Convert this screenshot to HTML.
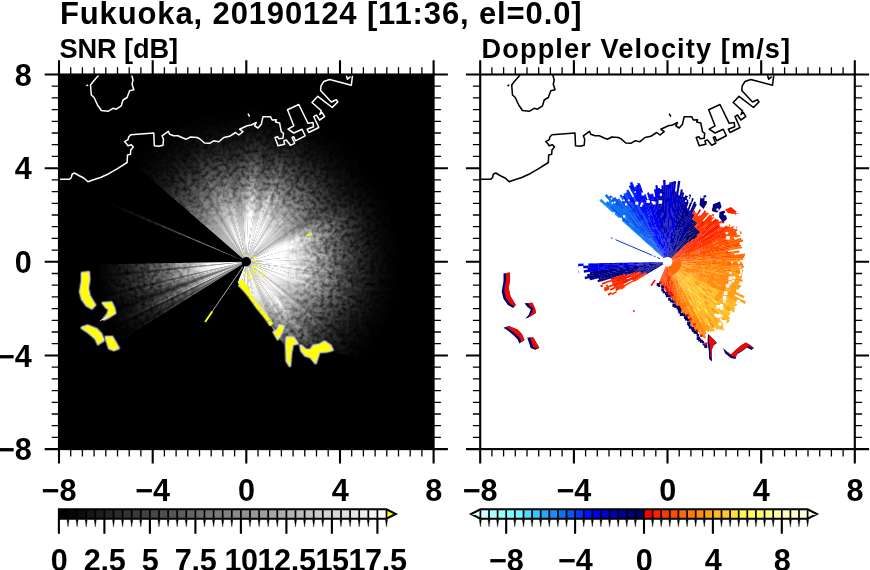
<!DOCTYPE html>
<html lang="en"><head><meta charset="utf-8"><title>Fukuoka, 20190124 [11:36, el=0.0]</title>
<style>
html,body{margin:0;padding:0;background:#fff}
body{width:870px;height:570px;overflow:hidden;position:relative}
svg{position:absolute;left:0;top:0;display:block;will-change:transform}
text{font-family:"Liberation Sans", sans-serif;font-weight:bold;fill:#000}
.ti{font-size:31px;letter-spacing:.87px}
.s1{font-size:27.2px;letter-spacing:-.1px}
.s2{font-size:27.2px;letter-spacing:1.1px}
.tk{font-size:30.6px;letter-spacing:-.3px}
</style></head><body>
<svg width="870" height="570" viewBox="0 0 870 570">
<defs>
<radialGradient id="g0" gradientUnits="userSpaceOnUse" cx="246.3" cy="261.8" r="200"><stop offset="0.000" stop-color="#9e9e9e"/><stop offset="0.080" stop-color="#9e9e9e"/><stop offset="0.130" stop-color="#9b9b9b"/><stop offset="0.180" stop-color="#939393"/><stop offset="0.250" stop-color="#858585"/><stop offset="0.310" stop-color="#727272"/><stop offset="0.375" stop-color="#5a5a5a"/><stop offset="0.440" stop-color="#434343"/><stop offset="0.500" stop-color="#2d2d2d"/><stop offset="0.560" stop-color="#1b1b1b"/><stop offset="0.625" stop-color="#0d0d0d"/><stop offset="0.700" stop-color="#040404"/><stop offset="0.780" stop-color="#000000"/></radialGradient>
<radialGradient id="g1" gradientUnits="userSpaceOnUse" cx="246.3" cy="261.8" r="200"><stop offset="0.000" stop-color="#bcbcbc"/><stop offset="0.080" stop-color="#bcbcbc"/><stop offset="0.130" stop-color="#b9b9b9"/><stop offset="0.180" stop-color="#b0b0b0"/><stop offset="0.250" stop-color="#9f9f9f"/><stop offset="0.310" stop-color="#888888"/><stop offset="0.375" stop-color="#6c6c6c"/><stop offset="0.440" stop-color="#505050"/><stop offset="0.500" stop-color="#363636"/><stop offset="0.560" stop-color="#202020"/><stop offset="0.625" stop-color="#101010"/><stop offset="0.700" stop-color="#050505"/><stop offset="0.780" stop-color="#000000"/></radialGradient>
<radialGradient id="g2" gradientUnits="userSpaceOnUse" cx="246.3" cy="261.8" r="200"><stop offset="0.000" stop-color="#dbdbdb"/><stop offset="0.080" stop-color="#dbdbdb"/><stop offset="0.130" stop-color="#d7d7d7"/><stop offset="0.180" stop-color="#cccccc"/><stop offset="0.250" stop-color="#b8b8b8"/><stop offset="0.310" stop-color="#9e9e9e"/><stop offset="0.375" stop-color="#7d7d7d"/><stop offset="0.440" stop-color="#5d5d5d"/><stop offset="0.500" stop-color="#3e3e3e"/><stop offset="0.560" stop-color="#252525"/><stop offset="0.625" stop-color="#121212"/><stop offset="0.700" stop-color="#060606"/><stop offset="0.780" stop-color="#000000"/></radialGradient>
<radialGradient id="g3" gradientUnits="userSpaceOnUse" cx="246.3" cy="261.8" r="200"><stop offset="0.000" stop-color="#f9f9f9"/><stop offset="0.080" stop-color="#f9f9f9"/><stop offset="0.130" stop-color="#f5f5f5"/><stop offset="0.180" stop-color="#e9e9e9"/><stop offset="0.250" stop-color="#d2d2d2"/><stop offset="0.310" stop-color="#b4b4b4"/><stop offset="0.375" stop-color="#8f8f8f"/><stop offset="0.440" stop-color="#6a6a6a"/><stop offset="0.500" stop-color="#474747"/><stop offset="0.560" stop-color="#2b2b2b"/><stop offset="0.625" stop-color="#151515"/><stop offset="0.700" stop-color="#070707"/><stop offset="0.780" stop-color="#000000"/></radialGradient>
<radialGradient id="g4" gradientUnits="userSpaceOnUse" cx="246.3" cy="261.8" r="200"><stop offset="0.000" stop-color="#ffffff"/><stop offset="0.080" stop-color="#ffffff"/><stop offset="0.130" stop-color="#ffffff"/><stop offset="0.180" stop-color="#ffffff"/><stop offset="0.250" stop-color="#ececec"/><stop offset="0.310" stop-color="#cacaca"/><stop offset="0.375" stop-color="#a0a0a0"/><stop offset="0.440" stop-color="#777777"/><stop offset="0.500" stop-color="#505050"/><stop offset="0.560" stop-color="#303030"/><stop offset="0.625" stop-color="#181818"/><stop offset="0.700" stop-color="#080808"/><stop offset="0.780" stop-color="#000000"/></radialGradient>
<radialGradient id="g5" gradientUnits="userSpaceOnUse" cx="246.3" cy="261.8" r="200"><stop offset="0.000" stop-color="#ffffff"/><stop offset="0.080" stop-color="#ffffff"/><stop offset="0.130" stop-color="#ffffff"/><stop offset="0.180" stop-color="#ffffff"/><stop offset="0.250" stop-color="#ffffff"/><stop offset="0.310" stop-color="#e0e0e0"/><stop offset="0.375" stop-color="#b2b2b2"/><stop offset="0.440" stop-color="#848484"/><stop offset="0.500" stop-color="#595959"/><stop offset="0.560" stop-color="#353535"/><stop offset="0.625" stop-color="#1a1a1a"/><stop offset="0.700" stop-color="#090909"/><stop offset="0.780" stop-color="#000000"/></radialGradient>
<radialGradient id="g6" gradientUnits="userSpaceOnUse" cx="246.3" cy="261.8" r="200"><stop offset="0.000" stop-color="#ffffff"/><stop offset="0.080" stop-color="#ffffff"/><stop offset="0.130" stop-color="#ffffff"/><stop offset="0.180" stop-color="#ffffff"/><stop offset="0.250" stop-color="#ffffff"/><stop offset="0.310" stop-color="#fafafa"/><stop offset="0.375" stop-color="#c6c6c6"/><stop offset="0.440" stop-color="#949494"/><stop offset="0.500" stop-color="#636363"/><stop offset="0.560" stop-color="#3b3b3b"/><stop offset="0.625" stop-color="#1d1d1d"/><stop offset="0.700" stop-color="#0a0a0a"/><stop offset="0.780" stop-color="#000000"/></radialGradient>
<radialGradient id="w0" gradientUnits="userSpaceOnUse" cx="246.3" cy="261.8" r="200"><stop offset="0.000" stop-color="#898989"/><stop offset="0.060" stop-color="#848484"/><stop offset="0.125" stop-color="#797979"/><stop offset="0.210" stop-color="#686868"/><stop offset="0.300" stop-color="#4f4f4f"/><stop offset="0.420" stop-color="#323232"/><stop offset="0.525" stop-color="#1c1c1c"/><stop offset="0.625" stop-color="#0d0d0d"/><stop offset="0.750" stop-color="#000000"/></radialGradient>
<radialGradient id="w1" gradientUnits="userSpaceOnUse" cx="246.3" cy="261.8" r="200"><stop offset="0.000" stop-color="#c8c8c8"/><stop offset="0.060" stop-color="#c0c0c0"/><stop offset="0.125" stop-color="#b0b0b0"/><stop offset="0.210" stop-color="#989898"/><stop offset="0.300" stop-color="#747474"/><stop offset="0.420" stop-color="#494949"/><stop offset="0.525" stop-color="#292929"/><stop offset="0.625" stop-color="#131313"/><stop offset="0.750" stop-color="#000000"/></radialGradient>
<radialGradient id="w2" gradientUnits="userSpaceOnUse" cx="246.3" cy="261.8" r="200"><stop offset="0.000" stop-color="#ffffff"/><stop offset="0.060" stop-color="#fcfcfc"/><stop offset="0.125" stop-color="#e7e7e7"/><stop offset="0.210" stop-color="#c7c7c7"/><stop offset="0.300" stop-color="#989898"/><stop offset="0.420" stop-color="#606060"/><stop offset="0.525" stop-color="#363636"/><stop offset="0.625" stop-color="#191919"/><stop offset="0.750" stop-color="#000000"/></radialGradient>
<radialGradient id="w3" gradientUnits="userSpaceOnUse" cx="246.3" cy="261.8" r="200"><stop offset="0.000" stop-color="#ffffff"/><stop offset="0.060" stop-color="#ffffff"/><stop offset="0.125" stop-color="#ffffff"/><stop offset="0.210" stop-color="#f7f7f7"/><stop offset="0.300" stop-color="#bcbcbc"/><stop offset="0.420" stop-color="#777777"/><stop offset="0.525" stop-color="#434343"/><stop offset="0.625" stop-color="#1f1f1f"/><stop offset="0.750" stop-color="#000000"/></radialGradient>
<clipPath id="fc"><path d="M246.3,261.8L72.7,110.9L40,60L450,60L450,378L385,364L336,353L332.1,349.7L326,346L313.7,346L306,352L300.8,347L296,343L293.4,337.7L287,337.7L286,347.9L279.6,338.7L273.1,329.5L265.8,318.4L256.6,307.4L247.4,294.5L238,283.2L239,279Z"/></clipPath>
<clipPath id="fcr"><path d="M667.5,261.8L493.9,110.9L461.2,60L871.2,60L871.2,378L806.2,364L757.2,353L753.3,349.7L747.2,346L734.9,346L727.2,352L722,347L717.2,343L714.6,337.7L708.2,337.7L707.2,347.9L700.8,338.7L694.3,329.5L687,318.4L677.8,307.4L668.6,294.5L659.2,283.2L660.2,279Z"/></clipPath>
<clipPath id="pl"><rect x="59" y="74.5" width="374.6" height="374.6"/></clipPath>
<clipPath id="pr"><rect x="480.2" y="74.5" width="374.6" height="374.6"/></clipPath>
<filter id="nz" x="0" y="0" width="1" height="1" color-interpolation-filters="sRGB"><feTurbulence type="fractalNoise" baseFrequency="0.24" numOctaves="2" seed="5"/><feColorMatrix type="matrix" values="0 0 0 0 0 0 0 0 0 0 0 0 0 0 0 1.8 0 0 0 -0.62"/></filter>
<radialGradient id="rmg" gradientUnits="userSpaceOnUse" cx="246.3" cy="261.8" r="200"><stop offset="0.18" stop-color="#000"/><stop offset="0.3" stop-color="#666"/><stop offset="0.45" stop-color="#ccc"/><stop offset="0.65" stop-color="#f4f4f4"/></radialGradient>
<mask id="rm" maskUnits="userSpaceOnUse" x="59" y="74.5" width="374.6" height="374.6"><rect x="59" y="74.5" width="374.6" height="374.6" fill="url(#rmg)"/></mask>
</defs>
<rect x="59" y="74.5" width="374.6" height="374.6" fill="#000"/>
<g clip-path="url(#pl)">
<g clip-path="url(#fc)">
<path fill="url(#g1)" d="M246.3,261.8L94.9,131.1L100.5,124.9ZM246.3,261.8L99.6,125.9L106.9,118.4ZM246.3,261.8L105.9,119.4L109.9,115.5ZM246.3,261.8L108.9,116.5L115.1,110.9ZM246.3,261.8L114,111.8L123.7,103.8ZM246.3,261.8L122.6,104.6L127.1,101.2ZM246.3,261.8L140.3,92.2L145.1,89.3ZM246.3,261.8L143.9,90L149.9,86.5ZM246.3,261.8L407.7,143.7L413.7,152.3Z"/>
<path fill="url(#g2)" d="M246.3,261.8L125.9,102.1L134.5,96ZM246.3,261.8L133.3,96.8L138,93.7ZM246.3,261.8L136.8,94.4L141.5,91.5ZM246.3,261.8L148.7,87.2L159.9,81.4ZM246.3,261.8L177.9,73.9L189.8,69.9ZM246.3,261.8L203.4,66.5L211.6,64.8ZM246.3,261.8L210.2,65.1L222.6,63.2ZM246.3,261.8L221.2,63.4L233.7,62.2ZM246.3,261.8L348.7,90L355.8,94.4ZM246.3,261.8L372.7,106.8L377,110.4ZM246.3,261.8L381.2,114.1L385.2,117.9ZM246.3,261.8L384.2,117L390.2,122.9ZM246.3,261.8L394,126.9L399.5,133.2ZM246.3,261.8L398.6,132.2L405.2,140.3ZM246.3,261.8L404.3,139.2L408.5,144.8ZM246.3,261.8L412.9,151.1L416.6,157ZM246.3,261.8L415.9,155.8L419.5,161.8ZM246.3,261.8L407.7,379.9L402.6,386.6ZM246.3,261.8L403.5,385.5L400,389.8ZM246.3,261.8L337.7,439.7L331.5,442.8ZM246.3,261.8L332.7,442.2L321.2,447.2ZM246.3,261.8L263,461.1L257.5,461.5ZM246.3,261.8L228.2,461L221.2,460.2Z"/>
<path fill="url(#g3)" d="M246.3,261.8L158.6,82L163.7,79.7ZM246.3,261.8L162.4,80.2L167.5,78ZM246.3,261.8L166.2,78.5L174,75.3ZM246.3,261.8L172.7,75.8L179.2,73.4ZM246.3,261.8L188.5,70.3L200.6,67.1ZM246.3,261.8L199.3,67.4L204.7,66.2ZM246.3,261.8L232.3,62.3L244.9,61.8ZM246.3,261.8L277.6,64.3L284.5,65.5ZM246.3,261.8L283.1,65.2L289.9,66.6ZM246.3,261.8L288.6,66.3L300.8,69.4ZM246.3,261.8L316.7,74.6L324.4,77.7ZM246.3,261.8L323.2,77.2L328.3,79.4ZM246.3,261.8L337.1,83.6L346.3,88.6ZM246.3,261.8L345.1,87.9L349.9,90.7ZM246.3,261.8L354.6,93.7L365,100.8ZM246.3,261.8L363.9,100L373.8,107.7ZM246.3,261.8L375.9,109.5L382.2,115.1ZM246.3,261.8L389.2,121.9L394.9,128ZM246.3,261.8L418.8,160.6L423.9,169.8ZM246.3,261.8L444.7,286.9L443.7,293.8ZM246.3,261.8L427,347.6L421.2,358.8ZM246.3,261.8L421.9,357.5L419.2,362.4ZM246.3,261.8L419.9,361.2L413.3,371.9ZM246.3,261.8L414,370.7L406.9,381ZM246.3,261.8L393.5,397.2L388.7,402.2ZM246.3,261.8L389.7,401.2L383.7,407.1ZM246.3,261.8L384.7,406.2L377,413.2ZM246.3,261.8L360.4,426L355.8,429.2ZM246.3,261.8L357,428.4L352.3,431.4ZM246.3,261.8L347.5,434.3L341.4,437.7ZM246.3,261.8L342.7,437.1L336.5,440.3ZM246.3,261.8L322.5,446.7L317.3,448.8ZM246.3,261.8L318.6,448.3L306.8,452.4ZM246.3,261.8L308.1,452L301.4,454.1ZM246.3,261.8L302.8,453.7L296,455.5ZM246.3,261.8L297.4,455.2L290.6,456.8ZM246.3,261.8L286.5,457.7L279.7,459ZM246.3,261.8L270,460.4L261.6,461.2ZM246.3,261.8L258.9,461.4L248.4,461.8ZM246.3,261.8L249.8,461.8L242.8,461.8ZM246.3,261.8L244.2,461.8L233.7,461.4ZM246.3,261.8L235.1,461.5L226.8,460.8ZM246.3,261.8L206.1,457.7L193.9,454.8ZM246.3,261.8L195.2,455.2L185.2,452.2ZM246.3,261.8L186.5,452.6L181.2,450.9ZM246.3,261.8L182.5,451.4L172.7,447.8ZM246.3,261.8L174,448.3L164.3,444.2Z"/>
<path fill="url(#g4)" d="M246.3,261.8L243.5,61.8L254,61.9ZM246.3,261.8L270.7,63.3L279,64.5ZM246.3,261.8L299.4,69L311.4,72.7ZM246.3,261.8L327,78.8L333.3,81.7ZM246.3,261.8L332.1,81.1L338.3,84.2ZM246.3,261.8L423.2,168.5L427.9,177.9ZM246.3,261.8L438.4,206L441,216.1ZM246.3,261.8L440.7,214.8L442.9,225ZM246.3,261.8L442.6,223.6L443.8,230.5ZM246.3,261.8L443.6,229.1L444.6,236ZM246.3,261.8L444.4,234.7L445.3,241.6ZM246.3,261.8L446.2,255.5L446.3,263.9ZM246.3,261.8L446.3,262.5L446.2,268.1ZM246.3,261.8L446.2,266.7L445.7,277.1ZM246.3,261.8L443.9,292.4L442.1,302.7ZM246.3,261.8L440.4,310.2L437.6,320.3ZM246.3,261.8L438,318.9L434.7,328.9ZM246.3,261.8L433.8,331.5L431.7,336.7ZM246.3,261.8L432.3,335.4L428.1,345.1ZM246.3,261.8L428.7,343.8L426.4,348.8ZM246.3,261.8L400.8,388.7L392.6,398.2ZM246.3,261.8L378,412.3L373.8,415.9ZM246.3,261.8L367.8,420.7L359.3,426.8ZM246.3,261.8L353.5,430.7L346.3,435ZM246.3,261.8L292,456.5L285.1,458ZM246.3,261.8L281,458.8L268.6,460.6ZM246.3,261.8L222.6,460.4L215.7,459.4ZM246.3,261.8L217.1,459.7L210.2,458.5ZM246.3,261.8L211.6,458.8L204.7,457.4Z"/>
<path fill="url(#g5)" d="M246.3,261.8L252.6,61.9L260.9,62.3ZM246.3,261.8L259.6,62.2L272.1,63.5ZM246.3,261.8L310.1,72.2L318,75.1ZM246.3,261.8L427.3,176.6L430.1,183ZM246.3,261.8L429.6,181.7L433.5,191.4ZM246.3,261.8L433,190.1L435.4,196.7ZM246.3,261.8L434.9,195.4L438.7,207.3ZM246.3,261.8L445.1,240.2L445.7,245.8ZM246.3,261.8L445.5,244.4L446.2,256.9ZM246.3,261.8L445.8,275.8L444.5,288.3ZM246.3,261.8L442.4,301.3L440,311.5ZM246.3,261.8L435.2,327.6L433.3,332.8ZM246.3,261.8L374.9,415L366.7,421.5Z"/>
</g>
<path fill="url(#w0)" d="M246.3,261.8L57.4,327.4L59,332ZM246.3,261.8L66,348.4L68.2,352.8ZM246.3,261.8L72.3,360.4L74.8,364.7Z"/>
<path fill="url(#w1)" d="M246.3,261.8L47,278.7L47.5,283.6ZM246.3,261.8L51.2,305.6L52.3,310.4ZM246.3,261.8L55.9,323.1L57.5,327.7ZM246.3,261.8L58.9,331.7L60.7,336.2ZM246.3,261.8L68,352.4L70.3,356.8ZM246.3,261.8L70.1,356.5L72.5,360.7ZM246.3,261.8L74.6,364.4L76.8,367.9Z"/>
<path fill="url(#w2)" d="M246.3,261.8L53.3,314.4L54.7,319.1ZM246.3,261.8L54.6,318.8L56,323.4ZM246.3,261.8L60.5,335.9L62.4,340.4ZM246.3,261.8L62.3,340.1L64.2,344.6Z"/>
<path fill="url(#w3)" d="M246.3,261.8L46.3,265.1L46.5,270ZM246.3,261.8L46.5,269.7L46.7,274.5ZM246.3,261.8L46.7,274.2L47,279.1ZM246.3,261.8L47.5,283.2L48,288.1ZM246.3,261.8L48,287.7L48.7,292.6ZM246.3,261.8L48.6,292.2L49.4,297ZM246.3,261.8L49.4,296.7L50.3,301.5ZM246.3,261.8L50.2,301.2L51.2,305.9ZM246.3,261.8L52.2,310L53.4,314.7ZM246.3,261.8L64.1,344.3L66.2,348.7Z"/>
<path d="M246.3,261.8L108.8,201.7L107.6,204.6Z" fill="url(#w1)"/>
<rect x="59" y="74.5" width="374.6" height="374.6" fill="#000" filter="url(#nz)" mask="url(#rm)"/>
<path d="M242.9,266.8L212.4,311.3" stroke="#bbb" stroke-width=".9"/>
<path d="M212.4,311.3L205.1,322" stroke="#ff0" stroke-width="1.9"/>
<path d="M239.5,284L243.5,288L248.8,294.2L257.6,306.5L266.6,317.6L271.5,325" fill="none" stroke="#e8e8d0" stroke-opacity=".55" stroke-width="5.5" stroke-linejoin="round"/>
<path d="M239.5,284L243.5,288L248.8,294.2L257.6,306.5L266.6,317.6L271.5,325" fill="none" stroke="#ff0" stroke-width="3.4" stroke-linejoin="round" stroke-dasharray="9 1 5 0.7 7 1.2"/>
<path d="M237.6,281.5L243,279.5L247,286L251,292L246.5,292.5L241,287Z" fill="#ff0"/>
<path fill="#ff0" d="M253.9,266.3h1.1v1.1h-1.1zM239.3,280.9h0.9v0.9h-0.9zM255.5,282.7h1.8v1.8h-1.8zM254.8,266h1.1v1.1h-1.1zM243,271.1h1.1v1.1h-1.1zM254.6,270.3h1.8v1.8h-1.8zM251.8,266.3h1.4v1.4h-1.4zM261.2,271.8h1.8v1.8h-1.8zM263,275.8h1.1v1.1h-1.1zM252.6,275.9h0.9v0.9h-0.9zM262.4,273.6h0.9v0.9h-0.9zM252.5,267.9h1.1v1.1h-1.1zM252.6,279.8h0.9v0.9h-0.9zM248,277h1.8v1.8h-1.8zM252,267.3h0.9v0.9h-0.9zM246.2,272.8h0.9v0.9h-0.9zM252.4,276.7h0.9v0.9h-0.9zM251.2,278.1h1.1v1.1h-1.1zM255.1,272.9h1.8v1.8h-1.8zM250.2,271.5h1.4v1.4h-1.4zM265.1,273.4h1.1v1.1h-1.1zM252.9,267.1h0.9v0.9h-0.9zM248.8,273.2h1.1v1.1h-1.1zM248.9,271.3h1.4v1.4h-1.4zM262.3,277.1h1.1v1.1h-1.1zM261.5,270.7h1.4v1.4h-1.4zM242.7,283.4h1.8v1.8h-1.8zM245.1,284.9h1.8v1.8h-1.8zM253.6,266.9h1.1v1.1h-1.1zM244.4,275.4h1.8v1.8h-1.8zM247.5,271.2h1.4v1.4h-1.4zM243.3,274h1.4v1.4h-1.4zM252.4,274.3h0.9v0.9h-0.9zM249.3,276.8h1.4v1.4h-1.4zM249,268.4h1.1v1.1h-1.1zM253.3,265.4h1.4v1.4h-1.4zM257.2,258.4h1.1v1.1h-1.1zM252.8,259.8h1.8v1.8h-1.8zM243.4,252.2h1.4v1.4h-1.4zM253.6,256.1h1.8v1.8h-1.8zM247,255.3h0.9v0.9h-0.9zM245.2,254.8h0.9v0.9h-0.9zM252.1,260h0.9v0.9h-0.9zM245.3,255.4h1.1v1.1h-1.1zM257.1,264.6h1.8v1.8h-1.8zM257.3,266.5h1.8v1.8h-1.8z"/>
<path d="M279.6,325.8L283.3,326.7L281.4,332.2L277.8,338.7L274.1,332.2L277.8,330.4ZM287,337.7L293.4,337.7L297,343.3L292.5,344.2L290.6,353.4L289.7,365.4L287,360.8L286.5,346ZM300.8,346L306.3,350.6L310.9,349.7L313.7,346L319.2,345.1L324.7,342L330.2,346L332.1,349.7L326.6,351.2L319.2,351.6L317.3,357.1L315.5,362.6L310.9,357.1L305.4,355.2L301.7,350.6ZM82.3,273.4L88.4,272.5L88.9,279.5L87.5,288.3L89.3,296.2L94.6,305L91.9,308L86.7,305L82.3,298.8L80.5,291.8L82.3,281.3ZM103.3,303.2L111.2,302.7L113.9,308.5L114.7,312.9L107.7,317.3L104,319L107.7,314.6L109.5,309.4L106,306.7ZM82.3,327.8L87.5,326L96.3,329.5L100.7,333.9L103.3,340.1L98.1,343.6L96.3,339.2L92.8,335.7L87.5,331.3ZM106,337.4L112.1,337.4L118.2,348L113.9,349.7L109.5,348Z" fill="#ff0" stroke="#d8d8d0" stroke-opacity=".35" stroke-width="4.6" stroke-linejoin="round"/>
<path d="M279.6,325.8L283.3,326.7L281.4,332.2L277.8,338.7L274.1,332.2L277.8,330.4ZM287,337.7L293.4,337.7L297,343.3L292.5,344.2L290.6,353.4L289.7,365.4L287,360.8L286.5,346ZM300.8,346L306.3,350.6L310.9,349.7L313.7,346L319.2,345.1L324.7,342L330.2,346L332.1,349.7L326.6,351.2L319.2,351.6L317.3,357.1L315.5,362.6L310.9,357.1L305.4,355.2L301.7,350.6ZM82.3,273.4L88.4,272.5L88.9,279.5L87.5,288.3L89.3,296.2L94.6,305L91.9,308L86.7,305L82.3,298.8L80.5,291.8L82.3,281.3ZM103.3,303.2L111.2,302.7L113.9,308.5L114.7,312.9L107.7,317.3L104,319L107.7,314.6L109.5,309.4L106,306.7ZM82.3,327.8L87.5,326L96.3,329.5L100.7,333.9L103.3,340.1L98.1,343.6L96.3,339.2L92.8,335.7L87.5,331.3ZM106,337.4L112.1,337.4L118.2,348L113.9,349.7L109.5,348Z" fill="#ff0" stroke="#e8e8e0" stroke-opacity=".8" stroke-width="2.6" stroke-linejoin="round"/>
<path d="M279.6,325.8L283.3,326.7L281.4,332.2L277.8,338.7L274.1,332.2L277.8,330.4ZM287,337.7L293.4,337.7L297,343.3L292.5,344.2L290.6,353.4L289.7,365.4L287,360.8L286.5,346ZM300.8,346L306.3,350.6L310.9,349.7L313.7,346L319.2,345.1L324.7,342L330.2,346L332.1,349.7L326.6,351.2L319.2,351.6L317.3,357.1L315.5,362.6L310.9,357.1L305.4,355.2L301.7,350.6ZM82.3,273.4L88.4,272.5L88.9,279.5L87.5,288.3L89.3,296.2L94.6,305L91.9,308L86.7,305L82.3,298.8L80.5,291.8L82.3,281.3ZM103.3,303.2L111.2,302.7L113.9,308.5L114.7,312.9L107.7,317.3L104,319L107.7,314.6L109.5,309.4L106,306.7ZM82.3,327.8L87.5,326L96.3,329.5L100.7,333.9L103.3,340.1L98.1,343.6L96.3,339.2L92.8,335.7L87.5,331.3ZM106,337.4L112.1,337.4L118.2,348L113.9,349.7L109.5,348Z" fill="#ff0"/>
<path d="M306.2,235.6l5.6,-1.6" stroke="#ff0" stroke-width="1.8"/>
<path d="M100.2,320.6L107,317.4" stroke="#eee" stroke-width="1"/>
<circle cx="246.3" cy="261.8" r="4.7" fill="#000"/>
<path d="M59.3,179.2L69.6,179.2L71.3,177.5L72.1,174.2L74.6,173L78.8,175.5L83.8,178L88,181.7L92.1,180.3L100.5,177.5L108.8,173.7L117.1,168.8L127.1,162.5L127.5,155L130.5,154.2L130.8,149.7L133.3,147L131.3,144.7L128,145.8L126.3,143.3L124.6,141.7L128,139.7L128.8,136.7L130.8,134.7L153.8,133L154.3,145.8L158.8,146.3L163,145.3L163.5,139.2L162.1,135.8L165.5,133.3L168.3,131.3L169.6,134.2L173.8,135.8L178,135.8L183,138L186.3,139.2L190.5,137L197.1,137.5L199.6,138.7L204.6,143L209.6,143.3L213.8,140.8L218.8,141.7L223.8,137.5L229.6,136.3L235.5,132.5L238.8,135L243,131.7L239.6,129.2L247.1,125.8L251.3,125L256.3,122.5L254.6,125.8L258,128L261.3,124.2L263,116.7L270.5,116.7L272.1,120L276.3,119.7L275.5,122L279.6,123L281.3,131.7L283.5,133.3L283,138.3L278.8,138.7L277.6,136.7L275,137.5L278,145.8L284.6,144.2L283.8,140.8L286.3,140L290.5,145.3L294.6,143.3L292.1,137.5L293.8,136.7L295.5,140.8L305.1,135.8L302.1,129.2L293.8,133L288,129.2L293.8,125.8L287.5,109.7L298.8,104.5L308,123.3L313,122.5L313.5,126.7L307.1,129.2L308.8,132.5L318.8,127.5L313.8,116.7L316.3,115L319.6,120L324.6,116.7L322.1,112.5L319.8,114.5L321.3,110.8L312,102.5L317.8,96.3L332.3,107.5L337.8,101.9L336.3,99.8L331.3,102L320.6,90.5L321,85.8L323.8,81.5L329.6,79.5L336.3,81.3L351.3,85.3L352.5,75.5M98.8,75L93,81.7L90.5,85L91.3,95L94.1,97.5L97.5,105L101.3,110.5L108,111.3L113,108.3L116.3,109.2L121.3,105.8L123,100L127.1,97.5L129.6,90.8L133.8,89.7L132.1,84.2L133,80L131.6,75M86.3,86L88.1,84.8M248,113.7L249.6,116.7M346.3,75.3L347.5,79.2L350.5,76.7" fill="none" stroke="#fff" stroke-width="1.5" stroke-linejoin="round"/>
</g>
<g clip-path="url(#pr)">
<path fill="#1890f8" d="M664.5,259.1L660.6,255.6L660.8,255.4L664.6,259ZM660.8,255.8L656.9,252.3L657.2,252L661,255.6ZM657.1,252.5L653.2,248.9L653.6,248.5L657.4,252.1ZM653.4,249.1L649.5,245.6L649.9,245.1L653.7,248.7ZM649.6,245.8L645.7,242.3L646.3,241.6L650.1,245.2ZM645.9,242.4L642,238.9L642.7,238.2L646.5,241.8ZM642.2,239.1L638.3,235.6L639.1,234.7L642.9,238.4ZM638.5,235.8L634.6,232.2L635.5,231.3L639.3,234.9ZM634.8,232.4L630.8,228.9L631.8,227.8L635.6,231.5ZM631,229.1L627.1,225.6L628.2,224.4L632,228ZM627.3,225.7L623.4,222.2L624.6,220.9L628.4,224.6ZM623.6,222.4L619.7,218.9L621,217.5L624.8,221.1ZM619.9,219.1L616,215.6L617.4,214L621.2,217.7ZM616.1,215.7L612.2,212.2L613.7,210.6L617.5,214.2ZM612.4,212.4L608.5,208.9L610.1,207.1L613.9,210.8ZM608.7,209L604.8,205.5L606.5,203.7L610.3,207.3ZM605,205.7L601.1,202.2L602.9,200.3L606.7,203.9ZM601.3,202.4L599.4,200.7L601.2,198.7L603,200.4ZM664.7,259L660.9,255.3L661.1,255.1L664.8,258.9ZM661.1,255.4L657.4,251.7L657.7,251.4L661.3,255.3ZM643.4,237.8L639.7,234.1L640.5,233.3L644.1,237.1ZM632.8,227.2L629.1,223.5L630.2,222.4L633.8,226.2ZM625.7,220.2L622,216.4L623.4,215.1L627,218.9ZM611.5,206L607.9,202.4L609.7,200.6L613.2,204.4Z"/>
<path fill="#1070f0" d="M664.6,259.1L660.8,255.4L661,255.2L664.7,259ZM610.1,207.5L606.3,203.9L608,202.1L611.7,205.8ZM606.5,204.1L605.5,203.1L607.2,201.3L608.2,202.3ZM657.6,251.9L653.9,248.2L654.3,247.8L657.9,251.6ZM654,248.4L650.3,244.7L650.8,244.2L654.4,248ZM650.5,244.9L646.8,241.2L647.4,240.5L651,244.4ZM647,241.3L643.2,237.6L644,236.9L647.6,240.7ZM639.9,234.3L636.2,230.6L637.1,229.6L640.7,233.5ZM636.3,230.7L632.6,227L633.7,226L637.3,229.8ZM629.2,223.7L625.5,220L626.8,218.8L630.4,222.6ZM622.2,216.6L618.4,212.9L619.9,211.5L623.5,215.3ZM618.6,213.1L614.9,209.4L616.5,207.9L620.1,211.7ZM615.1,209.6L611.4,205.9L613,204.2L616.7,208ZM664.7,258.9L661.1,255.1L661.3,254.9L664.8,258.8ZM661.3,255.3L657.7,251.5L658,251.2L661.5,255.1ZM657.8,251.7L654.2,247.9L654.6,247.5L658.2,251.4ZM654.4,248L650.8,244.2L651.3,243.8L654.8,247.7ZM650.9,244.4L647.3,240.6L648,240L651.5,243.9ZM647.5,240.8L643.9,237L644.6,236.3L648.1,240.2ZM644.1,237.2L640.4,233.4L641.3,232.6L644.8,236.5ZM640.6,233.6L637,229.8L637.9,228.9L641.5,232.8ZM637.2,229.9L633.5,226.1L634.6,225.1L638.1,229.1ZM633.7,226.3L630.1,222.5L631.3,221.4L634.8,225.3ZM630.3,222.7L626.6,218.9L627.9,217.7L631.4,221.6ZM626.8,219.1L623.2,215.3L624.6,214L628.1,217.9ZM623.4,215.5L619.7,211.7L621.3,210.3L624.8,214.2ZM619.9,211.8L616.3,208L617.9,206.5L621.4,210.4ZM616.5,208.2L612.8,204.4L614.6,202.8L618.1,206.7ZM613,204.6L609.4,200.8L611.2,199.1L614.7,203ZM609.6,201L606,197.2L607.9,195.4L611.4,199.3ZM606.1,197.3L604.7,195.8L606.7,194L608.1,195.6ZM664.8,258.8L661.3,254.9L661.5,254.8L664.9,258.8ZM658.1,251.4L654.6,247.5L655,247.1L658.4,251.1ZM648.1,240.3L644.5,236.4L645.3,235.7L648.7,239.7ZM627.9,218L624.4,214.1L625.9,212.9L629.3,216.9ZM624.6,214.3L621.1,210.4L622.6,209.1L626,213.1ZM621.2,210.6L617.7,206.7L619.4,205.3L622.8,209.3ZM625.9,213.2L622.4,209.2L624,207.9L627.3,212ZM665,258.7L661.7,254.6L661.9,254.5L665.1,258.6ZM661.8,254.8L658.5,250.7L658.8,250.5L662,254.7ZM658.7,250.9L655.4,246.9L655.8,246.5L659,250.7ZM655.5,247.1L652.2,243L652.8,242.5L656,246.7ZM652.4,243.2L649.1,239.1L649.7,238.6L652.9,242.7ZM649.2,239.3L645.9,235.2L646.7,234.6L649.9,238.8ZM646.1,235.4L642.7,231.3L643.7,230.6L646.8,234.8ZM639.8,227.7L636.4,223.6L637.6,222.7L640.8,226.8ZM636.6,223.8L633.3,219.7L634.5,218.7L637.7,222.9ZM633.4,219.9L630.1,215.8L631.5,214.7L634.7,218.9ZM630.3,216L627,211.9L628.5,210.8L631.7,214.9ZM627.1,212.1L623.8,208.1L625.4,206.8L628.6,211ZM624,208.3L620.7,204.2L622.4,202.8L625.6,207ZM620.8,204.4L617.5,200.3L619.4,198.8L622.6,203ZM617.7,200.5L617,199.7L618.9,198.2L619.5,199ZM665.1,258.6L662,254.3L662.3,254.2L665.2,258.5ZM656.3,246.4L653.2,242.2L653.8,241.8L656.8,246.1ZM653.4,242.4L650.3,238.2L651,237.7L653.9,242ZM650.4,238.4L647.3,234.1L648.1,233.5L651.1,237.9ZM644.5,230.3L641.4,226L642.5,225.3L645.5,229.6ZM641.6,226.2L638.5,222L639.7,221.2L642.6,225.5ZM638.6,222.2L635.5,218L636.9,217L639.8,221.4ZM635.7,218.2L632.6,213.9L634,212.9L637,217.2ZM629.8,210.1L626.7,205.8L628.4,204.7L631.3,209ZM623.9,202L620.8,197.8L622.7,196.4L625.7,200.7Z"/>
<path fill="#0858f0" d="M661,255.6L657.1,252L657.4,251.7L661.1,255.4ZM657.3,252.2L653.5,248.6L653.9,248.2L657.6,251.9ZM653.7,248.7L649.9,245.1L650.4,244.6L654.1,248.3ZM650.1,245.3L646.2,241.7L646.9,241.1L650.6,244.8ZM646.4,241.9L642.6,238.3L643.3,237.5L647,241.3ZM642.8,238.4L639,234.8L639.8,234L643.5,237.7ZM639.2,235L635.3,231.4L636.3,230.5L640,234.2ZM635.5,231.6L631.7,228L632.7,226.9L636.4,230.6ZM631.9,228.1L628.1,224.5L629.2,223.4L632.9,227.1ZM628.3,224.7L624.5,221.1L625.7,219.8L629.4,223.5ZM624.6,221.3L620.8,217.7L622.1,216.3L625.9,220ZM621,217.8L617.2,214.2L618.6,212.7L622.3,216.5ZM617.4,214.4L613.6,210.8L615.1,209.2L618.8,212.9ZM613.7,211L609.9,207.3L611.6,205.7L615.3,209.4ZM661.5,255.1L657.9,251.2L658.3,250.9L661.7,254.9ZM654.8,247.7L651.2,243.8L651.8,243.3L655.2,247.3ZM651.4,244L647.9,240.1L648.5,239.5L651.9,243.5ZM644.7,236.6L641.2,232.7L642.1,231.9L645.5,235.9ZM641.4,232.9L637.8,229L638.8,228.1L642.2,232.1ZM638,229.2L634.5,225.3L635.6,224.3L639,228.3ZM634.6,225.4L631.1,221.5L632.3,220.5L635.7,224.5ZM631.3,221.7L627.8,217.8L629.1,216.7L632.5,220.7ZM617.9,206.9L614.4,203L616.1,201.4L619.5,205.4ZM614.5,203.2L611,199.3L612.9,197.6L616.3,201.6ZM611.2,199.5L608.9,196.9L610.8,195.2L613.1,197.8ZM664.9,258.8L661.5,254.8L661.7,254.6L665,258.7ZM661.6,255L658.2,251L658.6,250.7L661.8,254.8ZM658.4,251.2L655,247.2L655.4,246.8L658.7,250.9ZM655.1,247.4L651.7,243.4L652.3,242.9L655.6,247ZM651.9,243.6L648.5,239.6L649.1,239L652.4,243.1ZM648.6,239.8L645.2,235.8L646,235.1L649.3,239.2ZM645.4,236L642,232L642.9,231.3L646.1,235.3ZM642.1,232.2L638.7,228.2L639.7,227.4L643,231.4ZM638.9,228.4L635.4,224.4L636.6,223.5L639.9,227.6ZM635.6,224.6L632.2,220.6L633.4,219.6L636.7,223.7ZM632.4,220.8L628.9,216.8L630.3,215.7L633.6,219.8ZM629.1,217L625.7,213L627.2,211.8L630.5,215.9ZM622.6,209.4L619.2,205.4L620.9,204L624.2,208.1ZM619.3,205.6L615.9,201.6L617.7,200.1L621,204.2ZM616.1,201.8L613.2,198.5L615.1,196.9L617.9,200.3ZM642.9,231.5L639.6,227.5L640.6,226.6L643.8,230.8ZM665.1,258.6L661.9,254.5L662.1,254.3L665.2,258.6ZM659,250.7L655.8,246.5L656.2,246.2L659.3,250.5ZM655.9,246.7L652.7,242.6L653.3,242.2L656.4,246.4ZM652.9,242.8L649.7,238.6L650.3,238.1L653.4,242.4ZM640.7,226.9L637.5,222.8L638.6,221.9L641.7,226.2ZM634.6,219L631.3,214.9L632.8,213.8L635.8,218.1ZM631.5,215.1L628.3,210.9L629.8,209.8L632.9,214ZM628.5,211.1L625.2,206.9L626.9,205.7L630,210ZM622.3,203.2L621.2,201.7L623.1,200.4L624.1,201.9ZM662.2,254.5L659.1,250.3L659.4,250L662.4,254.4ZM659.3,250.5L656.2,246.2L656.6,245.9L659.6,250.2ZM647.5,234.3L644.4,230.1L645.3,229.4L648.3,233.7ZM632.7,214.1L629.6,209.9L631.2,208.8L634.2,213.1ZM626.8,206L623.8,201.8L625.6,200.5L628.5,204.9ZM621,198L619.4,195.8L621.3,194.4L622.9,196.6ZM665.3,258.4L662.4,254.1L662.7,253.9L665.4,258.4ZM662.6,254.3L659.7,249.9L660.1,249.6L662.8,254.1ZM657.1,245.9L654.3,241.5L654.9,241.1L657.6,245.6ZM654.4,241.7L651.5,237.3L652.3,236.8L655,241.3ZM651.7,237.5L648.8,233.1L649.7,232.6L652.4,237ZM648.9,233.3L646.1,228.9L647.1,228.3L649.8,232.8ZM646.2,229.1L643.3,224.7L644.4,224L647.2,228.5ZM643.5,224.9L640.6,220.5L641.8,219.8L644.6,224.2ZM638,216.6L635.1,212.2L636.6,211.2L639.4,215.7ZM632.5,208.2L629.7,203.8L631.4,202.7L634.2,207.2ZM629.8,204L627,199.6L628.8,198.4L631.6,202.9ZM627.1,199.8L624.2,195.4L626.2,194.2L628.9,198.6ZM624.4,195.6L623.1,193.7L625.1,192.4L626.3,194.4ZM665.6,258.3L663.1,253.7L663.3,253.6L665.7,258.2ZM663.2,253.9L660.7,249.3L661.1,249.1L663.4,253.8ZM660.8,249.5L658.3,244.9L658.8,244.6L661.2,249.3ZM653.6,236.3L651.1,231.7L652,231.3L654.4,235.9ZM651.2,231.9L648.7,227.3L649.7,226.8L652.1,231.5ZM648.8,227.6L646.3,222.9L647.5,222.3L649.9,227ZM646.4,223.2L643.9,218.6L645.2,217.9L647.6,222.6ZM644,218.8L641.5,214.2L643,213.4L645.3,218.1ZM641.7,214.4L639.1,209.8L640.7,209L643.1,213.6ZM639.3,210L636.7,205.4L638.4,204.5L640.8,209.2ZM634.5,201.2L632.4,197.4L634.3,196.4L636.3,200.3Z"/>
<path fill="#0438f0" d="M662,254.7L658.8,250.5L659.1,250.3L662.2,254.5ZM649.8,238.8L646.6,234.7L647.4,234.1L650.5,238.3ZM646.8,234.9L643.6,230.7L644.5,230L647.6,234.3ZM643.7,230.9L640.5,226.7L641.6,226L644.6,230.2ZM637.6,223L634.4,218.8L635.7,217.9L638.8,222.1ZM625.4,207.1L622.2,203L624,201.7L627,205.9ZM665.2,258.5L662.2,254.2L662.5,254L665.3,258.4ZM662.4,254.4L659.4,250.1L659.8,249.8L662.6,254.2ZM659.6,250.3L656.6,246L657,245.6L659.9,250ZM656.7,246.2L653.7,241.8L654.3,241.4L657.2,245.8ZM653.9,242L650.9,237.7L651.6,237.2L654.5,241.6ZM651,237.9L648.1,233.6L648.9,233L651.7,237.5ZM648.2,233.8L645.2,229.5L646.2,228.8L649,233.3ZM645.4,229.7L642.4,225.4L643.5,224.6L646.3,229.1ZM642.5,225.6L639.5,221.3L640.7,220.4L643.6,224.9ZM636.8,217.4L633.9,213L635.3,212.1L638.2,216.5ZM634,213.2L631,208.9L632.6,207.9L635.5,212.3ZM628.3,205L625.3,200.7L627.2,199.5L630,203.9ZM659.9,250.1L657,245.7L657.5,245.4L660.2,249.9ZM640.7,220.8L637.9,216.4L639.2,215.5L642,220ZM635.3,212.4L632.4,208L634,207L636.8,211.4ZM654.9,241.4L652.2,236.9L652.9,236.4L655.5,241ZM649.7,232.8L646.9,228.4L647.9,227.8L650.6,232.3ZM644.4,224.3L641.7,219.9L642.9,219.1L645.6,223.7ZM636.6,211.5L633.8,207.1L635.5,206.1L638.1,210.7ZM634,207.3L631.2,202.8L633,201.8L635.6,206.3ZM628.7,198.8L626,194.3L628,193.1L630.6,197.6ZM626.1,194.5L625.3,193.2L627.3,192L628.1,193.3ZM663,254L660.4,249.5L660.7,249.3L663.2,253.9ZM658,245.4L655.3,240.8L656,240.5L658.5,245.1ZM655.5,241L652.8,236.5L653.6,236.1L656.1,240.7ZM653,236.7L650.3,232.2L651.2,231.7L653.7,236.3ZM650.4,232.4L647.8,227.8L648.8,227.3L651.3,231.9ZM647.9,228.1L645.3,223.5L646.5,222.9L649,227.5ZM645.4,223.7L642.8,219.2L644.1,218.5L646.6,223.1ZM640.4,215.1L637.8,210.5L639.3,209.7L641.8,214.3ZM637.9,210.8L635.3,206.2L636.9,205.3L639.4,209.9ZM630.4,197.8L627.8,193.2L629.8,192.1L632.3,196.7ZM627.9,193.5L626.2,190.6L628.3,189.4L629.9,192.3ZM658.4,245.1L655.9,240.5L656.5,240.2L658.9,244.9ZM656,240.7L653.5,236.1L654.3,235.7L656.6,240.4ZM636.9,205.6L634.4,201L636.2,200L638.5,204.7ZM647.5,222.6L645.1,218L646.4,217.3L648.6,222.1ZM645.2,218.2L642.8,213.5L644.2,212.8L646.5,217.5ZM633.8,195.9L631.4,191.3L633.5,190.2L635.8,195ZM663.8,253.6L661.7,248.8L662.1,248.6L664.1,253.5ZM661.8,249L659.6,244.2L660.2,244L662.2,248.9ZM653.6,230.8L651.5,226L652.5,225.5L654.5,230.4ZM649.5,221.6L647.4,216.8L648.7,216.3L650.7,221.1ZM635.2,189.7L634.1,187.2L636.4,186.3L637.4,188.8ZM664,253.5L662,248.6L662.4,248.5L664.3,253.4ZM648.7,216.6L646.7,211.7L648.1,211.1L650,216ZM656.1,229.8L654.3,224.8L655.4,224.4L657,229.4ZM651.1,215.6L649.3,210.7L650.8,210.2L652.4,215.2ZM664.7,253.2L663.1,248.3L663.5,248.1L665,253.2ZM666.4,258L664.9,252.9L665.1,252.9L666.5,257.9ZM662.1,243.6L660.6,238.6L661.3,238.4L662.6,243.4ZM660.6,238.8L659.1,233.8L660,233.5L661.3,238.6ZM651.3,194.7L651.1,193.8L653.1,193.4L653.3,194.3Z"/>
<path fill="#0010ff" d="M639.7,221.5L636.7,217.1L638,216.3L640.9,220.7ZM631.2,209.1L628.2,204.8L629.9,203.7L632.7,208.1ZM625.5,200.9L622.5,196.6L624.5,195.3L627.3,199.7ZM665.4,258.4L662.7,253.9L662.9,253.8L665.5,258.3ZM662.8,254.1L660,249.7L660.4,249.4L663,254ZM660.2,249.9L657.4,245.4L657.9,245.1L660.5,249.7ZM657.5,245.6L654.8,241.1L655.4,240.8L658,245.3ZM652.3,237.1L649.6,232.6L650.4,232.1L653,236.7ZM647.1,228.6L644.3,224.1L645.4,223.4L648.1,228ZM641.8,220.1L639.1,215.6L640.5,214.8L643.1,219.3ZM639.2,215.8L636.5,211.3L638,210.4L640.6,215ZM631.3,203L628.6,198.6L630.5,197.4L633.1,202ZM665.5,258.3L662.9,253.8L663.1,253.7L665.6,258.3ZM660.5,249.7L657.8,245.1L658.3,244.9L660.8,249.5ZM642.9,219.4L640.3,214.9L641.7,214.1L644.2,218.7ZM635.4,206.4L632.8,201.9L634.6,200.9L637.1,205.5ZM632.9,202.1L630.3,197.6L632.2,196.5L634.7,201.1ZM665.7,258.2L663.3,253.6L663.5,253.4L665.8,258.2ZM663.4,253.8L661,249.1L661.4,248.9L663.6,253.7ZM661.1,249.3L658.7,244.7L659.2,244.4L661.5,249.2ZM658.8,244.9L656.5,240.2L657.1,239.9L659.4,244.6ZM656.6,240.4L654.2,235.8L655,235.4L657.2,240.1ZM654.3,236L651.9,231.3L652.8,230.9L655.1,235.6ZM652,231.5L649.6,226.9L650.7,226.3L652.9,231.1ZM649.7,227.1L647.3,222.4L648.5,221.8L650.8,226.6ZM642.9,213.7L640.5,209.1L642.1,208.3L644.3,213ZM640.6,209.3L638.2,204.6L639.9,203.8L642.2,208.5ZM638.3,204.8L636,200.2L637.8,199.2L640,204ZM636.1,200.4L633.7,195.7L635.7,194.7L637.9,199.5ZM631.5,191.5L629.1,186.8L631.4,185.7L633.6,190.4ZM629.2,187L628.8,186.1L631,185L631.5,185.9ZM665.8,258.2L663.5,253.5L663.8,253.3L665.9,258.1ZM663.6,253.7L661.3,248.9L661.7,248.8L663.9,253.6ZM661.5,249.2L659.2,244.4L659.7,244.2L661.8,249ZM659.3,244.7L657,239.9L657.7,239.6L659.8,244.4ZM657.1,240.2L654.9,235.4L655.6,235.1L657.8,239.9ZM652.8,231.1L650.5,226.4L651.6,225.9L653.7,230.7ZM650.6,226.6L648.4,221.9L649.6,221.3L651.7,226.1ZM646.3,217.6L644.1,212.9L645.5,212.2L647.6,217ZM644.2,213.1L641.9,208.4L643.5,207.6L645.6,212.4ZM642,208.6L639.7,203.9L641.5,203.1L643.6,207.9ZM637.7,199.6L635.4,194.8L637.4,193.9L639.5,198.7ZM633.4,190.6L631.1,185.8L633.4,184.8L635.5,189.6ZM631.2,186L629.7,182.9L632.1,181.8L633.5,185ZM665.9,258.1L663.7,253.4L664,253.2L666,258.1ZM659.7,244.5L657.6,239.7L658.3,239.4L660.3,244.2ZM657.7,239.9L655.6,235.1L656.4,234.8L658.4,239.6ZM655.7,235.3L653.5,230.5L654.4,230.1L656.4,235ZM651.6,226.2L649.4,221.4L650.6,220.9L652.6,225.7ZM647.5,217.1L645.3,212.3L646.8,211.6L648.8,216.5ZM645.5,212.5L643.3,207.7L644.9,207L646.9,211.9ZM643.4,207.9L641.3,203.2L643,202.4L645,207.3ZM641.4,203.4L639.2,198.6L641.1,197.8L643.1,202.6ZM639.3,198.8L637.2,194L639.2,193.2L641.2,198ZM637.3,194.3L635.1,189.5L637.3,188.5L639.3,193.4ZM666,258.1L663.9,253.3L664.2,253.2L666.1,258.1ZM662.1,248.9L660.1,244L660.6,243.8L662.5,248.7ZM660.2,244.3L658.2,239.4L658.8,239.1L660.7,244.1ZM658.3,239.6L656.3,234.8L657.1,234.5L658.9,239.4ZM656.4,235L654.3,230.2L655.3,229.8L657.2,234.7ZM654.4,230.4L652.4,225.6L653.5,225.1L655.4,230ZM650.6,221.2L648.6,216.3L649.9,215.8L651.8,220.7ZM646.7,211.9L644.7,207.1L646.4,206.4L648.2,211.4ZM644.8,207.3L642.8,202.5L644.6,201.8L646.5,206.7ZM642.9,202.7L640.9,197.9L642.8,197.1L644.7,202ZM641,198.1L639,193.3L641,192.4L642.9,197.3ZM639.1,193.5L637,188.6L639.2,187.8L641.1,192.7ZM637.1,188.9L635.8,185.7L638.1,184.8L639.3,188ZM666.1,258.1L664.2,253.2L664.4,253.1L666.2,258ZM662.5,248.7L660.6,243.8L661.1,243.6L662.8,248.6ZM660.7,244.1L658.8,239.2L659.4,238.9L661.2,243.9ZM657.1,234.7L655.2,229.8L656.1,229.5L657.9,234.4ZM651.7,220.8L649.8,215.9L651.1,215.3L652.9,220.3ZM649.9,216.1L648,211.2L649.5,210.6L651.2,215.6ZM642.7,197.4L640.8,192.5L642.8,191.8L644.6,196.7ZM639.1,188.1L637.2,183.2L639.5,182.3L641.3,187.3ZM666.2,258L664.4,253.1L664.7,253L666.3,258ZM664.5,253.3L662.7,248.4L663.1,248.2L664.7,253.2ZM662.8,248.6L661,243.7L661.6,243.5L663.2,248.5ZM661.1,243.9L659.4,239L660,238.7L661.7,243.7ZM659.4,239.2L657.7,234.2L658.5,234L660.1,239ZM657.8,234.5L656,229.5L657,229.2L658.6,234.2ZM654.4,225.1L652.7,220.1L653.9,219.7L655.5,224.7ZM652.7,220.3L651,215.4L652.4,214.9L654,219.9ZM649.4,210.9L647.6,206L649.3,205.4L650.9,210.4ZM647.7,206.2L645.9,201.3L647.8,200.7L649.4,205.7ZM646,201.5L644.3,196.6L646.2,195.9L647.8,200.9ZM644.4,196.8L643.6,194.6L645.6,193.9L646.3,196.1ZM666.3,258L664.6,253L664.9,252.9L666.4,258ZM663.2,248.5L661.5,243.5L662.1,243.3L663.5,248.4ZM661.6,243.7L660,238.7L660.7,238.5L662.1,243.6ZM660,239L658.4,234L659.2,233.7L660.7,238.8ZM647.6,201L647.2,199.8L649.1,199.2L649.4,200.4ZM664.9,253.2L663.4,248.1L663.8,248L665.2,253.1ZM663.5,248.4L662,243.4L662.6,243.2L663.9,248.3ZM659.2,234L657.7,229L658.7,228.7L660,233.8ZM649.2,200.5L647.7,195.4L649.7,194.9L651,200ZM647.8,195.7L647,192.9L649,192.3L649.8,195.1ZM666.5,257.9L665.1,252.9L665.4,252.8L666.6,257.9ZM665.2,253.1L663.8,248L664.2,247.9L665.4,253ZM663.9,248.3L662.5,243.2L663,243.1L664.3,248.2ZM661.2,238.6L659.9,233.6L660.7,233.3L661.9,238.5ZM650.8,200L649.5,194.9L651.5,194.4L652.7,199.5ZM649.5,195.2L649.4,194.6L651.4,194.1L651.5,194.7ZM666.6,257.9L665.3,252.8L665.6,252.7L666.7,257.9ZM665.4,253.1L664.1,247.9L664.6,247.9L665.6,253ZM664.2,248.2L663,243.1L663.5,243L664.6,248.1ZM663,243.3L661.8,238.2L662.5,238.1L663.6,243.2ZM661.9,238.5L660.6,233.4L661.5,233.2L662.6,238.3ZM652.5,199.6L651.2,194.5L653.2,194L654.3,199.2ZM663.5,243.2L662.4,238.1L663.1,237.9L664.1,243.1ZM662.5,238.3L661.4,233.2L662.2,233L663.2,238.2ZM664.5,243L663.7,237.9L664.4,237.8L665.1,243ZM667.3,257.8L667,252.6L667.3,252.6L667.4,257.8ZM608.5,263L603.3,263.1L603.3,265.1L608.6,264.8ZM583.5,263.6L578.3,263.7L578.4,266.3L583.6,266ZM663.5,262.1L658.3,262.5L658.3,262.8L663.5,262.2ZM603.7,266.5L598.4,266.9L598.6,268.9L603.8,268.4Z"/>
<path fill="#0000f0" d="M655,235.6L652.7,230.9L653.6,230.5L655.8,235.3ZM648.5,222.1L646.2,217.4L647.5,216.8L649.7,221.6ZM639.8,204.1L637.6,199.3L639.4,198.5L641.6,203.3ZM635.5,195.1L633.3,190.3L635.4,189.3L637.5,194.1ZM652.5,225.8L650.5,220.9L651.7,220.5L653.6,225.4ZM664.3,253.4L662.4,248.5L662.8,248.4L664.5,253.3ZM658.9,239.4L657,234.5L657.8,234.2L659.5,239.2ZM655.3,230.1L653.4,225.2L654.5,224.8L656.2,229.7ZM653.5,225.4L651.6,220.5L652.8,220.1L654.5,225ZM648.1,211.4L646.2,206.5L647.8,205.9L649.6,210.9ZM646.3,206.8L644.4,201.9L646.2,201.2L647.9,206.1ZM644.5,202.1L642.6,197.2L644.5,196.5L646.2,201.4ZM640.9,192.8L639,187.9L641.2,187L642.9,192ZM637.3,183.4L637.1,183.1L639.5,182.3L639.6,182.6ZM655.4,224.7L653.8,219.7L655,219.4L656.5,224.4ZM653.8,220L652.2,215L653.6,214.6L655.1,219.6ZM652.3,215.2L650.6,210.2L652.2,209.8L653.7,214.8ZM650.7,210.5L649.1,205.5L650.8,205L652.3,210ZM657.8,229.2L656.3,224.2L657.4,223.9L658.8,228.9ZM656.4,224.4L654.9,219.4L656.1,219L657.5,224.1ZM654.9,219.6L653.4,214.6L654.8,214.2L656.2,219.3ZM653.5,214.8L652,209.8L653.6,209.4L654.9,214.4ZM652.1,210.1L650.6,205L652.3,204.5L653.6,209.6ZM650.6,205.3L649.1,200.2L651,199.7L652.3,204.8ZM662.6,243.5L661.2,238.4L661.9,238.2L663.1,243.3ZM658.6,229L657.3,223.9L658.4,223.6L659.6,228.7ZM657.3,224.1L656,219.1L657.2,218.8L658.5,223.9ZM656,219.3L654.7,214.3L656.1,213.9L657.3,219ZM652.1,204.8L650.8,199.8L652.6,199.3L653.8,204.4ZM660.7,233.6L659.4,228.5L660.4,228.3L661.5,233.4ZM659.5,228.8L658.3,223.7L659.4,223.4L660.5,228.5ZM658.3,223.9L657.1,218.8L658.4,218.5L659.5,223.6ZM656,214.2L654.7,209.1L656.3,208.7L657.4,213.9ZM654.8,209.3L653.6,204.2L655.3,203.8L656.4,209ZM666.7,257.9L665.6,252.8L665.8,252.7L666.8,257.9ZM665.6,253L664.5,247.9L664.9,247.8L665.9,252.9ZM664.6,248.1L663.5,243L664,242.9L665,248ZM661.4,233.4L660.3,228.3L661.3,228.1L662.3,233.3ZM654.1,199.2L653.6,196.9L655.5,196.5L655.9,198.9ZM666.8,257.9L665.8,252.7L666.1,252.7L666.9,257.8ZM664.9,248L664,242.9L664.5,242.8L665.3,248ZM664,243.1L663,238L663.7,237.8L664.6,243ZM663.1,238.2L662.1,233L663,232.9L663.8,238.1ZM655.7,198.9L654.8,193.7L656.8,193.4L657.6,198.6ZM654.8,194L653.9,189.3L656.1,188.9L656.8,193.6ZM666.9,257.9L666,252.7L666.3,252.6L667,257.8ZM666.1,252.9L665.2,247.7L665.7,247.7L666.3,252.9ZM665.3,248L664.5,242.8L665,242.7L665.7,247.9ZM663.7,238.1L662.9,232.9L663.7,232.8L664.4,238ZM660.5,218.4L659.7,213.2L661.2,213L661.8,218.2ZM659,208.5L658.1,203.3L659.9,203L660.5,208.2ZM657.4,198.6L656.5,193.4L658.6,193.1L659.3,198.3ZM656.6,193.7L655.8,188.5L657.9,188.2L658.6,193.4ZM655.8,188.7L655.3,185.4L657.5,185L658,188.4ZM667,257.8L666.3,252.6L666.5,252.6L667.1,257.8ZM666.3,252.9L665.6,247.7L666,247.6L666.6,252.8ZM665,243L664.3,237.8L665,237.7L665.5,242.9ZM664.3,238L663.6,232.8L664.5,232.7L665,237.9ZM659,198.4L658.3,193.2L660.4,192.9L660.9,198.1ZM658.4,193.4L657.7,188.3L659.9,188.1L660.4,193.2ZM667.1,257.8L666.5,252.6L666.8,252.6L667.2,257.8ZM666.5,252.9L666,247.6L666.4,247.6L666.8,252.8ZM666,247.9L665.5,242.7L666,242.6L666.4,247.8ZM667,252.8L666.7,247.6L667.2,247.6L667.3,252.8ZM666.7,247.8L666.5,242.6L667,242.6L667.2,247.8ZM666.2,237.8L665.9,232.6L666.8,232.6L666.9,237.8ZM664,197.9L663.8,192.7L665.8,192.6L665.9,197.8ZM663.8,192.9L663.5,187.7L665.7,187.6L665.8,192.8ZM663.5,187.9L663.2,182.7L665.6,182.6L665.7,187.8ZM667.5,252.8L667.5,247.6L667.9,247.6L667.8,252.8ZM667.4,232.8L667.4,227.6L668.5,227.6L668.3,232.8ZM667.4,217.8L667.4,212.6L668.9,212.6L668.7,217.8ZM667.4,207.8L667.4,202.6L669.2,202.6L669,207.8ZM668,242.8L668.1,237.6L668.8,237.6L668.5,242.8ZM669.1,197.8L669.2,192.6L671.2,192.7L671,197.9ZM669.2,192.8L669.3,187.6L671.5,187.7L671.2,192.9ZM669.4,182.8L669.4,182.3L671.8,182.4L671.8,182.9ZM668,252.8L668.2,247.6L668.6,247.6L668.2,252.8ZM668.7,237.8L669,232.6L669.8,232.6L669.4,237.9ZM669,232.8L669.2,227.6L670.2,227.7L669.8,232.9ZM669.2,227.8L669.5,222.6L670.6,222.7L670.2,227.9ZM669.5,222.8L669.7,217.6L671,217.7L670.6,222.9ZM670,212.9L670.2,207.6L671.9,207.7L671.4,213ZM671.2,187.9L671.5,182.7L673.9,182.8L673.4,188ZM669.5,242.9L670,237.7L670.7,237.8L670,243ZM670.5,233L671,227.7L672,227.9L671.3,233.1ZM674.6,193.2L674.8,191.4L676.9,191.6L676.6,193.4ZM663.5,261.9L658.3,262L658.3,262.3L663.5,262ZM648.5,262.2L643.3,262.3L643.3,263L648.5,262.8ZM643.5,262.3L638.3,262.4L638.3,263.3L643.5,263ZM633.5,262.5L628.3,262.6L628.3,263.8L633.5,263.5ZM628.5,262.6L623.3,262.7L623.3,264L628.5,263.8ZM618.5,262.8L613.3,262.9L613.3,264.5L618.6,264.3ZM598.5,263.2L593.3,263.4L593.3,265.6L598.6,265.3ZM593.5,263.3L588.3,263.5L588.4,265.8L593.6,265.5ZM663.5,262L658.3,262.2L658.3,262.5L663.5,262.1ZM658.5,262.2L653.3,262.5L653.3,262.9L658.5,262.5ZM628.5,263.6L623.3,263.9L623.4,265.2L628.6,264.8ZM613.6,264.3L608.3,264.6L608.4,266.3L613.7,265.9ZM608.6,264.6L603.3,264.8L603.4,266.7L608.7,266.3ZM598.6,265.1L593.3,265.3L593.5,267.5L598.7,267.1ZM593.6,265.3L588.3,265.5L588.5,267.9L593.7,267.5ZM658.5,262.5L653.3,262.8L653.3,263.3L658.5,262.7ZM653.5,262.8L648.3,263.2L648.4,263.8L653.6,263.2ZM643.6,263.6L638.3,263.9L638.4,264.8L643.6,264.3ZM638.6,263.9L633.3,264.3L633.4,265.3L638.7,264.8ZM633.6,264.3L628.4,264.7L628.5,265.8L633.7,265.3ZM628.6,264.7L623.4,265L623.5,266.3L628.7,265.8ZM623.6,265L618.4,265.4L618.5,266.9L623.7,266.3ZM598.7,266.9L593.4,267.2L593.6,269.4L598.9,268.9ZM653.6,263.2L648.3,263.7L648.4,264.3L653.6,263.6ZM633.7,265.2L628.4,265.7L628.6,266.9L633.8,266.2ZM628.7,265.7L623.5,266.2L623.6,267.5L628.8,266.8ZM613.8,267.2L608.5,267.7L608.7,269.4L613.9,268.8ZM608.8,267.7L603.6,268.2L603.8,270.1L609,269.4ZM603.8,268.2L598.6,268.7L598.8,270.7L604,270ZM598.8,268.7L593.6,269.2L593.9,271.4L599.1,270.7Z"/>
<path fill="#0000d0" d="M658.5,234.2L656.9,229.2L657.8,228.9L659.3,234ZM656.9,229.5L655.3,224.5L656.4,224.1L657.9,229.2ZM649.2,205.7L647.5,200.7L649.4,200.2L650.8,205.2ZM659.9,233.8L658.6,228.7L659.6,228.5L660.8,233.6ZM654.7,214.5L653.4,209.4L654.9,209L656.1,214.1ZM653.4,209.7L652.1,204.6L653.8,204.2L655,209.3ZM657.2,219L655.9,213.9L657.3,213.6L658.4,218.7ZM653.6,204.5L652.4,199.4L654.3,198.9L655.3,204.1ZM660.4,228.6L659.3,223.4L660.4,223.2L661.4,228.4ZM659.3,223.7L658.2,218.5L659.5,218.3L660.5,223.4ZM658.3,218.8L657.2,213.6L658.6,213.4L659.6,218.5ZM657.2,213.9L656.1,208.8L657.7,208.4L658.7,213.6ZM656.2,209L655.1,203.9L656.8,203.5L657.8,208.7ZM655.1,204.1L654,199L655.9,198.6L656.8,203.8ZM665.8,253L664.9,247.8L665.3,247.7L666.1,252.9ZM661.2,228.4L660.3,223.2L661.4,223L662.2,228.2ZM660.3,223.5L659.4,218.3L660.7,218.1L661.5,223.3ZM659.4,218.6L658.4,213.4L659.9,213.1L660.7,218.3ZM658.5,213.6L657.5,208.5L659.1,208.2L659.9,213.4ZM662.9,233.2L662.1,228L663.1,227.8L663.8,233ZM662.1,228.2L661.3,223L662.4,222.9L663.1,228.1ZM661.3,223.3L660.5,218.1L661.8,217.9L662.5,223.1ZM659.8,213.4L658.9,208.2L660.5,208L661.2,213.2ZM658.2,203.5L657.3,198.4L659.2,198.1L659.9,203.3ZM665.6,247.9L665,242.7L665.5,242.7L666.1,247.9ZM663,228.1L662.3,222.9L663.5,222.8L664,228ZM662.3,223.1L661.6,217.9L663,217.8L663.5,223ZM661.7,218.2L661,213L662.4,212.8L663,218ZM661,213.2L660.3,208L661.9,207.8L662.5,213.1ZM660.4,208.3L659.7,203.1L661.4,202.9L661.9,208.1ZM665.5,242.9L664.9,237.7L665.6,237.6L666,242.9ZM664.9,237.9L664.4,232.7L665.3,232.6L665.7,237.9ZM660.7,198.2L660.1,192.9L662.2,192.8L662.6,198ZM660.2,193.2L659.7,189.3L661.9,189.1L662.2,193ZM667.2,257.8L666.8,252.6L667,252.6L667.3,257.8ZM666.8,252.8L666.4,247.6L666.8,247.6L667,252.8ZM666.4,247.8L666,242.6L666.5,242.6L666.8,247.8ZM666,242.9L665.6,237.6L666.3,237.6L666.5,242.8ZM662.4,198L661.9,192.8L664,192.6L664.3,197.9ZM661.6,188L661.4,185.5L663.6,185.3L663.8,187.9ZM666.5,242.8L666.2,237.6L666.9,237.6L667,242.8ZM665.7,227.8L665.4,222.6L666.5,222.6L666.7,227.8ZM665.4,222.9L665.1,217.6L666.4,217.6L666.5,222.8ZM665.1,217.9L664.8,212.6L666.3,212.6L666.4,217.8ZM664.9,212.9L664.6,207.6L666.2,207.6L666.3,212.8ZM664.6,207.9L664.3,202.6L666.1,202.6L666.2,207.8ZM663.2,182.9L663.1,180.1L665.5,180L665.6,182.8ZM667.1,247.8L667,242.6L667.5,242.6L667.5,247.8ZM666.8,237.8L666.7,232.6L667.6,232.6L667.5,237.8ZM666.3,217.8L666.1,212.6L667.6,212.6L667.6,217.8ZM666,207.8L665.8,202.6L667.6,202.6L667.6,207.8ZM665.9,202.8L665.7,197.6L667.6,197.6L667.6,202.8ZM665.4,187.8L665.4,185L667.6,185L667.6,187.8ZM667.5,257.8L667.5,252.6L667.8,252.6L667.6,257.8ZM667.5,247.8L667.5,242.6L668,242.6L667.9,247.8ZM667.5,242.8L667.5,237.6L668.2,237.6L668,242.8ZM667.5,237.8L667.4,232.6L668.3,232.6L668.2,237.8ZM667.4,227.8L667.4,222.6L668.6,222.6L668.4,227.8ZM667.4,222.8L667.4,217.6L668.7,217.6L668.6,222.8ZM667.4,212.8L667.4,207.6L669,207.6L668.9,212.8ZM667.4,202.8L667.4,197.6L669.3,197.6L669.1,202.8ZM667.4,197.8L667.4,192.6L669.4,192.6L669.3,197.8ZM667.4,192.8L667.4,187.6L669.6,187.6L669.4,192.8ZM667.4,187.8L667.4,184.4L669.7,184.4L669.6,187.8ZM667.6,257.8L667.7,252.6L668,252.6L667.7,257.8ZM667.7,252.8L667.8,247.6L668.3,247.6L668,252.8ZM667.8,247.8L668,242.6L668.5,242.6L668.3,247.8ZM668.1,237.8L668.2,232.6L669.1,232.6L668.8,237.8ZM668.2,232.8L668.3,227.6L669.4,227.6L669.1,232.8ZM668.3,227.8L668.5,222.6L669.6,222.6L669.3,227.8ZM668.5,222.8L668.6,217.6L669.9,217.6L669.6,222.9ZM668.6,217.8L668.7,212.6L670.2,212.6L669.9,217.9ZM668.7,212.8L668.8,207.6L670.4,207.6L670.1,212.9ZM668.8,207.8L668.9,202.6L670.7,202.6L670.4,207.9ZM668.9,202.8L669.1,197.6L671,197.6L670.7,202.9ZM669.3,187.8L669.4,182.6L671.8,182.7L671.5,187.9ZM667.7,257.8L668,252.6L668.2,252.6L667.8,257.8ZM668.2,247.8L668.5,242.6L669,242.6L668.6,247.8ZM668.5,242.8L668.7,237.6L669.4,237.6L669,242.9ZM669.7,217.9L670,212.6L671.4,212.7L671,217.9ZM670.2,207.9L670.5,202.6L672.3,202.7L671.8,208ZM670.5,202.9L670.8,197.6L672.7,197.8L672.2,203ZM670.7,197.9L671,192.6L673.1,192.8L672.6,198ZM671,192.9L671.3,187.6L673.5,187.8L673,193ZM671.5,182.9L671.6,181.8L673.9,181.9L673.8,183.1ZM667.9,257.8L668.5,252.6L668.7,252.6L668,257.8ZM668.4,252.8L669,247.6L669.4,247.7L668.7,252.9ZM668.9,247.9L669.5,242.7L670,242.7L669.4,247.9ZM670,237.9L670.5,232.7L671.4,232.8L670.7,238ZM671,228L671.5,222.8L672.7,222.9L672,228.1ZM671.5,223L672,217.8L673.4,217.9L672.7,223.1ZM672,218L672.6,212.8L674,213L673.3,218.2ZM672.5,213.1L673.1,207.8L674.7,208L674,213.2ZM673.1,208.1L673.6,202.9L675.3,203.1L674.6,208.3ZM673.6,203.1L674.1,197.9L676,198.1L675.3,203.3ZM674.1,198.1L674.6,192.9L676.7,193.2L676,198.4ZM668.7,252.9L669.3,247.7L669.8,247.7L668.9,252.9ZM670.6,238L671.3,232.8L672.1,232.9L671.3,238.1ZM671.9,228.1L672.6,222.9L673.7,223L672.9,228.2ZM672.5,223.1L673.2,217.9L674.5,218.1L673.7,223.3ZM673.8,213.2L674.5,208L676.1,208.2L675.2,213.4ZM675.1,203.3L675.8,198.1L677.7,198.4L676.8,203.5ZM668.1,257.8L668.9,252.7L669.2,252.7L668.2,257.9ZM668.9,252.9L669.7,247.7L670.1,247.8L669.2,253ZM669.7,248L670.5,242.8L671,242.9L670.1,248ZM671.2,238.1L672,232.9L672.9,233L671.9,238.2ZM672,233.1L672.8,228L673.8,228.1L672.8,233.3ZM672.8,228.2L673.6,223L674.7,223.2L673.8,228.4ZM673.5,223.3L674.3,218.1L675.6,218.3L674.7,223.5ZM674.3,218.3L675.1,213.1L676.6,213.4L675.6,218.6ZM675.1,213.4L675.9,208.2L677.5,208.5L676.5,213.6ZM675.9,208.5L676.7,203.3L678.4,203.6L677.4,208.7ZM676.6,203.5L677.4,198.3L679.3,198.6L678.4,203.8ZM677.4,198.6L677.9,195.1L679.9,195.4L679.3,198.9ZM669.1,252.9L670.1,247.8L670.5,247.9L669.4,253ZM670,248L671,242.9L671.5,243L670.4,248.1ZM671.8,238.2L672.8,233L673.6,233.2L672.5,238.3ZM672.7,233.3L673.7,228.1L674.7,228.3L673.6,233.4ZM673.6,228.4L674.6,223.2L675.7,223.4L674.6,228.6ZM677.2,208.7L678.2,203.5L679.9,203.9L678.8,209ZM678.2,203.8L679.1,198.6L681,199L679.9,204.1ZM679.1,198.9L680,193.7L682,194.1L680.9,199.2ZM658.5,262L653.3,262.1L653.3,262.5L658.5,262.3ZM653.5,262.1L648.3,262.2L648.3,262.8L653.5,262.5ZM638.5,262.4L633.3,262.5L633.3,263.5L638.5,263.3ZM623.5,262.7L618.3,262.8L618.3,264.3L623.6,264ZM613.5,262.9L608.3,263L608.3,264.8L613.6,264.5ZM603.5,263.1L598.3,263.3L598.3,265.3L603.6,265ZM578.5,263.7L577.9,263.7L578,266.3L578.6,266.3ZM653.5,262.5L648.3,262.7L648.3,263.3L653.5,262.9ZM643.5,262.9L638.3,263.2L638.3,264L643.6,263.6ZM638.5,263.2L633.3,263.4L633.4,264.4L638.6,264ZM633.5,263.4L628.3,263.6L628.4,264.8L633.6,264.4ZM618.6,264.1L613.3,264.4L613.4,266L618.6,265.6ZM603.6,264.8L598.3,265.1L598.5,267.1L603.7,266.7ZM588.6,265.5L583.3,265.8L583.5,268.3L588.7,267.9ZM583.6,265.8L583.2,265.8L583.3,268.3L583.7,268.2ZM648.6,263.2L643.3,263.6L643.4,264.3L648.6,263.8ZM618.6,265.4L613.4,265.8L613.5,267.4L618.8,266.8ZM613.6,265.8L608.4,266.1L608.6,267.9L613.8,267.4ZM608.7,266.1L603.4,266.5L603.6,268.4L608.8,267.9ZM593.7,267.2L588.5,267.6L588.7,269.9L593.9,269.4ZM588.7,267.6L587.5,267.7L587.7,270L588.9,269.9ZM663.5,262.2L658.3,262.7L658.3,263L663.5,262.3ZM658.5,262.7L653.3,263.2L653.4,263.6L658.6,263ZM648.6,263.7L643.4,264.2L643.5,264.9L648.7,264.2ZM643.6,264.2L638.4,264.7L638.5,265.6L643.7,264.9ZM638.6,264.7L633.4,265.2L633.5,266.2L638.7,265.5ZM623.7,266.2L618.5,266.7L618.7,268.1L623.9,267.5ZM618.7,266.7L613.5,267.2L613.7,268.8L618.9,268.1ZM593.9,269.1L588.6,269.7L588.9,272L594.1,271.3ZM588.9,269.6L583.7,270.2L584,272.7L589.2,272ZM578.9,270.6L578.5,270.7L578.8,273.3L579.2,273.3Z"/>
<path fill="#0000b0" d="M662.2,233.3L661.2,228.1L662.2,228L663,233.1ZM657.6,208.7L656.6,203.6L658.3,203.3L659.1,208.5ZM656.6,203.8L655.7,198.6L657.6,198.3L658.4,203.5ZM663.7,233.1L663,227.9L664,227.7L664.5,233ZM659.7,203.3L659,198.1L660.9,197.9L661.4,203.1ZM664.4,233L663.9,227.7L664.9,227.7L665.3,232.9ZM663.9,228L663.3,222.8L664.5,222.7L664.9,227.9ZM663.4,223L662.8,217.8L664.1,217.7L664.5,222.9ZM662.8,218L662.3,212.8L663.7,212.7L664.1,217.9ZM662.3,213.1L661.7,207.9L663.3,207.7L663.7,212.9ZM661.8,208.1L661.2,202.9L663,202.7L663.4,208ZM661.2,203.1L660.7,197.9L662.6,197.7L663,203ZM665.6,237.9L665.2,232.6L666,232.6L666.3,237.8ZM664.4,222.9L664,217.7L665.3,217.6L665.5,222.8ZM663.6,213L663.1,207.7L664.8,207.6L665,212.9ZM663.2,208L662.7,202.7L664.5,202.6L664.8,207.9ZM662,193L661.5,187.8L663.7,187.6L664,192.9ZM665.9,232.8L665.6,227.6L666.7,227.6L666.8,232.8ZM664.3,202.9L664,197.6L665.9,197.6L666.1,202.8ZM667.4,257.8L667.2,252.6L667.5,252.6L667.5,257.8ZM667.2,252.8L667.1,247.6L667.5,247.6L667.5,252.8ZM667,242.8L666.8,237.6L667.5,237.6L667.5,242.8ZM666.7,232.8L666.5,227.6L667.6,227.6L667.6,232.8ZM666.6,227.8L666.4,222.6L667.6,222.6L667.6,227.8ZM666.4,222.8L666.3,217.6L667.6,217.6L667.6,222.8ZM666.1,212.8L666,207.6L667.6,207.6L667.6,212.8ZM665.7,197.8L665.6,192.6L667.6,192.6L667.6,197.8ZM665.6,192.8L665.4,187.6L667.6,187.6L667.6,192.8ZM667.8,257.8L668.2,252.6L668.5,252.6L667.9,257.8ZM668.2,252.8L668.6,247.6L669,247.6L668.5,252.9ZM669,242.9L669.4,237.6L670.1,237.7L669.5,242.9ZM669.3,237.9L669.7,232.6L670.6,232.7L670.1,237.9ZM669.7,232.9L670.1,227.7L671.1,227.7L670.6,233ZM670.1,227.9L670.5,222.7L671.7,222.8L671.1,228ZM670.9,217.9L671.3,212.7L672.7,212.8L672.2,218ZM671.3,212.9L671.7,207.7L673.3,207.9L672.7,213.1ZM671.6,208L672,202.7L673.8,202.9L673.2,208.1ZM672,203L672.4,197.7L674.3,197.9L673.8,203.1ZM672.8,193L673.2,187.8L675.4,188L674.8,193.2ZM673.2,188L673.6,182.8L675.9,183L675.4,188.2ZM673.6,183L673.7,181.1L676.1,181.3L675.9,183.2ZM668,257.8L668.7,252.6L669,252.7L668.1,257.9ZM669.3,247.9L670,242.7L670.5,242.8L669.7,248ZM669.9,243L670.6,237.8L671.3,237.9L670.5,243ZM671.2,233L671.9,227.8L672.9,228L672.1,233.2ZM673.2,218.2L673.8,213L675.3,213.2L674.5,218.4ZM674.5,208.2L675.1,203L676.9,203.3L676,208.5ZM675.7,198.3L676.4,193.1L678.5,193.4L677.6,198.6ZM676.4,193.4L677.1,188.2L679.2,188.5L678.4,193.7ZM677,188.4L677.7,183.2L680,183.5L679.2,188.7ZM677.7,183.5L678,180.8L680.4,181.2L680,183.8ZM670.4,243L671.3,237.8L672,238L671,243.1ZM668.2,257.9L669.2,252.7L669.4,252.8L668.3,257.9ZM670.9,243.1L671.9,237.9L672.6,238.1L671.5,243.2ZM674.5,223.4L675.5,218.3L676.8,218.5L675.7,223.7ZM675.4,218.5L676.4,213.4L677.8,213.6L676.7,218.8ZM676.3,213.6L677.3,208.4L678.9,208.8L677.8,213.9ZM680,193.9L680.8,189.3L682.9,189.8L682,194.3ZM668.3,257.9L669.4,252.7L669.7,252.8L668.4,257.9ZM671.4,243.2L672.5,238.1L673.2,238.2L672,243.3ZM673.5,233.4L674.6,228.3L675.6,228.5L674.3,233.6ZM674.5,228.5L675.6,223.4L676.7,223.7L675.5,228.8ZM675.5,223.6L676.6,218.5L677.9,218.8L676.7,223.9ZM676.6,218.7L677.7,213.6L679.1,213.9L677.8,219ZM677.6,213.9L678.7,208.7L680.3,209.1L679,214.2ZM679.7,204.1L680.7,198.9L682.6,199.4L681.4,204.5ZM680.7,199.2L681.8,194L683.8,194.5L682.5,199.6ZM668.4,257.9L669.6,252.8L669.9,252.9L668.5,257.9ZM671.9,243.3L673.1,238.2L673.8,238.4L672.4,243.5ZM673.1,238.5L674.3,233.3L675.1,233.6L673.8,238.6ZM674.2,233.6L675.4,228.5L676.4,228.7L675.1,233.8ZM675.4,228.7L676.6,223.6L677.7,223.9L676.4,229ZM680,209.3L681.2,204.2L682.9,204.6L681.6,209.7ZM668.5,257.9L669.9,252.9L670.1,252.9L668.6,258ZM669.8,253.1L671.2,248L671.6,248.1L670.1,253.2ZM671.1,248.3L672.4,243.2L673,243.4L671.5,248.4ZM672.4,243.4L673.7,238.4L674.4,238.6L672.9,243.6ZM673.7,238.6L675,233.5L675.9,233.8L674.4,238.8ZM676.2,228.9L677.6,223.9L678.7,224.2L677.2,229.2ZM678.8,219.3L680.2,214.2L681.6,214.6L680.1,219.6ZM680.1,214.4L681.4,209.4L683,209.8L681.5,214.8ZM681.4,209.6L682.7,204.5L684.4,205L682.9,210.1ZM682.7,204.8L684,199.7L685.9,200.2L684.4,205.3ZM670,253.2L671.5,248.1L671.9,248.3L670.3,253.2ZM672.9,243.6L674.3,238.5L675,238.7L673.4,243.7ZM674.3,238.8L675.8,233.7L676.6,234L675,239ZM675.7,234L677.2,228.9L678.1,229.2L676.5,234.2ZM685.6,200.4L686.9,196L688.8,196.6L687.4,201ZM687.2,200.9L688.8,195.9L690.7,196.6L689,201.5ZM669.1,258.1L671.2,253.3L671.5,253.5L669.2,258.2ZM671.1,253.6L673.3,248.8L673.7,248.9L671.4,253.7ZM675.2,244.4L677.3,239.6L678,239.9L675.7,244.7ZM679.2,235.3L681.4,230.5L682.3,230.9L680,235.6ZM681.3,230.7L683.4,225.9L684.5,226.4L682.2,231.1ZM685.3,221.6L687.5,216.8L688.8,217.4L686.5,222.1ZM689.4,212.4L691.5,207.6L693.1,208.4L690.8,213.1ZM691.4,207.9L693.5,203.1L695.3,203.9L693,208.6ZM693.4,203.3L694.3,201.4L696.1,202.2L695.2,204.1ZM669.2,258.2L671.5,253.4L671.7,253.6L669.3,258.2ZM671.4,253.7L673.6,248.9L674,249.1L671.6,253.8ZM675.6,244.6L677.9,239.9L678.5,240.2L676.2,244.9ZM677.8,240.1L680,235.4L680.8,235.8L678.4,240.4ZM679.9,235.6L682.2,230.9L683.1,231.3L680.7,236ZM684.2,226.6L686.5,221.8L687.7,222.4L685.3,227.1ZM688.5,217.5L690.8,212.8L692.2,213.5L689.8,218.2ZM690.7,213L692.9,208.3L694.5,209.1L692.1,213.7ZM695,204L695.1,203.7L696.8,204.5L696.7,204.8ZM687.4,222.6L689.8,217.9L691.1,218.6L688.6,223.2ZM648.5,262.7L643.3,262.9L643.3,263.7L648.6,263.3ZM623.5,263.9L618.3,264.1L618.4,265.6L623.6,265.2ZM644.3,267.9L639.2,269.2L639.4,270.1L644.5,268.6ZM649.3,267.1L644.2,268.6L644.4,269.3L649.4,267.6ZM630,272.7L625,274.1L625.4,275.4L630.4,273.8ZM663.8,263.4L659,265.5L659.1,265.8L663.9,263.5ZM645.5,271.4L640.7,273.6L641.1,274.3L645.8,272.1Z"/>
<path fill="#000098" d="M665.2,232.9L664.8,227.7L665.8,227.6L666,232.8ZM664.8,227.9L664.4,222.7L665.5,222.6L665.8,227.8ZM664,217.9L663.6,212.7L665,212.6L665.3,217.9ZM662.8,203L662.3,197.8L664.2,197.6L664.5,202.9ZM668.6,247.8L669,242.6L669.5,242.7L669,247.9ZM670.5,222.9L670.9,217.7L672.2,217.8L671.6,223ZM672.4,198L672.8,192.8L674.9,192.9L674.3,198.2ZM669.4,253L670.4,247.9L670.9,247.9L669.6,253.1ZM670.4,248.1L671.5,243L672,243.1L670.8,248.2ZM672.4,238.3L673.5,233.2L674.4,233.4L673.1,238.5ZM678.6,209L679.7,203.8L681.4,204.2L680.2,209.3ZM681.7,194.3L682.2,192.2L684.2,192.7L683.7,194.7ZM669.6,253L670.8,247.9L671.2,248L669.8,253.1ZM670.7,248.2L672,243.1L672.5,243.2L671.1,248.3ZM676.5,223.9L677.8,218.8L679,219.1L677.7,224.1ZM677.7,219L678.9,213.9L680.3,214.3L679,219.3ZM678.9,214.1L680.1,209L681.6,209.4L680.3,214.5ZM681.2,204.4L682.4,199.3L684.2,199.8L682.9,204.8ZM682.3,199.5L683,196.8L684.9,197.3L684.2,200ZM675,233.8L676.3,228.7L677.3,229L675.8,234ZM677.5,224.1L678.9,219L680.1,219.4L678.6,224.4ZM684,200L685.2,195.3L687.2,195.9L685.8,200.5ZM668.6,258L670.1,252.9L670.4,253L668.7,258ZM671.5,248.4L672.9,243.3L673.5,243.5L671.8,248.5ZM677.1,229.2L678.6,224.1L679.7,224.5L678.1,229.5ZM678.5,224.4L680,219.4L681.2,219.7L679.6,224.7ZM679.9,219.6L681.4,214.6L682.8,215L681.2,220ZM681.3,214.8L682.8,209.8L684.4,210.2L682.7,215.2ZM682.7,210L684.2,205L685.9,205.5L684.3,210.5ZM684.2,205.2L685.6,200.2L687.5,200.7L685.8,205.7ZM668.7,258L670.3,253L670.6,253.1L668.8,258ZM671.8,248.5L673.4,243.5L674,243.7L672.2,248.6ZM673.3,243.7L675,238.7L675.6,239L673.9,243.9ZM674.9,239L676.5,234L677.3,234.2L675.6,239.2ZM676.4,234.2L678,229.2L679,229.5L677.2,234.5ZM678,229.4L679.6,224.4L680.7,224.8L678.9,229.8ZM679.5,224.7L681.1,219.7L682.3,220.1L680.6,225.1ZM681,219.9L682.6,214.9L684,215.4L682.3,220.3ZM682.6,215.2L684.2,210.2L685.7,210.7L683.9,215.6ZM684.1,210.4L685.7,205.4L687.4,206L685.6,210.9ZM685.6,205.7L687.2,200.7L689.1,201.3L687.3,206.2ZM688.7,196.1L689.3,194.2L691.3,194.9L690.6,196.8ZM668.8,258L670.6,253.1L670.8,253.2L668.9,258.1ZM670.5,253.3L672.2,248.4L672.6,248.5L670.7,253.4ZM672.2,248.6L673.9,243.6L674.4,243.8L672.5,248.7ZM673.8,243.9L675.6,238.9L676.2,239.2L674.3,244.1ZM682.1,220.3L683.9,215.3L685.2,215.9L683.3,220.8ZM685.4,210.9L686.5,207.9L688.1,208.5L686.9,211.4ZM668.9,258.1L670.8,253.2L671.1,253.3L669,258.1ZM676.1,239.4L677.9,234.5L678.7,234.8L676.7,239.6ZM677.8,234.7L679.7,229.8L680.7,230.2L678.6,235ZM679.6,230L681.5,225.1L682.6,225.6L680.6,230.4ZM681.4,225.4L683.3,220.5L684.5,220.9L682.5,225.8ZM669,258.1L671,253.2L671.3,253.4L669.1,258.1ZM670.9,253.5L672.9,248.6L673.3,248.8L671.2,253.6ZM672.8,248.9L674.8,244L675.4,244.2L673.2,249ZM674.7,244.2L676.7,239.4L677.4,239.7L675.3,244.5ZM676.6,239.6L678.6,234.8L679.4,235.1L677.3,239.9ZM678.6,235L680.6,230.1L681.5,230.5L679.3,235.3ZM682.4,225.7L684.4,220.9L685.6,221.4L683.4,226.2ZM684.3,221.1L686.3,216.3L687.6,216.8L685.5,221.6ZM688.1,211.9L688.8,210.2L690.3,210.8L689.5,212.5ZM673.2,249L675.3,244.2L675.8,244.4L673.5,249.2ZM677.2,239.9L679.4,235.1L680.1,235.4L677.9,240.2ZM683.3,226.1L685.4,221.3L686.6,221.9L684.4,226.6ZM687.4,217L689.5,212.2L690.9,212.9L688.7,217.6ZM673.5,249.2L675.8,244.4L676.3,244.7L673.9,249.3ZM682.1,231.1L684.3,226.3L685.4,226.9L683,231.5ZM686.4,222.1L688.6,217.3L689.9,218L687.5,222.6ZM692.8,208.5L695.1,203.8L696.8,204.6L694.4,209.3ZM669.3,258.2L671.7,253.6L671.9,253.7L669.4,258.3ZM671.6,253.8L673.9,249.1L674.3,249.3L671.8,253.9ZM673.8,249.3L676.2,244.6L676.7,244.9L674.2,249.5ZM676.1,244.9L678.5,240.2L679.1,240.5L676.6,245.1ZM678.4,240.4L680.7,235.7L681.5,236.1L679,240.7ZM680.6,235.9L683,231.3L683.9,231.7L681.4,236.3ZM682.9,231.5L685.3,226.8L686.3,227.3L683.8,231.9ZM685.1,227L687.5,222.3L688.7,222.9L686.2,227.6ZM689.7,218.1L692,213.4L693.5,214.2L691,218.8ZM671.8,253.9L674.3,249.3L674.6,249.5L672,254ZM674.2,249.5L676.7,244.9L677.2,245.1L674.5,249.7ZM678.9,240.7L681.4,236.1L682.2,236.5L679.5,241ZM681.3,236.3L683.8,231.7L684.7,232.2L682,236.7ZM683.7,231.9L686.2,227.3L687.2,227.8L684.6,232.4ZM686,227.5L688.5,222.9L689.7,223.5L687.1,228.1ZM688.4,223.1L690.9,218.5L692.2,219.2L689.6,223.7ZM690.8,218.7L693.3,214.1L694.7,214.9L692.1,219.4ZM672,254L674.6,249.4L675,249.7L672.2,254.1ZM674.5,249.7L677.1,245.1L677.6,245.4L674.8,249.9ZM677,245.3L679.6,240.8L680.2,241.1L677.5,245.6ZM679.5,241L682.1,236.4L682.8,236.9L680.1,241.4ZM682,236.7L684.6,232.1L685.4,232.6L682.7,237.1ZM684.4,232.3L687.1,227.8L688.1,228.4L685.3,232.8ZM686.9,228L689.6,223.4L690.7,224.1L687.9,228.6ZM689.4,223.7L692.1,219.1L693.3,219.9L690.6,224.3ZM669.6,258.4L672.3,253.9L672.6,254.1L669.7,258.4ZM677.4,245.6L680.1,241.1L680.7,241.5L677.9,245.9ZM680,241.3L682.7,236.8L683.5,237.3L680.6,241.7ZM682.6,237L685.3,232.6L686.2,233.1L683.3,237.5ZM685.2,232.8L687.9,228.3L688.9,228.9L686.1,233.3ZM687.8,228.5L690.6,224L691.7,224.7L688.8,229.1ZM690.4,224.2L693.2,219.8L694.4,220.5L691.5,224.9ZM669.8,258.5L672.7,254.2L673,254.3L669.9,258.6ZM672.6,254.4L675.6,250L675.9,250.3L672.8,254.5ZM675.4,250.2L678.4,245.9L678.8,246.2L675.7,250.5ZM678.2,246.1L681.2,241.8L681.8,242.2L678.7,246.4ZM686.7,233.7L689.7,229.4L690.6,230.1L687.5,234.3ZM692.4,225.5L695.3,221.2L696.5,222L693.4,226.2ZM663.5,262.3L658.3,263L658.4,263.2L663.5,262.4ZM658.6,262.9L653.4,263.6L653.4,264L658.6,263.2ZM653.6,263.6L648.4,264.2L648.5,264.8L653.7,264ZM633.8,266.1L628.6,266.7L628.7,267.9L633.9,267.1ZM623.8,267.3L618.6,268L618.8,269.4L624,268.6ZM618.9,267.9L613.7,268.6L613.9,270.2L619.1,269.4ZM594.1,271.1L589.8,271.6L590.1,273.9L594.4,273.2ZM653.7,263.9L648.5,264.7L648.6,265.3L653.7,264.3ZM643.8,265.4L638.6,266.2L638.7,267.1L643.9,266.1ZM628.9,267.7L623.8,268.5L624,269.8L629.1,268.8ZM658.6,263.4L653.5,264.3L653.6,264.7L658.7,263.7ZM653.7,264.3L648.6,265.2L648.7,265.8L653.8,264.7ZM648.8,265.2L643.6,266.1L643.8,266.8L648.9,265.7ZM643.9,266.1L638.7,267L638.9,267.8L644,266.7ZM629.1,268.7L623.9,269.6L624.2,270.9L629.3,269.8ZM624.2,269.6L619,270.5L619.3,272L624.4,270.9ZM619.3,270.5L614.1,271.4L614.4,273L619.6,271.9ZM614.4,271.4L609.2,272.3L609.5,274L614.7,272.9ZM609.4,272.2L604.3,273.2L604.6,275L609.8,274ZM604.5,273.1L599.3,274.1L599.7,276.1L604.9,275ZM594.7,274.9L589.5,275.8L590,278.1L595.1,277.1ZM589.7,275.8L584.6,276.7L585.1,279.2L590.2,278.1ZM634.2,268.7L629.1,269.8L629.3,270.9L634.4,269.7ZM629.3,269.7L624.2,270.8L624.5,272.1L629.6,270.8ZM624.4,270.7L619.3,271.8L619.6,273.2L624.7,272ZM595,276.8L589.9,277.9L590.4,280.2L595.5,278.9ZM663.6,262.7L658.5,263.9L658.6,264.2L663.6,262.8ZM649,266.1L643.9,267.3L644.1,268L649.1,266.7ZM644.1,267.3L639,268.5L639.2,269.3L644.3,268ZM639.3,268.4L634.2,269.6L634.4,270.6L639.5,269.3ZM634.4,269.6L629.3,270.8L629.6,271.9L634.6,270.5ZM624.7,271.8L619.6,273L619.9,274.5L625,273.1ZM605.2,276.4L600.1,277.6L600.6,279.6L605.7,278.3ZM663.6,262.8L658.6,264.1L658.6,264.4L663.7,262.9ZM658.8,264.1L653.7,265.4L653.8,265.8L658.9,264.3ZM654,265.4L648.9,266.7L649,267.2L654.1,265.8ZM649.1,266.6L644,268L644.2,268.6L649.3,267.2ZM634.6,270.4L629.5,271.8L629.8,272.9L634.9,271.4ZM620.1,274.2L615,275.6L615.5,277.1L620.5,275.6ZM615.3,275.5L610.2,276.8L610.7,278.5L615.7,277ZM610.4,276.8L605.4,278.1L605.9,279.9L610.9,278.5ZM663.7,262.9L658.6,264.4L658.7,264.6L663.7,263ZM658.9,264.3L653.8,265.8L653.9,266.2L658.9,264.6ZM654.1,265.7L649,267.2L649.2,267.7L654.2,266.1ZM644.5,268.5L639.4,270L639.7,270.8L644.7,269.2ZM639.7,269.9L634.6,271.4L634.9,272.3L639.9,270.7ZM634.9,271.3L629.8,272.8L630.1,273.9L635.1,272.3ZM663.7,263.1L658.8,264.8L658.9,265.1L663.8,263.2ZM659,264.8L654,266.5L654.2,266.9L659.1,265ZM654.3,266.4L649.3,268.1L649.5,268.7L654.4,266.8ZM649.6,268L644.6,269.8L644.8,270.5L649.8,268.6ZM644.8,269.7L639.9,271.4L640.2,272.2L645.1,270.4ZM649.7,268.5L644.8,270.4L645.1,271L649.9,269ZM645,270.3L640.1,272.1L640.5,272.9L645.3,270.9ZM654.5,267.1L649.7,269.1L649.9,269.6L654.7,267.5ZM659.3,265.4L654.5,267.5L654.6,267.9L659.4,265.7ZM654.7,267.4L649.9,269.5L650.1,270.1L654.9,267.8ZM650.1,269.4L645.3,271.5L645.6,272.2L650.3,269.9ZM659.4,265.6L654.6,267.9L654.8,268.2L659.5,265.9ZM650.5,270.3L645.8,272.7L646.2,273.3L650.8,270.8Z"/>
<path fill="#000080" d="M670.3,253.2L671.9,248.2L672.3,248.4L670.5,253.3ZM675.5,239.2L677.2,234.2L678,234.5L676.1,239.4ZM677.1,234.4L678.9,229.5L679.8,229.8L677.9,234.7ZM678.8,229.7L680.5,224.8L681.6,225.2L679.7,230.1ZM680.5,225L682.2,220.1L683.4,220.5L681.5,225.4ZM683.8,215.6L685.5,210.6L687,211.2L685.1,216.1ZM670.7,253.4L672.6,248.5L673,248.6L671,253.5ZM672.5,248.7L674.4,243.8L674.9,244L672.9,248.9ZM674.3,244.1L676.2,239.1L676.8,239.4L674.8,244.3ZM683.2,220.7L685.1,215.8L686.4,216.3L684.4,221.2ZM685,216L686.9,211.1L688.3,211.7L686.3,216.6ZM686.8,211.4L688.6,206.4L690.3,207.1L688.3,211.9ZM688.5,206.7L690.4,201.8L692.2,202.5L690.2,207.3ZM690.3,202L691.9,198L693.8,198.7L692.1,202.7ZM680.5,230.4L682.5,225.5L683.5,226L681.4,230.8ZM686.2,216.5L688.2,211.6L689.7,212.3L687.5,217.1ZM669.4,258.3L671.9,253.7L672.1,253.8L669.5,258.3ZM676.5,245.1L679,240.5L679.7,240.8L677,245.4ZM669.5,258.3L672.1,253.8L672.3,253.9L669.6,258.4ZM672.2,254.1L674.9,249.6L675.3,249.9L672.4,254.3ZM674.8,249.9L677.5,245.4L678,245.7L675.1,250.1ZM672.4,254.2L675.2,249.8L675.6,250.1L672.6,254.4ZM677.8,245.8L680.7,241.4L681.3,241.8L678.3,246.2ZM681.1,242L684,237.7L684.7,238.2L681.6,242.4ZM683.9,237.9L686.9,233.5L687.7,234.1L684.6,238.4ZM689.5,229.6L692.5,225.3L693.6,226L690.5,230.3ZM669.8,258.6L672.9,254.3L673.1,254.5L669.9,258.6ZM675.7,250.5L678.8,246.2L679.2,246.5L676,250.7ZM678.6,246.4L681.7,242.2L682.3,242.6L679.1,246.7ZM681.6,242.4L684.7,238.1L685.3,238.6L682.1,242.8ZM684.5,238.3L687.6,234.1L688.4,234.7L685.2,238.8ZM687.4,234.3L690.5,230L691.4,230.7L688.2,234.9ZM690.4,230.2L693.4,226L694.5,226.7L691.3,230.9ZM670,258.7L673.3,254.6L673.5,254.8L670.1,258.8ZM673.2,254.8L676.4,250.7L676.8,251L673.4,255ZM676.3,250.9L679.6,246.8L680,247.2L676.6,251.2ZM679.4,247L682.7,242.9L683.3,243.4L679.9,247.4ZM682.6,243.1L685.9,239L686.5,239.6L683.1,243.6ZM688.9,235.3L692.1,231.3L693,232L689.6,236ZM692,231.4L695.3,227.4L696.3,228.2L692.9,232.2ZM673.3,254.9L676.7,250.9L677.1,251.2L673.5,255.1ZM679.8,247.3L683.2,243.3L683.8,243.8L680.2,247.7ZM692.8,232.1L696.2,228.1L697.2,229L693.6,232.9ZM673.7,255.3L677.3,251.4L677.6,251.7L673.9,255.4ZM677.1,251.6L680.7,247.8L681.1,248.2L677.4,251.9ZM680.6,248L684.2,244.2L684.7,244.7L681,248.4ZM684,244.4L687.6,240.5L688.2,241.2L684.5,244.9ZM687.4,240.7L691,236.9L691.8,237.6L688,241.3ZM690.9,237.1L694.5,233.3L695.3,234.1L691.6,237.8ZM694.3,233.5L697.9,229.6L698.8,230.6L695.1,234.3ZM670.3,259L674,255.2L674.2,255.4L670.4,259.1ZM684.4,244.8L688.1,241.1L688.8,241.7L684.9,245.3ZM695,234.2L698.7,230.5L699.7,231.4L695.8,235ZM648.6,264.2L643.4,264.8L643.5,265.6L648.7,264.7ZM643.7,264.8L638.5,265.5L638.6,266.3L643.8,265.5ZM638.7,265.4L633.5,266.1L633.7,267.1L638.8,266.3ZM628.8,266.7L623.6,267.3L623.8,268.6L629,267.8ZM613.9,268.6L608.7,269.2L609,271L614.2,270.2ZM609,269.2L603.8,269.9L604,271.7L609.2,270.9ZM604,269.8L598.8,270.5L599.1,272.5L604.3,271.7ZM599,270.4L593.8,271.1L594.1,273.3L599.3,272.5ZM663.5,262.4L658.4,263.2L658.4,263.5L663.6,262.5ZM658.6,263.2L653.4,264L653.5,264.4L658.6,263.4ZM648.7,264.7L643.5,265.5L643.6,266.2L648.8,265.2ZM638.8,266.2L633.6,267L633.8,268L639,267ZM633.9,266.9L628.7,267.7L628.9,268.9L634.1,267.9ZM624,268.5L618.8,269.2L619.1,270.7L624.2,269.7ZM619.1,269.2L613.9,270L614.1,271.6L619.3,270.6ZM614.1,270L608.9,270.8L609.2,272.5L614.4,271.5ZM609.2,270.7L604,271.5L604.3,273.4L609.5,272.5ZM604.2,271.5L599,272.3L599.4,274.3L604.6,273.4ZM599.3,272.2L594.1,273L594.5,275.2L599.6,274.3ZM594.4,273L589.2,273.8L589.6,276.1L594.7,275.2ZM663.6,262.5L658.4,263.4L658.4,263.7L663.6,262.6ZM639,266.9L633.8,267.9L634,268.9L639.1,267.8ZM634,267.8L628.9,268.8L629.1,269.9L634.2,268.8ZM599.6,274L594.4,274.9L594.8,277.1L600,276ZM658.7,263.6L653.5,264.7L653.6,265.1L658.7,263.9ZM653.8,264.6L648.6,265.7L648.8,266.3L653.9,265ZM648.9,265.7L643.8,266.7L643.9,267.4L649,266.2ZM644,266.7L638.9,267.7L639,268.6L644.2,267.4ZM639.1,267.7L634,268.7L634.2,269.7L639.3,268.5ZM619.5,271.7L614.4,272.8L614.7,274.4L619.8,273.2ZM614.6,272.8L609.5,273.8L609.9,275.5L615,274.3ZM609.7,273.8L604.6,274.8L605,276.7L610.1,275.5ZM604.8,274.8L599.7,275.8L600.1,277.8L605.2,276.6ZM599.9,275.8L594.8,276.9L595.3,279L600.4,277.8ZM658.7,263.9L653.6,265.1L653.7,265.5L658.8,264.1ZM653.9,265L648.8,266.2L648.9,266.7L654,265.4ZM629.5,270.7L624.4,271.9L624.7,273.2L629.8,271.8ZM619.8,273L614.7,274.2L615.1,275.7L620.1,274.4ZM614.9,274.1L609.8,275.3L610.2,277L615.3,275.7ZM610.1,275.3L604.9,276.5L605.4,278.3L610.5,277ZM600.3,277.6L598.4,278L598.9,280.1L600.8,279.5ZM639.4,269.2L634.4,270.5L634.6,271.5L639.7,270ZM629.8,271.7L624.7,273L625.1,274.3L630.1,272.8ZM624.9,273L619.9,274.3L620.3,275.7L625.3,274.2ZM605.6,278L600.5,279.4L601.1,281.4L606.1,279.9ZM600.8,279.3L597.4,280.2L598,282.3L601.3,281.3ZM663.7,263L658.7,264.6L658.8,264.9L663.7,263.1ZM658.9,264.5L653.9,266.1L654.1,266.5L659,264.8ZM654.2,266.1L649.2,267.7L649.3,268.2L654.3,266.5ZM649.4,267.6L644.4,269.2L644.6,269.9L649.6,268.1ZM639.9,270.6L634.9,272.2L635.2,273.2L640.1,271.4ZM663.8,263.2L658.8,265.1L658.9,265.3L663.8,263.3ZM659.1,265L654.2,266.8L654.3,267.2L659.2,265.2ZM654.4,266.7L649.5,268.6L649.7,269.1L654.6,267.1ZM663.8,263.3L658.9,265.3L659,265.5L663.8,263.4ZM659.2,265.2L654.3,267.2L654.5,267.6L659.3,265.4ZM649.9,269L645,271L645.3,271.6L650.1,269.5ZM645.3,270.9L640.4,272.9L640.8,273.7L645.6,271.5ZM663.9,263.5L659.1,265.7L659.3,266L663.9,263.6ZM654.8,267.8L650.1,270L650.3,270.5L655,268.1ZM650.3,269.9L645.6,272.1L645.9,272.8L650.6,270.4ZM663.9,263.6L659.2,266L659.4,266.2L664,263.7ZM659.5,265.8L654.8,268.2L655,268.6L659.6,266.1ZM655,268.1L650.3,270.4L650.6,271L655.2,268.5ZM659.6,266.1L654.9,268.5L655.1,268.9L659.7,266.3ZM655.2,268.4L650.5,270.9L650.8,271.4L655.4,268.8ZM650.8,270.8L646.1,273.3L646.5,273.9L651,271.3ZM664,263.8L659.5,266.4L659.6,266.6L664.1,263.9ZM659.7,266.3L655.1,268.9L655.3,269.2L659.8,266.4ZM655.3,268.7L650.8,271.3L651,271.7L655.5,269ZM651,271.2L646.4,273.8L646.7,274.3L651.2,271.6Z"/>
<path fill="#000060" d="M669.7,258.4L672.5,254L672.8,254.2L669.8,258.5ZM675.1,250L678,245.6L678.4,246L675.4,250.3ZM680.5,241.6L683.4,237.2L684.1,237.7L681.1,242ZM683.3,237.5L686.1,233L686.9,233.6L684,237.9ZM686,233.3L688.8,228.8L689.8,229.5L686.8,233.8ZM688.7,229.1L691.5,224.6L692.6,225.4L689.6,229.7ZM691.4,224.9L694.3,220.4L695.5,221.3L692.5,225.6ZM672.8,254.5L675.9,250.3L676.2,250.5L673,254.7ZM693.3,226.2L696.4,221.9L697.5,222.8L694.3,226.9ZM669.9,258.6L673.1,254.5L673.3,254.6L670,258.7ZM673,254.7L676.2,250.5L676.5,250.7L673.2,254.8ZM676,250.7L679.2,246.5L679.6,246.9L676.3,250.9ZM679,246.7L682.2,242.5L682.8,243L679.5,247.1ZM682.1,242.7L685.3,238.6L685.9,239.1L682.6,243.2ZM685.1,238.8L688.3,234.6L689.1,235.2L685.8,239.3ZM688.2,234.8L691.3,230.6L692.3,231.3L688.9,235.4ZM691.2,230.8L694.4,226.6L695.4,227.5L692.1,231.5ZM685.7,239.2L689,235.1L689.8,235.8L686.4,239.8ZM670.1,258.8L673.5,254.8L673.7,254.9L670.2,258.8ZM676.6,251.1L680,247.1L680.4,247.5L676.9,251.4ZM683.1,243.5L686.5,239.5L687.1,240.1L683.6,244ZM686.3,239.7L689.7,235.7L690.5,236.4L686.9,240.3ZM689.5,235.9L692.9,231.9L693.8,232.7L690.3,236.6ZM670.2,258.8L673.7,254.9L673.9,255.1L670.3,258.9ZM673.5,255.1L677,251.2L677.3,251.5L673.7,255.3ZM676.8,251.4L680.4,247.5L680.8,247.9L677.2,251.7ZM680.2,247.7L683.7,243.8L684.2,244.2L680.6,248ZM683.5,243.9L687,240L687.7,240.6L684.1,244.4ZM686.9,240.2L690.4,236.3L691.1,237L687.5,240.8ZM690.2,236.5L693.7,232.6L694.6,233.4L690.9,237.2ZM693.5,232.8L697.1,228.9L698,229.8L694.4,233.6ZM670.2,258.9L673.9,255.1L674.1,255.3L670.3,259ZM673.9,255.4L677.6,251.7L677.9,252L674,255.6ZM677.4,251.9L681.1,248.2L681.5,248.6L677.7,252.2ZM680.9,248.3L684.6,244.6L685.1,245.1L681.3,248.7ZM688,241.3L691.7,237.5L692.4,238.3L688.6,241.9ZM691.5,237.7L695.2,234L696,234.8L692.2,238.4ZM688.5,241.8L692.3,238.2L693,238.9L689.1,242.4ZM692.1,238.4L695.9,234.7L696.7,235.6L692.8,239.1ZM695.7,234.9L699.5,231.3L700.4,232.2L696.5,235.8ZM692.7,239L696.6,235.5L697.4,236.4L693.4,239.8ZM589.4,273.7L587.1,274.1L587.5,276.5L589.8,276.1ZM663.6,262.6L658.4,263.7L658.5,263.9L663.6,262.7ZM590.1,277.8L589.4,278L589.9,280.3L590.7,280.1ZM644.6,269.1L639.6,270.7L639.9,271.5L644.9,269.8ZM664,263.7L659.3,266.2L659.5,266.4L664,263.8Z"/>
<path fill="#ff2000" d="M625.2,274.1L620.2,275.5L620.6,276.9L625.6,275.3ZM620.4,275.5L615.4,276.9L615.9,278.5L620.9,276.9ZM635.1,272.1L630.1,273.7L630.5,274.8L635.4,273.1ZM625.6,275.2L620.6,276.8L621,278.2L626,276.4ZM620.8,276.7L615.8,278.3L616.3,279.8L621.3,278.1ZM640.1,271.3L635.2,273.1L635.5,274L640.4,272.1ZM635.4,273L630.4,274.7L630.8,275.8L635.7,273.9ZM630.7,274.6L625.7,276.4L626.2,277.6L631.1,275.7ZM621.2,277.9L616.3,279.6L616.8,281.2L621.7,279.3ZM616.5,279.6L611.5,281.3L612.1,282.9L617.1,281.1ZM631,275.6L626.1,277.4L626.6,278.7L631.4,276.7ZM626.3,277.4L621.4,279.2L622,280.6L626.8,278.6ZM621.7,279.1L616.8,281L617.3,282.5L622.2,280.5ZM626.8,278.4L621.9,280.4L622.5,281.8L627.3,279.6ZM617.5,282.2L612.6,284.2L613.3,285.8L618.1,283.7ZM636.4,275.5L631.6,277.6L632,278.6L636.8,276.4ZM618.1,283.5L613.2,285.6L614,287.2L618.7,285ZM608.9,287.5L604.1,289.6L604.9,291.5L609.7,289.3ZM641.3,274.1L636.5,276.4L637,277.3L641.6,274.9ZM636.7,276.3L632,278.5L632.5,279.6L637.2,277.2ZM632.2,278.4L627.5,280.6L628,281.8L632.7,279.4ZM627.7,280.5L622.9,282.8L623.6,284.1L628.3,281.7ZM614.1,286.9L609.8,289L610.6,290.7L614.9,288.5ZM641.6,274.8L636.9,277.2L637.4,278.1L642,275.6ZM637.1,277.1L632.4,279.4L633,280.5L637.6,278ZM646.3,273.1L641.7,275.6L642.1,276.4L646.7,273.8ZM624.3,285L619.7,287.4L620.5,288.8L625,286.2ZM611.1,292L607.5,294L608.5,295.7L612,293.7ZM642.3,276.2L637.7,278.8L638.2,279.5L642.7,276.8ZM611.9,293.5L611.6,293.7L612.4,295L612.7,294.9Z"/>
<path fill="#f00800" d="M615.6,276.9L610.6,278.3L611.1,280L616.1,278.4ZM625.9,276.3L621,278L621.5,279.4L626.4,277.5ZM602.3,284.5L600.3,285.2L601,287.2L603,286.4ZM640.9,273.5L636.1,275.6L636.6,276.5L641.3,274.2ZM631.8,277.5L627,279.6L627.5,280.8L632.3,278.5ZM627.2,279.5L622.4,281.6L623,282.9L627.8,280.7ZM622.6,281.5L617.8,283.6L618.5,285.1L623.2,282.8ZM645.8,272L641,274.3L641.4,275L646.1,272.7Z"/>
<path fill="#ff3800" d="M630.3,273.7L625.3,275.3L625.8,276.5L630.7,274.8ZM616.1,278.2L611.1,279.8L611.6,281.5L616.6,279.7ZM611.3,279.7L606.3,281.3L606.9,283.1L611.8,281.4ZM606.5,281.3L601.5,282.9L602.2,284.8L607.1,283.1ZM640.4,272.1L635.5,273.9L635.8,274.9L640.7,272.9ZM635.7,273.8L630.8,275.7L631.2,276.8L636.1,274.8ZM617,280.9L612.1,282.7L612.7,284.4L617.6,282.4ZM607.6,284.4L605.8,285.1L606.6,286.9L608.3,286.2ZM640.6,272.8L635.8,274.7L636.2,275.7L641,273.5ZM636,274.6L631.2,276.6L631.6,277.7L636.4,275.6ZM622.1,280.3L617.3,282.3L617.9,283.8L622.7,281.7ZM612.9,284.1L608,286.1L608.8,287.8L613.6,285.7ZM608.2,286L603.8,287.8L604.6,289.7L609,287.7ZM623.2,282.7L618.4,284.9L619.1,286.3L623.8,284ZM618.6,284.8L613.9,287L614.7,288.6L619.3,286.2ZM646.1,272.6L641.4,274.9L641.8,275.7L646.4,273.2ZM623.7,283.8L619,286.2L619.8,287.6L624.4,285.1ZM619.3,286.1L615.3,288.1L616.1,289.6L620,287.5ZM641.9,275.5L637.3,278L637.8,278.9L642.4,276.3ZM637.5,277.9L632.9,280.3L633.5,281.4L638,278.7ZM633.1,280.2L628.5,282.7L629.1,283.9L633.7,281.2ZM628.7,282.6L624.1,285.1L624.8,286.4L629.4,283.7ZM619.9,287.3L615.3,289.8L616.1,291.3L620.7,288.7ZM646.7,273.7L642.1,276.3L642.5,276.9L646.9,274.2ZM638,278.6L633.4,281.2L633.9,282.1L638.4,279.4ZM624.9,286.1L620.4,288.7L621,289.8L625.5,287.1ZM616.3,291L611.7,293.6L612.5,295L617,292.3Z"/>
<g clip-path="url(#fcr)">
<path fill="#ff2000" d="M691.9,213.6L693.7,210.2L695.2,211L693.3,214.4ZM693,220L695.8,215.5L697.1,216.4L694.3,220.8ZM695.6,215.7L698.4,211.2L699.9,212.2L697,216.6ZM699.2,218.1L702.2,213.8L703.7,214.9L700.4,219ZM702.1,214L704.8,210.3L706.3,211.4L703.5,215.1ZM696,228.3L699.4,224.3L700.5,225.3L697,229.2ZM699.3,224.5L702.6,220.6L703.8,221.6L700.4,225.4ZM696.9,229.1L700.4,225.1L701.5,226.1L697.8,229.9ZM700.2,225.3L703.7,221.4L704.9,222.5L701.3,226.3ZM703.6,221.6L707.1,217.7L708.4,218.9L704.7,222.7ZM706.9,217.9L709.9,214.6L711.3,215.9L708.2,219.1ZM701.2,226.2L704.8,222.4L705.9,223.5L702.2,227.2ZM711.5,215.3L713,213.7L714.4,215.1L712.8,216.6ZM674.2,255.8L678.1,252.2L678.4,252.6L674.4,256ZM677.9,252.4L681.8,248.9L682.2,249.3L678.2,252.7ZM681.6,249.1L685.5,245.5L686,246.1L682,249.5ZM685.3,245.7L689.2,242.2L689.8,242.8L685.8,246.2ZM703.9,228.9L707.8,225.4L708.8,226.6L704.8,230ZM707.6,225.6L711.5,222.1L712.6,223.4L708.6,226.8ZM711.3,222.2L715.2,218.7L716.4,220.2L712.4,223.6ZM715,218.9L715.5,218.4L716.8,219.8L716.2,220.3ZM670.5,259.2L674.5,255.8L674.7,256L670.6,259.3ZM674.3,255.9L678.3,252.5L678.6,252.9L674.5,256.1ZM678.1,252.7L682.1,249.3L682.5,249.7L678.4,253ZM685.7,246.2L689.7,242.8L690.3,243.4L686.2,246.7ZM693.3,239.7L697.3,236.3L698,237.2L694,240.4ZM697.1,236.4L701.1,233L701.9,234L697.9,237.3ZM700.9,233.2L704.9,229.7L705.8,230.9L701.7,234.2ZM704.7,229.9L708.7,226.5L709.7,227.7L705.6,231ZM708.5,226.7L712.5,223.2L713.6,224.6L709.5,227.9ZM712.3,223.4L716.3,220L717.5,221.5L713.4,224.8ZM716.1,220.2L717.3,219.1L718.6,220.6L717.3,221.6ZM701.6,234.1L705.7,230.7L706.6,231.9L702.5,235.1ZM698.4,238L702.6,234.8L703.3,235.9L699.1,238.9ZM706.3,231.9L710.5,228.7L711.4,230L707.2,233.1ZM710.3,228.9L714.4,225.6L715.5,227.1L711.2,230.1ZM670.7,259.4L675,256.3L675.1,256.6L670.8,259.5ZM674.8,256.5L679,253.4L679.3,253.7L674.9,256.7ZM678.8,253.6L683.1,250.5L683.4,250.9L679.1,253.9ZM682.9,250.6L687.1,247.5L687.5,248.1L683.2,251.1ZM686.9,247.7L691.1,244.6L691.6,245.3L687.3,248.2ZM690.9,244.7L695.2,241.6L695.8,242.4L691.4,245.4ZM699,238.8L703.3,235.7L704,236.8L699.7,239.8ZM719.2,224.1L723.4,221L724.6,222.7L720.3,225.6ZM670.8,259.5L675.1,256.5L675.3,256.8L670.9,259.6ZM674.9,256.7L679.2,253.7L679.5,254.1L675.1,256.9ZM683.1,251L687.5,248L687.9,248.6L683.5,251.5ZM687.3,248.2L691.6,245.2L692.1,245.9L687.7,248.8ZM691.4,245.3L695.7,242.4L696.3,243.2L691.8,246ZM695.5,242.5L699.8,239.5L700.5,240.5L696,243.3ZM703.7,236.8L708,233.8L708.9,235L704.4,237.9ZM707.8,234L712.2,231L713,232.3L708.6,235.2ZM711.9,231.1L716.3,228.2L717.2,229.6L712.8,232.5ZM716.1,228.3L720.3,225.4L721.4,227L717,229.8ZM670.9,259.7L675.4,257L675.5,257.2L671,259.8ZM675.2,257.1L679.6,254.3L679.9,254.7L675.3,257.3ZM679.4,254.5L683.9,251.7L684.2,252.2L679.6,254.8ZM683.7,251.8L688.2,249.1L688.5,249.7L684,252.3ZM687.9,249.2L692.4,246.5L692.9,247.2L688.3,249.8ZM696.5,244L700.9,241.2L701.5,242.2L697,244.9ZM700.7,241.4L705.2,238.6L705.9,239.7L701.3,242.4ZM705,238.7L709.4,236L710.2,237.2L705.6,239.9ZM709.2,236.1L713.7,233.4L714.5,234.8L710,237.4ZM713.5,233.5L718,230.8L718.9,232.3L714.3,234.9ZM683.9,252.3L688.5,249.6L688.8,250.3L684.2,252.8ZM688.3,249.8L692.8,247.1L693.2,247.9L688.6,250.4ZM701.2,242.2L705.8,239.6L706.4,240.8L701.8,243.3ZM705.6,239.7L710.1,237.1L710.8,238.4L706.2,240.9ZM709.9,237.2L714.4,234.6L715.2,236L710.6,238.5ZM718.5,232.2L723.1,229.6L724,231.2L719.4,233.7ZM671,259.9L675.6,257.4L675.7,257.6L671.1,260ZM697.4,245.5L702,243L702.5,244L697.8,246.4ZM680,255.4L684.6,253L684.9,253.5L680.1,255.8ZM693.3,248.6L698,246.2L698.4,247.1L693.7,249.4ZM711.1,239.5L715.8,237.1L716.5,238.5L711.8,240.8ZM715.6,237.2L720.2,234.8L721,236.4L716.3,238.6ZM668,265.8L668.7,271L668.5,271L667.9,265.8ZM668.7,270.7L669.4,275.9L669,276L668.4,270.8ZM670,280.6L670.7,285.8L670,285.9L669.5,280.7ZM671.3,290.5L672,295.7L671,295.9L670.5,290.6ZM673.3,305.4L674,310.6L672.6,310.8L672,305.6ZM674,310.4L674.7,315.6L673.1,315.8L672.5,310.5ZM675.3,320.3L676,325.5L674.1,325.7L673.6,320.5ZM676.6,330.2L677.3,335.4L675.1,335.7L674.6,330.4ZM677.3,335.1L678,340.4L675.6,340.6L675.1,335.4ZM677.9,340.1L678,340.7L675.7,341L675.6,340.4ZM670.6,290.6L671.1,295.9L670.1,295.9L669.7,290.7ZM671.6,300.6L672.2,305.8L670.9,305.9L670.5,300.7ZM668.8,285.8L669.1,291L668.2,291L668.1,285.8ZM670.1,310.7L670.4,316L668.8,316L668.7,310.8ZM670.4,315.7L670.7,321L668.9,321L668.8,315.8ZM670.7,320.7L671,326L669.1,326L668.9,320.8ZM671.5,335.7L671.8,340.9L669.4,341L669.3,335.8ZM672,345.7L672.2,348.4L669.6,348.5L669.6,345.8ZM667.9,275.8L668,281L667.5,281L667.5,275.8ZM668.6,300.8L668.7,306L667.4,306L667.4,300.8ZM669,315.8L669.2,321L667.4,321L667.4,315.8ZM669.3,325.8L669.4,331L667.4,331L667.4,325.8ZM667.5,270.8L667.5,276L667.1,276L667.2,270.8ZM667.5,275.8L667.5,281L667,281L667.1,275.8ZM667.5,280.8L667.5,286L666.8,286L667,280.8ZM667.5,285.8L667.6,291L666.7,291L666.8,285.8ZM667.6,295.8L667.6,301L666.4,301L666.6,295.8ZM667.6,300.8L667.6,306L666.3,306L666.4,300.8ZM667.6,310.8L667.6,316L666,316L666.1,310.8ZM667.6,325.8L667.6,331L665.6,331L665.7,325.8ZM667.6,330.8L667.6,336L665.4,336L665.6,330.8ZM667.6,335.8L667.6,336.1L665.4,336.1L665.4,335.8ZM667.1,265.8L666.5,271L666.3,271L667,265.8ZM666.6,270.8L666,276L665.6,275.9L666.3,270.7ZM666.1,275.7L665.5,280.9L665,280.9L665.6,275.7ZM660.4,330.4L659.9,335.7L657.7,335.4L658.4,330.2ZM667,265.8L666.3,271L666,270.9L666.9,265.7ZM664.4,285.6L663.7,290.8L662.9,290.7L663.7,285.5ZM663.6,280.4L662.5,285.5L661.8,285.4L663,280.3ZM657.4,309.7L656.3,314.9L654.7,314.5L656,309.4ZM655.3,319.5L654.3,324.7L652.4,324.2L653.6,319.1ZM653.3,329.3L652.2,334.5L650,334L651.3,328.9ZM666.5,265.7L665.1,270.7L664.9,270.7L666.4,265.6ZM663.9,275.3L662.6,280.4L662,280.2L663.5,275.2ZM662.6,280.2L661.3,285.2L660.6,285L662.1,280ZM657.5,299.5L656.1,304.6L654.9,304.2L656.4,299.2ZM654.9,309.2L653.6,314.2L652,313.8L653.5,308.8ZM652.3,318.8L651,323.9L649.1,323.4L650.6,318.3ZM648.5,333.3L647.1,338.4L644.9,337.7L646.4,332.7ZM647.2,338.1L646.6,340.3L644.3,339.7L644.9,337.5ZM666.3,265.6L664.7,270.6L664.4,270.5L666.2,265.6ZM663.2,275.1L661.6,280.1L661,279.9L662.8,275ZM661.7,279.9L660,284.9L659.4,284.6L661.1,279.7ZM658.6,289.4L657,294.4L656,294.1L657.8,289.1ZM657,294.2L655.4,299.2L654.3,298.8L656.1,293.8ZM655.5,298.9L653.9,303.9L652.7,303.5L654.4,298.5ZM652.4,308.4L650.8,313.4L649.3,312.9L651.1,308ZM649.4,317.9L647.8,322.9L645.9,322.3L647.7,317.4ZM647.8,322.7L646.2,327.7L644.3,327L646,322.1ZM666.1,265.5L664.2,270.4L663.9,270.3L666,265.5ZM664.3,270.2L662.4,275.1L662,275L664,270.1ZM662.5,274.9L660.6,279.8L660.1,279.6L662.1,274.7ZM660.7,279.5L658.8,284.5L658.2,284.2L660.2,279.3ZM658.9,284.2L657.1,289.1L656.3,288.8L658.3,284ZM657.2,288.9L655.3,293.8L654.3,293.4L656.4,288.6ZM653.6,298.2L651.7,303.1L650.5,302.7L652.5,297.8ZM651.8,302.9L649.9,307.8L648.6,307.3L650.6,302.4ZM648.2,312.2L646.4,317.2L644.7,316.5L646.7,311.7ZM641.1,330.9L639.2,335.8L637,335L639.1,330.1ZM639.3,335.6L638.3,338.1L636.1,337.2L637.1,334.7Z"/>
<path fill="#ff3800" d="M693.2,214.3L694.5,211.9L695.9,212.7L694.6,215.1ZM691.9,219.3L694.5,214.8L695.9,215.6L693.2,220.1ZM694.1,220.7L697,216.3L698.3,217.1L695.3,221.5ZM696.8,216.5L697.4,215.6L698.8,216.5L698.2,217.4ZM695.2,221.4L698.1,217L699.5,218L696.4,222.2ZM698,217.2L699.6,214.9L701,215.9L699.3,218.2ZM696.2,222.1L699.3,217.9L700.6,218.8L697.4,223ZM697.3,222.9L700.5,218.7L701.7,219.7L698.4,223.8ZM700.3,218.9L703.5,214.7L704.9,215.8L701.6,219.9ZM703.3,214.9L705.4,212.2L706.9,213.4L704.7,216ZM695.1,227.6L698.4,223.5L699.6,224.4L696.1,228.4ZM698.3,223.7L701.6,219.6L702.8,220.6L699.4,224.6ZM701.4,219.8L704.7,215.7L706.1,216.8L702.6,220.8ZM704.5,215.9L707.5,212.2L708.9,213.4L705.9,217ZM697.7,229.8L701.3,226L702.4,227L698.7,230.7ZM704.6,222.6L708.2,218.8L709.5,220L705.8,223.7ZM708,218.9L711.6,215.1L713,216.4L709.3,220.2ZM698.6,230.6L702.3,226.9L703.3,228L699.5,231.6ZM705.6,223.5L709.3,219.8L710.5,221.1L706.7,224.7ZM709.1,220L712.9,216.3L714.2,217.7L710.4,221.3ZM670.4,259L674.2,255.4L674.4,255.6L670.5,259.1ZM674,255.6L677.8,252L678.1,252.3L674.2,255.8ZM677.6,252.1L681.4,248.5L681.8,248.9L677.9,252.5ZM681.3,248.7L685.1,245.1L685.5,245.6L681.6,249.1ZM684.9,245.2L688.7,241.6L689.3,242.3L685.4,245.8ZM699.4,231.5L703.2,227.8L704.2,228.9L700.2,232.4ZM703,228L706.8,224.4L707.9,225.6L704,229.1ZM706.6,224.6L710.4,220.9L711.6,222.2L707.7,225.7ZM710.2,221.1L711.2,220.2L712.4,221.5L711.4,222.4ZM670.5,259.1L674.4,255.6L674.5,255.8L670.5,259.2ZM689,242.4L692.9,238.8L693.6,239.6L689.6,243ZM696.4,235.7L700.3,232.1L701.2,233.1L697.2,236.5ZM700.1,232.3L704,228.8L705,229.9L701,233.3ZM670.6,259.3L674.7,256L674.8,256.2L670.7,259.4ZM674.5,256.1L678.6,252.8L678.8,253.1L674.6,256.3ZM678.4,253L682.4,249.7L682.8,250.1L678.6,253.3ZM682.2,249.8L686.3,246.5L686.8,247.1L682.6,250.3ZM686.1,246.7L690.2,243.4L690.7,244L686.6,247.2ZM690,243.5L694.1,240.2L694.7,241L690.5,244.2ZM693.9,240.4L698,237L698.7,238L694.5,241.1ZM697.8,237.2L701.8,233.9L702.7,234.9L698.5,238.1ZM705.5,230.9L709.6,227.6L710.6,228.8L706.4,232ZM713.3,224.6L717.4,221.3L718.5,222.8L714.4,226ZM717.2,221.4L718.5,220.3L719.8,221.9L718.3,222.9ZM670.7,259.4L674.8,256.2L675,256.4L670.7,259.5ZM674.6,256.3L678.8,253.1L679,253.4L674.8,256.5ZM678.6,253.3L682.8,250.1L683.1,250.5L678.8,253.6ZM682.6,250.2L686.7,247L687.1,247.6L682.9,250.7ZM686.5,247.2L690.7,244L691.2,244.6L686.9,247.7ZM690.5,244.1L694.6,240.9L695.2,241.7L691,244.8ZM694.4,241.1L698.6,237.9L699.3,238.8L695,241.9ZM702.4,235L706.5,231.8L707.4,232.9L703.1,236ZM714.2,225.8L718.4,222.6L719.5,224.1L715.3,227.2ZM718.2,222.8L721.1,220.5L722.3,222.1L719.3,224.3ZM670.9,259.6L675.2,256.7L675.4,257L670.9,259.7ZM679.2,254.2L683.6,251.3L683.9,251.8L679.4,254.5ZM687.6,248.7L692,245.8L692.5,246.6L688,249.3ZM691.8,246L696.2,243.1L696.7,244L692.3,246.7ZM696,243.2L700.4,240.4L701,241.4L696.5,244.1ZM700.2,240.5L704.6,237.6L705.3,238.7L700.8,241.5ZM708.5,235L712.9,232.2L713.8,233.5L709.3,236.3ZM712.7,232.3L717.1,229.4L718.1,230.9L713.6,233.7ZM721.1,226.8L722.1,226.2L723.1,227.9L722.1,228.5ZM692.2,246.6L696.7,243.9L697.2,244.7L692.6,247.3ZM717.8,230.9L722.2,228.1L723.2,229.8L718.6,232.4ZM722,228.3L726.5,225.5L727.5,227.3L723,229.9ZM726.3,225.6L729.4,223.7L730.5,225.6L727.3,227.4ZM671,259.8L675.5,257.2L675.6,257.4L671,259.9ZM675.3,257.3L679.8,254.7L680,255L675.4,257.5ZM679.6,254.8L684.2,252.1L684.4,252.6L679.8,255.1ZM692.6,247.3L697.1,244.6L697.6,245.5L693,248ZM696.9,244.7L701.5,242.1L702,243.1L697.4,245.6ZM714.2,234.7L718.8,232.1L719.6,233.6L715,236.1ZM722.9,229.7L727.4,227.1L728.4,228.9L723.8,231.4ZM727.2,227.2L729.4,225.9L730.5,227.8L728.2,229ZM675.4,257.5L680,255L680.2,255.4L675.5,257.7ZM679.8,255.1L684.4,252.6L684.7,253.1L680,255.5ZM684.2,252.7L688.8,250.2L689.1,250.8L684.4,253.2ZM688.6,250.3L693.2,247.8L693.6,248.6L688.9,250.9ZM693,247.9L697.6,245.4L698,246.3L693.4,248.7ZM701.7,243.1L706.4,240.6L707,241.8L702.3,244.2ZM706.1,240.7L710.7,238.2L711.4,239.5L706.7,241.9ZM710.5,238.3L715.1,235.8L715.9,237.3L711.2,239.6ZM714.9,236L719.5,233.4L720.3,235L715.7,237.4ZM719.3,233.6L723.9,231L724.8,232.7L720.1,235.1ZM671.1,260L675.7,257.6L675.9,257.8L671.1,260.1ZM675.5,257.7L680.2,255.3L680.4,255.7L675.6,257.9ZM684.4,253.1L689.1,250.8L689.4,251.4L684.7,253.7ZM688.9,250.9L693.5,248.5L693.9,249.3L689.2,251.5ZM697.8,246.3L702.4,243.9L703,245L698.2,247.2ZM702.2,244L706.9,241.6L707.5,242.8L702.7,245.1ZM706.7,241.8L711.3,239.4L712,240.7L707.2,242.9ZM720,234.9L724.7,232.5L725.5,234.2L720.8,236.5ZM728.9,230.4L733.6,228L734.6,230L729.8,232.2ZM733.4,228.1L736.9,226.3L738,228.3L734.3,230.1ZM671.1,260.1L675.8,257.8L676,258.1L671.2,260.2ZM675.6,257.9L680.4,255.6L680.5,256L675.7,258.2ZM680.1,255.8L684.9,253.5L685.1,254L680.3,256.1ZM684.6,253.6L689.4,251.3L689.7,252L684.9,254.1ZM689.1,251.4L693.9,249.2L694.2,249.9L689.4,252.1ZM693.7,249.3L698.4,247L698.8,247.9L694,250.1ZM698.2,247.1L702.9,244.8L703.4,245.9L698.6,248ZM702.7,244.9L707.4,242.7L708,243.9L703.2,246ZM707.2,242.8L711.9,240.5L712.5,241.8L707.7,244ZM711.7,240.6L716.4,238.4L717.1,239.8L712.3,241.9ZM716.2,238.5L720.9,236.2L721.7,237.8L716.9,239.9ZM720.7,236.3L725.4,234L726.2,235.8L721.4,237.9ZM734.2,229.8L738.8,227.7L739.7,229.8L735.2,231.8ZM671.2,260.2L675.9,258L676.1,258.3L671.2,260.3ZM675.7,258.1L680.5,256L680.7,256.4L675.8,258.4ZM684.8,254L689.6,251.9L689.9,252.6L685.1,254.6ZM689.4,252L694.2,249.9L694.5,250.7L689.7,252.7ZM694,250L698.8,247.8L699.2,248.7L694.3,250.7ZM698.5,247.9L703.3,245.8L703.8,246.8L698.9,248.8ZM703.1,245.9L707.9,243.7L708.4,244.9L703.6,246.9ZM707.7,243.8L712.5,241.7L713,243L708.2,245ZM721.4,237.7L726.1,235.6L726.9,237.3L722,239.3ZM671.2,260.4L676.1,258.5L676.2,258.7L671.3,260.5ZM689.9,253.2L694.8,251.3L695.1,252.1L690.1,253.8ZM694.6,251.4L699.5,249.5L699.8,250.4L694.9,252.2ZM699.2,249.6L704.1,247.7L704.5,248.8L699.6,250.5ZM713.2,244.2L718.1,242.3L718.7,243.8L713.7,245.5ZM717.9,242.4L722.8,240.5L723.4,242.1L718.4,243.9ZM722.5,240.6L727.4,238.7L728.1,240.5L723.2,242.2ZM671.3,260.6L676.3,258.9L676.4,259.2L671.3,260.7ZM680.8,257.5L685.8,255.8L686,256.4L680.9,257.8ZM690.3,254.3L695.3,252.7L695.6,253.5L690.5,255ZM695.1,252.8L700.1,251.2L700.4,252.1L695.3,253.6ZM704.6,249.7L709.6,248.1L709.9,249.3L704.9,250.8ZM723.6,243.5L728.6,241.8L729.1,243.7L724.1,245.1ZM685.8,256.9L690.9,255.5L691.1,256.2L686,257.4ZM695.5,254.2L700.6,252.9L700.8,253.9L695.7,255.1ZM710,250.3L715,249L715.4,250.4L710.3,251.6ZM724.5,246.4L729.5,245.1L730,246.9L724.9,248.1ZM681.1,258.5L686.2,257.3L686.3,257.8L681.2,258.9ZM700.5,253.8L705.6,252.6L705.9,253.7L700.8,254.8ZM715.1,250.3L720.2,249L720.6,250.6L715.4,251.7ZM720,249.1L725.1,247.9L725.5,249.6L720.3,250.7ZM672.5,285.3L673.6,290.4L672.8,290.6L671.8,285.4ZM673.6,290.2L674.7,295.3L673.7,295.5L672.7,290.3ZM675.7,299.9L676.8,305.1L675.5,305.3L674.5,300.2ZM677.8,309.7L678.9,314.8L677.3,315.2L676.3,310ZM678.8,314.6L679.9,319.7L678.2,320.1L677.2,314.9ZM679.9,319.5L681,324.6L679.1,325L678.2,319.8ZM680.9,324.4L682,329.5L680,329.9L679.1,324.7ZM668.1,265.7L669,270.9L668.7,271L668,265.8ZM668.9,270.7L669.8,275.9L669.3,275.9L668.7,270.7ZM669.7,275.6L670.5,280.8L670,280.9L669.3,275.7ZM670.5,280.6L671.3,285.7L670.6,285.8L669.9,280.6ZM672.1,290.4L672.9,295.6L671.9,295.8L671.2,290.6ZM672.9,295.4L673.7,300.6L672.6,300.7L671.9,295.5ZM674.5,305.2L675.3,310.4L673.8,310.6L673.2,305.4ZM675.2,310.2L676.1,315.4L674.5,315.6L673.8,310.4ZM676.8,320.1L677.7,325.2L675.8,325.5L675.1,320.3ZM678.4,329.9L679.2,335.1L677.1,335.4L676.4,330.2ZM679.2,334.9L680,340.1L677.7,340.4L677,335.2ZM680,339.8L680.1,340.5L677.8,340.8L677.7,340.1ZM669.4,275.7L670,280.9L669.5,280.9L668.9,275.7ZM670.7,285.6L671.4,290.8L670.5,290.9L670,285.7ZM672,295.5L672.7,300.7L671.5,300.8L671,295.6ZM672.7,300.5L673.4,305.7L672,305.8L671.5,300.6ZM674.6,315.3L675.3,320.5L673.6,320.7L673.1,315.5ZM676,325.2L676.7,330.4L674.6,330.7L674.1,325.5ZM667.9,265.8L668.5,271L668.2,271L667.8,265.8ZM668.5,270.7L669,276L668.6,276L668.2,270.8ZM669,275.7L669.5,280.9L669,281L668.6,275.8ZM669.5,280.7L670.1,285.9L669.4,286L669,280.7ZM670.1,285.7L670.6,290.9L669.7,291L669.3,285.7ZM671.1,295.6L671.7,300.8L670.5,300.9L670.1,295.7ZM672.2,305.6L672.7,310.8L671.3,310.9L670.9,305.7ZM672.7,310.5L673.3,315.7L671.7,315.9L671.3,310.7ZM673.2,315.5L673.8,320.7L672,320.9L671.6,315.6ZM673.8,320.5L674.3,325.7L672.4,325.9L672,320.6ZM674.3,325.4L674.9,330.7L672.8,330.8L672.4,325.6ZM674.8,330.4L675.4,335.6L673.2,335.8L672.8,330.6ZM675.4,335.4L675.9,340.6L673.6,340.8L673.2,335.6ZM675.9,340.4L676.5,345.6L674,345.8L673.6,340.6ZM676.4,345.3L676.6,346.8L674.1,347.1L673.9,345.6ZM668.6,275.8L669,281L668.5,281L668.2,275.8ZM669,280.7L669.4,286L668.7,286L668.5,280.8ZM669.8,290.7L670.2,295.9L669.2,296L669,290.8ZM670.6,300.7L671,305.9L669.7,306L669.5,300.8ZM672.6,325.6L673.1,330.8L671,331L670.7,325.7ZM673.4,335.6L673.9,340.8L671.5,340.9L671.2,335.7ZM667.7,265.8L668,271L667.7,271L667.6,265.8ZM668,270.8L668.3,276L667.8,276L667.7,270.8ZM668.3,275.8L668.5,281L668,281L667.8,275.8ZM668.5,280.8L668.8,286L668.1,286L668,280.8ZM669.1,290.8L669.4,296L668.3,296L668.2,290.8ZM669.3,295.8L669.6,301L668.5,301L668.3,295.8ZM669.6,300.7L669.9,306L668.6,306L668.5,300.8ZM669.9,305.7L670.2,311L668.7,311L668.6,305.8ZM671,325.7L671.2,330.9L669.2,331L669.1,325.8ZM671.2,330.7L671.5,335.9L669.3,336L669.2,330.8ZM671.8,340.7L672.1,345.9L669.6,346L669.4,340.8ZM667.6,265.8L667.8,271L667.5,271L667.5,265.8ZM667.8,270.8L667.9,276L667.5,276L667.5,270.8ZM668,280.8L668.2,286L667.5,286L667.5,280.8ZM668.2,285.8L668.3,291L667.4,291L667.5,285.8ZM668.3,290.8L668.5,296L667.4,296L667.4,290.8ZM668.4,295.8L668.6,301L667.4,301L667.4,295.8ZM668.7,305.8L668.9,311L667.4,311L667.4,305.8ZM668.9,310.8L669,316L667.4,316L667.4,310.8ZM669.1,320.8L669.3,326L667.4,326L667.4,320.8ZM669.4,330.8L669.6,336L667.4,336L667.4,330.8ZM669.6,335.8L669.7,341L667.4,341L667.4,335.8ZM669.7,340.8L669.8,345.8L667.4,345.8L667.4,340.8ZM667.5,265.8L667.5,271L667.2,271L667.4,265.8ZM667.6,290.8L667.6,296L666.5,296L666.7,290.8ZM667.6,305.8L667.6,311L666.1,311L666.3,305.8ZM667.6,315.8L667.6,321L665.8,321L666,315.8ZM667.6,320.8L667.6,326L665.7,326L665.9,320.8ZM667.4,265.8L667.3,271L667,271L667.3,265.8ZM667.3,270.8L667.2,276L666.7,276L667,270.8ZM667.2,275.8L667,281L666.5,281L666.7,275.8ZM667,280.8L666.9,286L666.2,286L666.5,280.8ZM666.9,285.8L666.8,291L665.9,291L666.2,285.8ZM666.8,290.8L666.7,296L665.6,296L665.9,290.8ZM666.7,295.8L666.5,301L665.4,301L665.7,295.8ZM666.5,300.8L666.4,306L665.1,306L665.4,300.7ZM666.4,305.8L666.3,311L664.8,311L665.1,305.7ZM666.3,310.8L666.2,316L664.6,316L664.9,310.7ZM666.2,315.8L666.1,321L664.3,321L664.6,315.7ZM666.1,320.8L665.9,326L664,326L664.3,320.7ZM665.8,330.8L665.7,336L663.5,335.9L663.8,330.7ZM665.6,340.8L665.4,346L662.9,345.9L663.2,340.7ZM667.3,265.8L667,271L666.8,271L667.2,265.8ZM667,270.8L666.8,276L666.4,276L666.8,270.8ZM666.5,280.8L666.3,286L665.6,286L666,280.7ZM666.3,285.8L666,291L665.2,291L665.6,285.7ZM666,290.8L665.8,296L664.8,295.9L665.2,290.7ZM665.8,295.8L665.5,301L664.4,300.9L664.8,295.7ZM665.5,300.8L665.3,306L664,305.9L664.4,300.7ZM665.3,305.7L665,311L663.6,310.9L664,305.7ZM664.8,315.7L664.5,321L662.7,320.9L663.2,315.6ZM664.5,320.7L664.2,326L662.3,325.8L662.8,320.6ZM664.3,325.7L664,331L661.9,330.8L662.4,325.6ZM664,330.7L663.7,336L661.5,335.8L662,330.6ZM663.5,340.7L663.3,344.9L660.8,344.7L661.2,340.5ZM666.8,270.8L666.4,276L666,276L666.5,270.7ZM666.4,275.8L666,281L665.5,280.9L666,275.7ZM665.3,290.7L664.9,295.9L663.9,295.9L664.4,290.6ZM664.5,300.7L664.1,305.9L662.8,305.8L663.4,300.6ZM663.7,310.7L663.3,315.9L661.7,315.7L662.3,310.5ZM663,320.6L662.6,325.9L660.7,325.7L661.2,320.5ZM662.6,325.6L662.2,330.8L660.1,330.7L660.7,325.4ZM662.2,330.6L661.8,335.8L659.6,335.6L660.2,330.4ZM661.8,335.6L661.4,340.8L659.1,340.6L659.6,335.4ZM665.5,280.7L665,285.9L664.3,285.8L665,280.6ZM665,285.7L664.5,290.9L663.6,290.8L664.3,285.6ZM664.5,290.6L664,295.9L663,295.7L663.7,290.5ZM664,295.6L663.5,300.8L662.3,300.7L663,295.5ZM663.5,300.6L663,305.8L661.6,305.7L662.3,300.5ZM663,305.6L662.4,310.8L661,310.6L661.7,305.4ZM662.5,310.5L661.9,315.8L660.3,315.6L661,310.4ZM661.9,315.5L661.4,320.7L659.7,320.5L660.4,315.3ZM661.4,320.5L660.9,325.7L659,325.5L659.7,320.3ZM660.9,325.5L660.4,330.7L658.3,330.4L659,325.2ZM659.9,335.4L659.4,340.6L657,340.4L657.7,335.1ZM659.4,340.4L658.8,345.6L656.4,345.3L657.1,340.1ZM658.9,345.4L658.8,346L656.3,345.7L656.4,345.1ZM666.3,270.7L665.7,275.9L665.2,275.9L666.1,270.7ZM665.7,275.7L665,280.9L664.5,280.8L665.3,275.6ZM665.1,280.6L664.4,285.8L663.7,285.7L664.5,280.6ZM663.8,290.6L663.1,295.8L662.1,295.6L662.9,290.4ZM663.1,295.5L662.4,300.7L661.3,300.6L662.1,295.4ZM662.5,300.5L661.8,305.7L660.5,305.5L661.3,300.3ZM661.8,305.4L661.2,310.6L659.7,310.4L660.5,305.2ZM661.2,310.4L660.5,315.6L658.9,315.4L659.8,310.2ZM660.5,315.4L659.9,320.6L658.1,320.3L659,315.1ZM659.9,320.3L659.2,325.5L657.3,325.2L658.2,320.1ZM659.3,325.3L658.6,330.5L656.5,330.2L657.4,325ZM658.6,330.2L657.9,335.4L655.8,335.1L656.6,329.9ZM658,335.2L657.3,340.4L655,340.1L655.8,334.9ZM657.3,340.1L657.2,341.1L654.8,340.8L655,339.8ZM666.1,270.7L665.3,275.9L664.9,275.8L665.8,270.6ZM663.8,285.5L663,290.7L662.1,290.6L663.1,285.4ZM662.2,295.4L661.4,300.6L660.3,300.4L661.2,295.2ZM661.5,300.3L660.7,305.5L659.4,305.3L660.3,300.1ZM660.7,305.3L659.9,310.5L658.4,310.2L659.4,305ZM659.9,310.2L659.1,315.4L657.5,315.1L658.5,310ZM659.1,315.1L658.3,320.3L656.6,320L657.6,314.9ZM657.6,325L656.8,330.2L654.8,329.9L655.7,324.7ZM656.8,330L656,335.2L653.8,334.8L654.8,329.6ZM656.1,334.9L655.2,340.1L652.9,339.7L653.9,334.5ZM655.3,339.8L654.9,342.5L652.5,342L653,339.5ZM665,275.6L664,280.7L663.5,280.6L664.6,275.5ZM658.7,310L657.7,315.2L656.1,314.8L657.2,309.7ZM656.8,319.8L655.9,325L654,324.6L655.1,319.5ZM655.9,324.7L655,329.9L653,329.5L654.1,324.4ZM666.7,265.7L665.6,270.9L665.3,270.8L666.6,265.7ZM665.6,270.6L664.6,275.7L664.1,275.7L665.4,270.5ZM664.6,275.5L663.5,280.6L663,280.5L664.2,275.4ZM662.6,285.3L661.5,290.4L660.6,290.2L661.9,285.1ZM661.5,290.2L660.4,295.3L659.4,295.1L660.7,290ZM660.5,295.1L659.4,300.2L658.3,299.9L659.5,294.8ZM659.5,300L658.4,305.1L657.1,304.8L658.3,299.7ZM658.4,304.9L657.3,310L655.9,309.7L657.2,304.6ZM656.4,314.6L655.3,319.8L653.6,319.4L654.8,314.3ZM654.3,324.4L653.2,329.6L651.2,329.1L652.5,324ZM652.2,334.2L651.2,339.3L648.9,338.8L650.1,333.7ZM651.2,339.1L650.6,342L648.2,341.4L648.9,338.6ZM658.5,299.7L657.2,304.8L656,304.5L657.3,299.5ZM656.1,309.5L654.9,314.6L653.4,314.2L654.7,309.1ZM653.8,319.2L652.6,324.3L650.8,323.8L652.1,318.8ZM652.7,324.1L651.5,329.2L649.5,328.7L650.8,323.6ZM665.2,270.5L663.8,275.6L663.4,275.5L664.9,270.4ZM661.3,285L660,290.1L659.1,289.8L660.6,284.8ZM660,289.8L658.7,294.9L657.7,294.6L659.2,289.6ZM658.8,294.7L657.4,299.7L656.3,299.4L657.8,294.4ZM656.2,304.3L654.8,309.4L653.4,309L654.9,304ZM653.6,314L652.3,319.1L650.6,318.6L652.1,313.5ZM651,323.6L649.7,328.7L647.7,328.2L649.2,323.1ZM649.8,328.5L648.4,333.6L646.3,333L647.8,327.9ZM666.4,265.6L664.9,270.7L664.6,270.6L666.3,265.6ZM663.5,275.2L662.1,280.3L661.5,280.1L663.2,275.1ZM662.1,280L660.7,285.1L660,284.9L661.6,279.9ZM660.7,284.8L659.2,289.9L658.4,289.6L660,284.6ZM659.3,289.6L657.8,294.7L656.9,294.4L658.5,289.4ZM657.9,294.4L656.4,299.5L655.3,299.1L656.9,294.1ZM656.5,299.2L655,304.2L653.8,303.9L655.4,298.9ZM653.7,308.8L652.2,313.8L650.6,313.4L652.3,308.4ZM652.3,313.6L650.8,318.6L649.1,318.1L650.7,313.1ZM650.8,318.4L649.4,323.4L647.5,322.9L649.2,317.9ZM649.4,323.2L647.9,328.2L646,327.6L647.6,322.6ZM648,328L646.5,333L644.4,332.4L646.1,327.4ZM643.8,342.4L643.6,343L641.2,342.3L641.4,341.6ZM664.7,270.4L663.1,275.4L662.7,275.2L664.5,270.3ZM660.1,284.6L658.5,289.6L657.7,289.4L659.4,284.4ZM654,303.7L652.4,308.7L651,308.2L652.7,303.3ZM650.9,313.2L649.3,318.2L647.6,317.6L649.4,312.7ZM646.3,327.5L644.7,332.5L642.6,331.7L644.4,326.8ZM644.8,332.2L643.1,337.2L640.9,336.5L642.7,331.5ZM643.2,337L641.7,341.7L639.3,340.9L641,336.2ZM662.8,275L661.1,280L660.6,279.8L662.5,274.9ZM661.2,279.7L659.4,284.7L658.8,284.4L660.7,279.5ZM659.5,284.4L657.8,289.4L657,289.1L658.9,284.2ZM656.2,293.9L654.5,298.8L653.4,298.4L655.3,293.5ZM652.9,303.3L651.1,308.3L649.8,307.7L651.7,302.8ZM651.2,308L649.5,313L648,312.4L649.9,307.5ZM649.6,312.7L647.8,317.7L646.2,317.1L648.1,312.2ZM647.9,317.5L646.2,322.4L644.4,321.7L646.3,316.8ZM646.2,322.2L644.5,327.1L642.6,326.4L644.5,321.5ZM641.3,336.3L640.4,338.6L638.2,337.8L639.1,335.5ZM655.4,293.6L653.5,298.5L652.4,298L654.4,293.2ZM650,307.6L648.1,312.5L646.7,311.9L648.7,307ZM646.5,316.9L644.6,321.8L642.8,321.1L644.8,316.3ZM644.7,321.6L642.8,326.5L640.9,325.7L642.9,320.9ZM642.9,326.3L641,331.2L639,330.3L641,325.5Z"/>
<path fill="#ff5000" d="M694.4,215L695.7,212.8L697.1,213.7L695.8,215.8ZM694.2,226.8L697.4,222.7L698.6,223.6L695.2,227.7ZM702.1,227.1L705.8,223.4L706.9,224.5L703.1,228.1ZM712.7,216.5L713.1,216L714.5,217.4L714,217.8ZM709.4,227.7L713.5,224.4L714.6,225.8L710.4,229ZM675,256.9L679.4,254L679.7,254.4L675.2,257.1ZM683.4,251.4L687.8,248.6L688.2,249.2L683.7,251.9ZM704.4,237.8L708.8,234.9L709.5,236.1L705.1,238.9ZM716.9,229.6L721.3,226.7L722.3,228.3L717.9,231.1ZM723.7,231.2L728.3,228.7L729.3,230.5L724.6,232.8ZM728.1,228.8L732.7,226.3L733.7,228.2L729,230.6ZM732.5,226.4L734.2,225.4L735.3,227.4L733.5,228.3ZM724.5,232.6L729.1,230.3L730.1,232.1L725.3,234.3ZM725.2,234.1L730,231.9L730.8,233.7L726,235.9ZM729.7,232L734.5,229.7L735.4,231.7L730.6,233.8ZM680.3,256.1L685.1,253.9L685.3,254.5L680.4,256.5ZM712.2,241.8L717,239.6L717.7,241.1L712.8,243.1ZM716.8,239.8L721.6,237.6L722.3,239.2L717.4,241.2ZM725.9,235.7L730.7,233.5L731.5,235.4L726.7,237.4ZM730.5,233.6L735.3,231.5L736.1,233.5L731.3,235.5ZM735,231.6L735.8,231.3L736.7,233.3L735.9,233.6ZM680.4,256.4L685.3,254.4L685.5,254.9L680.6,256.8ZM685,254.5L689.9,252.5L690.2,253.1L685.2,255ZM689.7,252.6L694.5,250.6L694.8,251.4L689.9,253.2ZM694.3,250.7L699.1,248.6L699.5,249.6L694.6,251.5ZM698.9,248.7L703.7,246.7L704.2,247.8L699.3,249.7ZM703.5,246.8L708.4,244.8L708.8,246L703.9,247.9ZM708.1,244.9L713,242.9L713.5,244.2L708.6,246.1ZM717.4,241L722.2,239L722.9,240.7L717.9,242.5ZM731.2,235.3L736,233.3L736.9,235.3L732,237.2ZM675.9,258.6L680.8,256.7L680.9,257.1L676,258.8ZM680.6,256.8L685.5,254.9L685.7,255.4L680.7,257.1ZM685.2,255L690.1,253.1L690.4,253.7L685.4,255.5ZM703.9,247.8L708.8,245.9L709.2,247.1L704.3,248.8ZM708.5,246L713.4,244.1L714,245.4L709,247.2ZM727.2,238.8L732.1,236.9L732.8,238.8L727.9,240.5ZM680.7,257.1L685.6,255.3L685.8,255.9L680.8,257.5ZM685.4,255.4L690.3,253.7L690.6,254.3L685.6,256ZM704.2,248.7L709.2,247L709.6,248.2L704.6,249.8ZM709,247L713.9,245.3L714.4,246.7L709.4,248.3ZM718.4,243.7L723.3,241.9L723.9,243.6L718.9,245.2ZM723.1,242L728,240.2L728.6,242.1L723.6,243.7ZM676.1,259L681,257.4L681.2,257.8L676.1,259.3ZM685.6,255.9L690.6,254.3L690.8,255L685.7,256.4ZM699.8,251.2L704.8,249.6L705.2,250.7L700.1,252.2ZM709.3,248.1L714.3,246.5L714.7,247.9L709.7,249.4ZM714.1,246.6L719.1,244.9L719.5,246.5L714.5,248ZM718.8,245L723.8,243.4L724.3,245.1L719.3,246.6ZM728.3,241.9L733.3,240.3L733.9,242.2L728.9,243.7ZM733.1,240.4L738.1,238.7L738.7,240.8L733.7,242.3ZM671.3,260.7L676.4,259.2L676.4,259.4L671.4,260.8ZM680.9,257.8L685.9,256.3L686.1,256.9L681,258.2ZM685.7,256.4L690.7,254.9L690.9,255.6L685.9,256.9ZM690.5,254.9L695.5,253.4L695.8,254.3L690.7,255.6ZM695.3,253.5L700.3,252L700.6,253L695.5,254.3ZM700.1,252.1L705.1,250.6L705.4,251.7L700.4,253.1ZM704.9,250.7L709.9,249.2L710.3,250.4L705.2,251.8ZM709.7,249.2L714.7,247.7L715.1,249.1L710,250.5ZM714.5,247.8L719.5,246.3L719.9,247.9L714.9,249.2ZM724,244.9L729.1,243.4L729.6,245.3L724.5,246.6ZM671.4,260.8L676.4,259.4L676.5,259.7L671.4,260.9ZM676.2,259.5L681.3,258.1L681.4,258.5L676.3,259.7ZM681,258.2L686.1,256.8L686.2,257.3L681.1,258.6ZM690.7,255.5L695.7,254.2L696,255L690.8,256.2ZM700.3,252.9L705.4,251.6L705.7,252.7L700.6,253.9ZM705.2,251.6L710.2,250.3L710.5,251.5L705.4,252.8ZM714.8,249L719.9,247.7L720.3,249.2L715.2,250.4ZM719.6,247.7L724.7,246.4L725.1,248.1L720,249.3ZM729.3,245.1L734.4,243.8L734.9,245.8L729.8,247ZM734.1,243.8L739.2,242.5L739.7,244.6L734.6,245.8ZM671.4,260.9L676.5,259.6L676.6,259.9L671.4,261ZM676.2,259.7L681.4,258.4L681.4,258.9L676.3,259.9ZM686,257.3L691.1,256.1L691.2,256.8L686.1,257.9ZM690.8,256.2L695.9,254.9L696.1,255.8L691,256.9ZM695.7,255L700.8,253.7L701,254.7L695.9,255.8ZM705.4,252.6L710.5,251.4L710.8,252.7L705.7,253.8ZM710.3,251.5L715.4,250.2L715.7,251.6L710.6,252.7ZM724.8,247.9L729.9,246.7L730.4,248.6L725.2,249.6ZM734.6,245.6L739.7,244.3L740.2,246.5L735,247.6ZM671.4,261L676.5,259.9L676.6,260.1L671.4,261.1ZM676.3,259.9L681.4,258.8L681.5,259.2L676.4,260.2ZM691,256.8L696.1,255.7L696.3,256.5L691.1,257.5ZM695.9,255.7L701,254.6L701.2,255.6L696,256.6ZM700.7,254.7L705.9,253.6L706.1,254.7L700.9,255.7ZM720.3,250.5L725.4,249.4L725.8,251.1L720.6,252.1ZM676.3,260.1L681.5,259.2L681.6,259.6L676.4,260.4ZM686.2,258.3L691.3,257.3L691.5,258L686.3,258.9ZM705.8,254.6L711,253.7L711.2,255L706,255.8ZM725.5,250.9L727.9,250.5L728.2,252.3L725.8,252.7ZM671.4,261.2L676.6,260.3L676.7,260.6L671.5,261.3ZM686.3,258.8L691.4,258L691.5,258.7L686.3,259.4ZM706,255.6L711.2,254.8L711.4,256.1L706.2,256.8ZM725.8,252.5L730.9,251.6L731.2,253.5L726,254.2ZM671.5,261.4L676.7,260.8L676.7,261.1L671.5,261.5ZM676.4,260.8L681.7,260.3L681.7,260.7L676.5,261.1ZM681.4,260.3L686.6,259.8L686.7,260.3L681.5,260.7ZM691.4,259.2L696.6,258.7L696.7,259.6L691.4,260ZM706.3,257.7L711.5,257.1L711.6,258.4L706.4,258.8ZM711.3,257.1L716.5,256.6L716.6,258L711.4,258.4ZM716.2,256.6L721.4,256L721.6,257.6L716.4,258ZM721.2,256.1L726.4,255.5L726.6,257.3L721.3,257.7ZM726.2,255.5L731.4,255L731.6,256.9L726.3,257.3ZM681.5,260.7L686.7,260.3L686.7,260.8L681.5,261.1ZM670.1,270.4L671.6,275.5L671.2,275.6L669.8,270.5ZM675.8,289.6L677.3,294.6L676.3,294.9L675,289.8ZM677.2,294.4L678.7,299.4L677.6,299.7L676.2,294.7ZM681.5,308.8L683,313.8L681.4,314.2L680.1,309.2ZM685.8,323.1L687.3,328.2L685.3,328.7L684,323.6ZM688.6,332.7L690.1,337.7L687.9,338.4L686.5,333.3ZM690.1,337.5L690.2,338.1L688,338.7L687.8,338.1ZM672.4,280.1L673.8,285.2L673.1,285.4L671.9,280.3ZM679,304.3L680.3,309.3L678.9,309.7L677.7,304.6ZM682.9,318.8L684.2,323.8L682.4,324.3L681.2,319.2ZM670.8,275.4L672,280.5L671.5,280.6L670.4,275.5ZM672,280.3L673.2,285.4L672.5,285.5L671.4,280.4ZM673.1,285.1L674.4,290.2L673.5,290.4L672.4,285.3ZM675.5,294.8L676.7,299.9L675.6,300.2L674.5,295.1ZM676.7,299.7L677.9,304.8L676.6,305.1L675.5,300ZM679,309.4L680.3,314.5L678.7,314.9L677.6,309.7ZM680.2,314.3L681.4,319.4L679.7,319.8L678.6,314.6ZM681.4,319.1L682.6,324.2L680.7,324.7L679.7,319.5ZM682.5,324L683.8,329.1L681.8,329.6L680.7,324.4ZM683.7,328.9L684.6,332.5L682.5,332.9L681.7,329.3ZM668.3,265.7L669.4,270.8L669.2,270.9L668.2,265.7ZM669.4,270.6L670.5,275.7L670.1,275.8L669.1,270.7ZM670.4,275.5L671.5,280.6L671,280.7L670,275.6ZM671.5,280.4L672.6,285.5L671.9,285.7L670.9,280.5ZM674.6,295L675.7,300.2L674.6,300.4L673.6,295.2ZM676.7,304.8L677.8,310L676.4,310.2L675.4,305.1ZM682,329.3L683.1,334.4L680.9,334.8L680,329.7ZM683,334.2L684.1,339.3L681.8,339.7L680.9,334.6ZM684.1,339L684.2,339.7L681.9,340.2L681.8,339.5ZM668.2,265.7L669.2,270.9L668.9,270.9L668.1,265.8ZM669.2,270.6L670.1,275.8L669.7,275.9L668.9,270.7ZM670.1,275.6L671,280.7L670.5,280.8L669.7,275.6ZM671,280.5L672,285.6L671.3,285.8L670.4,280.6ZM671.9,285.4L672.9,290.6L672,290.7L671.2,285.5ZM672.8,290.3L673.8,295.5L672.8,295.6L672,290.5ZM673.8,295.2L674.7,300.4L673.6,300.6L672.8,295.4ZM674.7,300.1L675.6,305.3L674.3,305.5L673.5,300.3ZM675.6,305L676.6,310.2L675.1,310.5L674.3,305.3ZM676.5,310L677.5,315.1L675.9,315.4L675.1,310.2ZM677.4,314.9L678.4,320L676.7,320.3L675.9,315.1ZM678.4,319.8L679.3,325L677.4,325.3L676.6,320.1ZM679.3,324.7L680.2,329.9L678.2,330.2L677.4,325ZM681.1,334.5L681.4,336L679.2,336.4L678.9,334.9ZM671.3,285.5L672.1,290.7L671.3,290.8L670.6,285.6ZM673.7,300.3L674.5,305.5L673.2,305.7L672.5,300.5ZM676,315.1L676.9,320.3L675.1,320.6L674.5,315.4ZM677.6,325L678.5,330.2L676.4,330.5L675.7,325.3ZM667.8,265.8L668.2,271L668,271L667.7,265.8ZM668.2,270.8L668.6,276L668.2,276L668,270.8ZM669.4,285.7L669.8,291L669,291L668.7,285.8ZM670.2,295.7L670.6,300.9L669.5,301L669.2,295.8ZM671,305.7L671.4,310.9L670,311L669.7,305.7ZM671.4,310.6L671.9,315.9L670.2,316L670,310.7ZM671.8,315.6L672.3,320.9L670.5,321L670.2,315.7ZM672.2,320.6L672.7,325.8L670.8,326L670.5,320.7ZM673,330.6L673.5,335.8L671.3,336L671,330.7ZM673.8,340.5L674.3,345.8L671.8,345.9L671.5,340.7ZM674.2,345.5L674.4,347.5L671.9,347.7L671.7,345.7ZM665.9,325.8L665.8,331L663.8,330.9L664,325.7ZM665.7,335.8L665.6,341L663.2,340.9L663.5,335.7ZM665.4,345.8L665.4,348.1L662.8,348L663,345.7ZM666.8,275.8L666.5,281L666,281L666.4,275.8ZM665,310.7L664.8,316L663.1,315.9L663.6,310.6ZM663.8,335.7L663.5,340.9L661.1,340.8L661.6,335.6ZM667.2,265.8L666.8,271L666.5,271L667.1,265.8ZM666,280.7L665.6,286L664.9,285.9L665.5,280.7ZM665.7,285.7L665.3,291L664.4,290.9L664.9,285.7ZM664.9,295.7L664.5,300.9L663.3,300.8L663.9,295.6ZM664.1,305.7L663.7,310.9L662.3,310.8L662.8,305.6ZM663.4,315.6L663,320.9L661.2,320.7L661.8,315.5ZM661.4,340.6L661.4,341.3L659,341.1L659.1,340.4ZM666.9,265.8L666.1,270.9L665.8,270.9L666.8,265.7ZM665.3,275.6L664.5,280.8L664,280.7L664.9,275.6ZM664.6,280.6L663.7,285.8L663,285.6L664,280.5ZM663,290.5L662.2,295.6L661.2,295.5L662.2,290.3ZM658.4,320.1L657.6,325.3L655.7,325L656.6,319.8ZM666.8,265.7L665.8,270.9L665.6,270.8L666.7,265.7ZM665.9,270.7L664.9,275.8L664.5,275.7L665.6,270.6ZM664.1,280.5L663.1,285.7L662.4,285.5L663.5,280.4ZM663.2,285.4L662.2,290.6L661.4,290.4L662.5,285.3ZM662.3,290.3L661.3,295.5L660.3,295.3L661.4,290.2ZM661.4,295.2L660.4,300.4L659.3,300.2L660.4,295ZM660.5,300.2L659.5,305.3L658.2,305.1L659.3,299.9ZM659.6,305.1L658.6,310.2L657.2,310L658.3,304.8ZM657.8,314.9L656.8,320.1L655.1,319.7L656.2,314.6ZM655,329.7L654.1,334.8L651.9,334.4L653,329.3ZM654.1,334.6L653.2,339.7L650.9,339.3L652,334.2ZM653.2,339.5L652.3,344.7L649.8,344.2L650.9,339ZM652.3,344.4L652,346L649.6,345.5L649.9,343.9ZM666.6,265.7L665.4,270.8L665.1,270.7L666.5,265.7ZM665.4,270.6L664.2,275.7L663.8,275.6L665.2,270.5ZM664.3,275.4L663,280.5L662.5,280.4L663.9,275.3ZM663.1,280.3L661.9,285.4L661.2,285.2L662.6,280.1ZM661.9,285.1L660.7,290.3L659.9,290L661.2,285ZM660.8,290L659.6,295.1L658.6,294.9L659.9,289.8ZM659.6,294.9L658.4,300L657.3,299.7L658.6,294.6ZM657.3,304.6L656.1,309.7L654.7,309.3L656,304.3ZM655,314.3L653.8,319.4L652.1,319L653.4,313.9ZM651.5,328.9L650.3,334L648.2,333.5L649.5,328.4ZM650.4,333.8L649.1,338.9L646.9,338.3L648.2,333.2ZM649.2,338.6L648.5,341.7L646.1,341.1L646.9,338.1ZM665,270.4L663.5,275.5L663.1,275.3L664.7,270.4ZM655.1,304L653.6,309L652.2,308.6L653.8,303.6ZM646.6,332.8L645.1,337.8L642.9,337.1L644.5,332.1ZM645.2,337.6L643.7,342.6L641.3,341.9L643,336.9ZM666.2,265.6L664.4,270.5L664.2,270.4L666.1,265.5ZM664.5,270.3L662.8,275.2L662.4,275.1L664.3,270.2ZM657.9,289.2L656.1,294.1L655.2,293.8L657.1,288.9ZM654.5,298.6L652.8,303.5L651.6,303.1L653.5,298.2ZM644.6,326.9L642.8,331.8L640.8,331.1L642.7,326.2ZM642.9,331.6L641.2,336.6L639,335.7L640.9,330.8Z"/>
<path fill="#f00800" d="M698.2,211.4L699.6,209.3L701.1,210.3L699.7,212.4ZM681.9,249.4L685.9,246L686.4,246.6L682.3,249.9ZM689.5,242.9L693.5,239.5L694.2,240.3L690.1,243.6ZM695,241.8L699.2,238.7L699.9,239.6L695.6,242.6ZM703.1,235.9L707.3,232.8L708.1,234L703.8,236.9ZM707.1,232.9L711.3,229.8L712.3,231.2L707.9,234.1ZM711.1,230L715.4,226.9L716.4,228.3L712.1,231.3ZM715.2,227L719.4,223.9L720.5,225.5L716.2,228.5ZM679,253.9L683.3,250.9L683.7,251.3L679.3,254.2ZM699.6,239.7L703.9,236.7L704.7,237.8L700.2,240.6Z"/>
<path fill="#ff6808" d="M671.2,260.3L676,258.2L676.1,258.5L671.2,260.4ZM675.8,258.3L680.7,256.3L680.8,256.7L675.9,258.6ZM712.7,243L717.6,241L718.2,242.4L713.3,244.3ZM722,239.1L726.8,237.1L727.5,238.9L722.6,240.8ZM726.6,237.2L731.4,235.2L732.2,237.1L727.3,239ZM735.8,233.4L740.7,231.3L741.5,233.5L736.6,235.4ZM740.4,231.4L741.1,231.2L742,233.4L741.3,233.6ZM731.9,237L736.8,235.1L737.5,237.1L732.6,238.9ZM736.5,235.2L739.8,233.9L740.6,236.1L737.3,237.2ZM671.3,260.5L676.2,258.7L676.3,259L671.3,260.6ZM676,258.8L680.9,257L681.1,257.4L676.1,259ZM690.1,253.7L695.1,252L695.3,252.8L690.3,254.4ZM694.8,252.1L699.8,250.3L700.1,251.3L695.1,252.9ZM699.5,250.4L704.5,248.6L704.9,249.7L699.9,251.3ZM713.7,245.4L718.6,243.6L719.1,245.1L714.1,246.7ZM727.8,240.3L732.7,238.6L733.4,240.5L728.4,242.1ZM732.5,238.7L734.6,237.9L735.2,239.9L733.2,240.6ZM737.8,238.8L741,237.8L741.7,240L738.5,240.9ZM676.1,259.2L681.2,257.7L681.3,258.1L676.2,259.5ZM719.2,246.4L724.3,244.9L724.8,246.6L719.7,247.9ZM728.8,243.5L733.9,242L734.4,244L729.3,245.3ZM733.6,242.1L738.7,240.6L739.3,242.7L734.2,244.1ZM738.4,240.7L742.8,239.4L743.4,241.6L739,242.8ZM738.9,242.5L740.9,242L741.5,244.2L739.5,244.7ZM729.7,246.8L734.8,245.5L735.3,247.5L730.1,248.6ZM739.4,244.4L740.8,244.1L741.3,246.2L739.9,246.5ZM681.2,258.9L686.3,257.8L686.4,258.3L681.3,259.3ZM686.1,257.8L691.2,256.7L691.4,257.4L686.2,258.4ZM705.6,253.6L710.8,252.5L711,253.8L705.9,254.8ZM710.5,252.6L715.7,251.5L715.9,252.9L710.8,253.9ZM715.4,251.5L720.5,250.4L720.9,252L715.7,253ZM725.2,249.4L730.3,248.3L730.7,250.2L725.5,251.1ZM671.4,261.1L676.6,260.1L676.6,260.4L671.5,261.2ZM681.3,259.2L686.4,258.3L686.5,258.8L681.3,259.6ZM691.1,257.4L696.3,256.4L696.4,257.3L691.2,258.1ZM696,256.5L701.2,255.5L701.3,256.5L696.2,257.3ZM700.9,255.5L706.1,254.6L706.3,255.7L701.1,256.5ZM710.7,253.7L715.9,252.7L716.2,254.2L711,255ZM715.7,252.8L720.8,251.8L721.1,253.4L715.9,254.2ZM720.6,251.9L725.7,250.9L726,252.6L720.8,253.4ZM676.4,260.4L681.6,259.5L681.6,260L676.4,260.6ZM681.3,259.6L686.5,258.8L686.6,259.3L681.4,260ZM691.2,258L696.4,257.2L696.5,258L691.3,258.7ZM696.1,257.2L701.3,256.4L701.5,257.4L696.3,258.1ZM701.1,256.4L706.3,255.6L706.4,256.7L701.2,257.4ZM710.9,254.8L716.1,254L716.3,255.5L711.1,256.1ZM715.9,254.1L721.1,253.2L721.3,254.8L716.1,255.5ZM720.8,253.3L726,252.4L726.3,254.2L721.1,254.8ZM735.6,250.9L739.3,250.3L739.6,252.4L735.9,252.9ZM671.5,261.3L676.7,260.6L676.7,260.8L671.5,261.4ZM676.4,260.6L681.6,259.9L681.7,260.3L676.5,260.9ZM691.3,258.6L696.5,257.9L696.6,258.8L691.4,259.3ZM706.2,256.6L711.4,255.9L711.5,257.3L706.3,257.8ZM711.1,256L716.3,255.3L716.5,256.7L711.3,257.3ZM726,254L731.2,253.3L731.4,255.2L726.2,255.7ZM686.4,259.8L691.6,259.2L691.7,259.9L686.4,260.3ZM696.3,258.7L701.6,258.2L701.6,259.2L696.4,259.6ZM701.3,258.2L706.5,257.6L706.6,258.8L701.4,259.2ZM731.1,255L736.4,254.4L736.5,256.5L731.3,256.9ZM736.1,254.5L741.3,253.9L741.5,256.1L736.3,256.5ZM741.1,253.9L744.9,253.5L745.1,255.8L741.3,256.1ZM671.5,261.5L676.7,261.1L676.7,261.3L671.5,261.6ZM676.5,261.1L681.7,260.7L681.7,261.1L676.5,261.3ZM686.4,260.3L691.7,259.9L691.7,260.6L686.5,260.8ZM691.4,259.9L696.7,259.5L696.7,260.3L691.5,260.6ZM696.4,259.5L701.6,259.1L701.7,260.1L696.5,260.3ZM701.4,259.1L706.6,258.7L706.7,259.8L701.5,260.1ZM706.4,258.7L711.6,258.3L711.7,259.6L706.5,259.8ZM711.4,258.3L716.6,257.9L716.7,259.3L711.4,259.6ZM716.3,257.9L721.6,257.4L721.7,259.1L716.4,259.3ZM721.3,257.5L726.6,257L726.7,258.8L721.4,259.1ZM726.3,257.1L731.5,256.6L731.7,258.5L726.4,258.8ZM731.3,256.7L736.5,256.2L736.7,258.3L731.4,258.6ZM736.3,256.3L741.5,255.8L741.7,258L736.4,258.3ZM741.3,255.9L744.2,255.6L744.4,257.9L741.4,258.1ZM671.5,261.6L676.7,261.3L676.7,261.6L671.5,261.7ZM676.5,261.3L681.7,261L681.7,261.5L676.5,261.6ZM686.5,260.8L691.7,260.5L691.7,261.2L686.5,261.3ZM671.5,261.7L676.7,261.5L676.7,261.8L671.5,261.8ZM676.5,261.5L681.7,261.4L681.7,261.8L676.5,261.8ZM671.5,261.8L676.7,261.8L676.7,262.1L671.5,261.9ZM676.5,261.8L681.7,261.8L681.7,262.2L676.5,262.1ZM681.5,261.8L686.7,261.8L686.7,262.3L681.5,262.2ZM691.5,261.8L696.7,261.7L696.7,262.6L691.5,262.5ZM711.5,261.7L716.7,261.7L716.7,263.2L711.5,263ZM726.5,261.7L731.7,261.7L731.7,263.6L726.5,263.4ZM671.5,261.9L676.7,262L676.7,262.3L671.5,262ZM676.5,262L681.7,262.1L681.7,262.6L676.5,262.3ZM691.5,262.4L696.7,262.5L696.7,263.4L691.5,263.1ZM701.5,262.6L706.7,262.8L706.7,263.9L701.5,263.6ZM711.5,262.9L716.7,263L716.7,264.5L711.4,264.2ZM716.5,263L721.7,263.1L721.7,264.7L716.4,264.4ZM726.5,263.2L731.7,263.4L731.7,265.3L726.4,265ZM671.5,262L676.7,262.3L676.7,262.5L671.5,262.1ZM676.5,262.3L681.7,262.5L681.7,262.9L676.5,262.5ZM671.5,262.1L676.7,262.5L676.7,262.8L671.5,262.2ZM676.5,262.5L681.7,262.9L681.7,263.3L676.4,262.8ZM671.5,262.2L676.7,262.8L676.7,263L671.5,262.3ZM676.5,262.7L681.7,263.3L681.6,263.7L676.4,263ZM671.5,262.3L676.7,263L676.6,263.3L671.4,262.4ZM676.4,263L681.6,263.6L681.6,264.1L676.4,263.2ZM671.5,262.4L676.6,263.2L676.6,263.5L671.4,262.5ZM676.4,263.2L681.6,264L681.5,264.4L676.3,263.5ZM671.4,262.5L676.6,263.5L676.5,263.7L671.4,262.6ZM676.4,263.4L681.5,264.4L681.4,264.8L676.3,263.7ZM671.4,262.6L676.6,263.7L676.5,264L671.4,262.7ZM676.3,263.7L681.4,264.7L681.4,265.2L676.2,263.9ZM671.4,262.7L676.5,263.9L676.4,264.2L671.4,262.8ZM676.3,263.9L681.4,265.1L681.3,265.5L676.2,264.1ZM671.4,262.8L676.4,264.2L676.4,264.4L671.3,262.9ZM676.2,264.1L681.3,265.5L681.2,265.9L676.1,264.4ZM671.3,262.9L676.4,264.4L676.3,264.7L671.3,263ZM676.1,264.3L681.2,265.8L681,266.2L676.1,264.6ZM671.3,263L676.3,264.6L676.2,264.9L671.3,263.1ZM676.1,264.6L681.1,266.2L680.9,266.6L676,264.8ZM671.3,263.1L676.2,264.9L676.1,265.1L671.2,263.2ZM676,264.8L680.9,266.5L680.8,266.9L675.9,265ZM671.2,263.2L676.1,265.1L676,265.4L671.2,263.3ZM675.9,265L680.8,266.9L680.7,267.3L675.8,265.3ZM671.2,263.3L676.1,265.3L675.9,265.6L671.2,263.4ZM675.8,265.2L680.7,267.2L680.5,267.6L675.7,265.5ZM671.2,263.4L676,265.5L675.8,265.8L671.1,263.5ZM675.7,265.4L680.5,267.6L680.4,268L675.6,265.7ZM671.1,263.5L675.9,265.8L675.7,266L671.1,263.6ZM675.6,265.7L680.4,267.9L680.2,268.3L675.5,265.9ZM671.1,263.6L675.7,266L675.6,266.2L671,263.7ZM675.5,265.9L680.2,268.2L680,268.6L675.4,266.1ZM671,263.7L675.6,266.2L675.5,266.4L671,263.8ZM675.4,266.1L680,268.6L679.8,268.9L675.3,266.3ZM671,263.8L675.5,266.4L675.4,266.6L670.9,263.9ZM675.3,266.3L679.9,268.9L679.6,269.3L675.2,266.5ZM670.9,263.9L675.4,266.6L675.2,266.9L670.9,264ZM675.2,266.5L679.7,269.2L679.4,269.6L675,266.7ZM670.9,264L675.3,266.8L675.1,267.1L670.8,264.1ZM675.1,266.7L679.5,269.5L679.2,269.9L674.9,266.9ZM670.8,264.1L675.1,267L675,267.3L670.7,264.2ZM674.9,266.9L679.3,269.9L679,270.2L674.8,267.1ZM670.7,264.1L675,267.2L674.8,267.4L670.7,264.2ZM674.8,267.1L679,270.2L678.8,270.5L674.6,267.3ZM670.7,264.2L674.8,267.4L674.7,267.6L670.6,264.3ZM674.6,267.3L678.8,270.5L678.6,270.8L674.5,267.5ZM670.6,264.3L674.7,267.6L674.5,267.8L670.5,264.4ZM674.5,267.5L678.6,270.7L678.3,271.1L674.3,267.7ZM670.5,264.4L674.5,267.8L674.4,268L670.5,264.5ZM674.4,267.6L678.4,271L678.1,271.4L674.2,267.8ZM670.5,264.5L674.4,268L674.2,268.2L670.4,264.6ZM674.2,267.8L678.1,271.3L677.8,271.6L674,268ZM670.4,264.5L674.2,268.2L674,268.4L670.3,264.6ZM674,268L677.9,271.6L677.6,271.9L673.9,268.2ZM670.3,264.6L674.1,268.3L673.9,268.5L670.2,264.7ZM673.9,268.2L677.6,271.9L677.3,272.2L673.7,268.3ZM670.3,264.7L673.9,268.5L673.7,268.7L670.2,264.8ZM673.7,268.3L677.3,272.1L677,272.4L673.5,268.5ZM670.2,264.8L673.7,268.7L673.5,268.8L670.1,264.8ZM673.5,268.5L677.1,272.4L676.7,272.7L673.3,268.7ZM670.1,264.8L673.5,268.8L673.3,269L670,264.9ZM673.4,268.6L676.8,272.6L676.4,272.9L673.2,268.8ZM670,264.9L673.3,269L673.1,269.1L669.9,265ZM673.2,268.8L676.5,272.9L676.2,273.1L673,268.9ZM669.9,265L673.1,269.1L672.9,269.3L669.8,265ZM673,268.9L676.2,273.1L675.9,273.3L672.8,269.1ZM669.9,265L673,269.3L672.7,269.4L669.8,265.1ZM672.8,269.1L675.9,273.3L675.6,273.6L672.6,269.2ZM669.8,265.1L672.8,269.4L672.5,269.6L669.7,265.2ZM672.6,269.2L675.6,273.5L675.2,273.8L672.4,269.4ZM669.7,265.2L672.6,269.5L672.3,269.7L669.6,265.2ZM672.4,269.3L675.3,273.7L674.9,274L672.2,269.5ZM669.6,265.2L672.3,269.7L672.1,269.8L669.5,265.3ZM672.2,269.5L675,273.9L674.6,274.2L672,269.6ZM669.5,265.3L672.1,269.8L671.9,269.9L669.4,265.3ZM672,269.6L674.6,274.1L674.3,274.3L671.8,269.7ZM669.4,265.3L671.9,269.9L671.7,270L669.3,265.4ZM671.8,269.7L674.3,274.3L673.9,274.5L671.6,269.8ZM669.3,265.4L671.7,270L671.5,270.2L669.2,265.4ZM671.6,269.8L674,274.5L673.6,274.7L671.4,269.9ZM669.2,265.4L671.5,270.1L671.2,270.3L669.1,265.5ZM671.4,269.9L673.7,274.7L673.3,274.8L671.1,270ZM669.1,265.5L671.3,270.2L671,270.4L669,265.5ZM671.2,270L673.3,274.8L672.9,275L670.9,270.1ZM669,265.5L671.1,270.3L670.8,270.4L668.9,265.5ZM671,270.1L673,275L672.6,275.1L670.7,270.2ZM668.9,265.5L670.8,270.4L670.6,270.5L668.8,265.6ZM670.7,270.2L672.6,275.1L672.2,275.2L670.5,270.3ZM668.8,265.6L670.6,270.5L670.3,270.6L668.7,265.6ZM670.5,270.3L672.3,275.2L671.9,275.4L670.3,270.4ZM672.2,275L674,279.9L673.4,280.1L671.8,275.1ZM683.9,308L685.7,312.9L684.2,313.4L682.6,308.4ZM687.3,317.4L689.1,322.3L687.2,322.9L685.6,317.9ZM690.6,326.8L692.4,331.7L690.3,332.5L688.7,327.5ZM692.3,331.5L694.1,336.5L691.9,337.2L690.2,332.2ZM694,336.2L695,339.1L692.7,339.9L691.8,337ZM668.7,265.6L670.4,270.6L670.1,270.7L668.6,265.6ZM670.3,270.4L671.9,275.3L671.5,275.5L670,270.4ZM673.4,279.9L675,284.9L674.3,285.1L672.9,280ZM675,284.6L676.6,289.6L675.8,289.9L674.3,284.8ZM676.5,289.4L678.1,294.4L677.2,294.7L675.7,289.6ZM679.6,298.9L681.2,303.9L680,304.2L678.5,299.2ZM684.3,313.1L685.9,318.1L684.2,318.6L682.7,313.6ZM685.8,317.9L687.5,322.9L685.6,323.4L684.2,318.4ZM688.9,327.4L690.6,332.4L688.5,333L687,328ZM690.5,332.1L691.1,333.9L688.9,334.6L688.4,332.8ZM668.6,265.6L670.1,270.7L669.9,270.7L668.5,265.7ZM671.5,275.2L673,280.2L672.4,280.4L671.1,275.3ZM672.9,280L674.4,285L673.7,285.2L672.4,280.2ZM674.4,284.8L675.9,289.8L675,290.1L673.7,285ZM678.6,299.2L680.1,304.2L678.9,304.6L677.5,299.5ZM680.1,304L681.6,309L680.2,309.4L678.8,304.3ZM682.9,313.5L684.4,318.6L682.7,319.1L681.4,314ZM684.4,318.3L685.9,323.4L684,323.9L682.7,318.8ZM687.2,327.9L688.7,333L686.6,333.6L685.2,328.5ZM668.5,265.7L669.9,270.7L669.6,270.8L668.4,265.7ZM669.8,270.5L671.2,275.6L670.8,275.7L669.6,270.6ZM671.1,275.3L672.5,280.4L672,280.5L670.7,275.4ZM673.8,285L675.1,290L674.3,290.3L673.1,285.1ZM675.1,289.8L676.4,294.9L675.4,295.1L674.2,290ZM676.4,294.6L677.7,299.7L676.6,300L675.4,294.9ZM677.7,299.5L679,304.5L677.8,304.8L676.5,299.7ZM680.3,309.1L681.6,314.2L680.1,314.6L678.9,309.5ZM681.6,313.9L682.9,319L681.2,319.4L680,314.3ZM684.2,323.6L685.5,328.7L683.5,329.2L682.3,324.1ZM685.5,328.4L686.8,333.5L684.7,334L683.5,328.9ZM686.8,333.2L688.1,338.3L685.9,338.9L684.6,333.8ZM688.1,338.1L689.4,343.1L687,343.8L685.8,338.6ZM689.4,342.9L689.7,344.2L687.3,344.8L687,343.5ZM668.4,265.7L669.7,270.8L669.4,270.9L668.3,265.7ZM669.6,270.5L670.9,275.7L670.4,275.7L669.4,270.6ZM674.3,290L675.6,295.1L674.6,295.3L673.5,290.2ZM677.8,304.6L679.1,309.7L677.7,310L676.6,304.9ZM680.2,329.6L681.2,334.8L679,335.2L678.2,330Z"/>
<path fill="#ff7808" d="M730.1,248.4L735.2,247.3L735.6,249.3L730.4,250.2ZM735,247.3L740.1,246.2L740.5,248.4L735.4,249.3ZM739.9,246.3L741.8,245.9L742.3,248.1L740.3,248.4ZM730.7,251.7L735.9,250.8L736.2,252.9L731,253.6ZM681.4,259.9L686.6,259.3L686.6,259.8L681.4,260.4ZM686.3,259.3L691.5,258.6L691.6,259.3L686.4,259.8ZM696.2,258L701.4,257.3L701.6,258.3L696.3,258.8ZM701.2,257.3L706.4,256.6L706.5,257.8L701.3,258.3ZM716.1,255.3L721.3,254.6L721.5,256.2L716.2,256.8ZM721,254.7L726.2,254L726.4,255.7L721.2,256.2ZM730.9,253.3L734.1,252.9L734.3,254.9L731.2,255.2ZM681.5,261L686.7,260.8L686.7,261.3L681.5,261.5ZM691.5,260.5L696.7,260.2L696.7,261.1L691.5,261.2ZM706.4,259.7L711.7,259.4L711.7,260.7L706.5,260.8ZM711.4,259.4L716.7,259.1L716.7,260.6L711.5,260.7ZM716.4,259.2L721.7,258.9L721.7,260.5L716.5,260.6ZM721.4,258.9L726.7,258.6L726.7,260.4L721.5,260.5ZM726.4,258.6L731.7,258.3L731.7,260.2L726.5,260.4ZM731.4,258.3L736.6,258.1L736.7,260.1L731.5,260.2ZM701.5,260.9L706.7,260.7L706.7,261.9L701.5,261.9ZM711.5,260.6L716.7,260.4L716.7,261.9L711.5,261.9ZM721.5,260.3L726.7,260.1L726.7,261.9L721.5,261.9ZM686.5,261.8L691.7,261.8L691.7,262.5L686.5,262.3ZM696.5,261.7L701.7,261.7L701.7,262.8L696.5,262.6ZM701.5,261.7L706.7,261.7L706.7,262.9L701.5,262.7ZM706.5,261.7L711.7,261.7L711.7,263L706.5,262.9ZM716.5,261.7L721.7,261.7L721.7,263.3L716.5,263.2ZM721.5,261.7L726.7,261.7L726.7,263.5L721.5,263.3ZM731.5,261.7L736.7,261.7L736.7,263.7L731.5,263.6ZM736.5,261.7L741.7,261.7L741.7,263.9L736.5,263.7ZM741.5,261.7L741.8,261.7L741.7,263.9L741.5,263.9ZM681.5,262.1L686.7,262.3L686.7,262.8L681.5,262.6ZM686.5,262.3L691.7,262.4L691.7,263.1L686.5,262.8ZM696.5,262.5L701.7,262.6L701.7,263.7L696.5,263.4ZM706.5,262.8L711.7,262.9L711.7,264.2L706.4,263.9ZM721.5,263.1L726.7,263.2L726.7,265L721.4,264.7ZM731.5,263.4L736.7,263.5L736.6,265.5L731.4,265.3ZM736.5,263.5L741.7,263.6L741.6,265.8L736.4,265.5ZM741.5,263.6L743,263.6L742.9,265.9L741.4,265.8ZM686.5,262.8L691.7,263L691.7,263.7L686.4,263.3ZM691.5,263L696.7,263.3L696.7,264.1L691.4,263.7ZM696.5,263.3L701.7,263.5L701.6,264.5L696.4,264.1ZM701.5,263.5L706.7,263.8L706.6,264.9L701.4,264.5ZM711.4,264L716.7,264.3L716.6,265.7L711.4,265.3ZM716.4,264.3L721.7,264.5L721.6,266.2L716.3,265.7ZM721.4,264.5L726.7,264.8L726.6,266.6L721.3,266.1ZM726.4,264.8L731.7,265.1L731.5,267L726.3,266.5ZM741.4,265.5L743.8,265.7L743.6,267.9L741.3,267.7ZM691.4,263.6L696.7,264L696.6,264.9L691.4,264.4ZM696.4,264L701.6,264.4L701.6,265.4L696.3,264.9ZM701.4,264.4L706.6,264.8L706.5,266L701.3,265.4ZM686.4,263.8L691.6,264.3L691.5,265L686.3,264.3ZM681.4,263.6L686.6,264.3L686.5,264.8L681.3,264ZM686.3,264.2L691.5,264.9L691.4,265.6L686.3,264.8ZM691.3,264.9L696.5,265.6L696.4,266.4L691.2,265.6ZM696.3,265.5L701.5,266.2L701.3,267.2L696.1,266.4ZM701.2,266.2L706.4,266.9L706.3,268L701.1,267.2ZM706.2,266.8L711.4,267.5L711.2,268.8L706,268ZM711.1,267.5L716.3,268.1L716.1,269.6L710.9,268.8ZM716.1,268.1L721.3,268.8L721.1,270.4L715.9,269.5ZM721.1,268.8L726.3,269.4L726,271.2L720.8,270.3ZM726,269.4L731.2,270.1L730.9,272L725.8,271.1ZM735.9,270.7L741.1,271.4L740.8,273.5L735.6,272.7ZM691.1,266.1L696.3,267.1L696.1,267.9L691,266.8ZM681.1,265L686.2,266.3L686.1,266.8L681,265.4ZM690.8,267.4L696,268.6L695.7,269.4L690.7,268.1ZM695.7,268.5L700.8,269.7L700.6,270.7L695.5,269.4ZM700.6,269.7L705.7,270.9L705.4,272L700.3,270.7ZM710.3,272L715.4,273.2L715,274.6L710,273.3ZM720,274.3L725.1,275.5L724.7,277.2L719.6,275.9ZM724.9,275.5L730,276.7L729.5,278.5L724.5,277.2ZM699.9,272.3L704.9,273.9L704.5,275L699.5,273.2ZM723.6,279.9L728.6,281.5L728,283.4L723.1,281.6ZM680.6,266.8L685.5,268.7L685.3,269.2L680.4,267.2ZM694.6,272.1L699.5,274L699.1,275L694.3,272.9ZM703.9,275.7L708.8,277.6L708.4,278.8L703.5,276.8ZM717.9,281.1L722.9,282.9L722.2,284.6L717.4,282.6ZM681.4,287.3L683.9,291.9L683,292.3L680.6,287.7ZM688.6,300.4L691.1,305L689.8,305.7L687.4,301ZM673.9,274.3L676.3,278.9L675.8,279.2L673.5,274.4ZM685.3,296.5L687.7,301.2L686.5,301.8L684.2,297ZM673.2,274.6L675.4,279.4L674.8,279.6L672.8,274.7ZM677.3,283.7L679.4,288.5L678.6,288.8L676.6,284ZM683.4,297.4L685.6,302.2L684.4,302.7L682.4,297.9ZM685.5,302L687.6,306.8L686.3,307.3L684.3,302.5ZM689.5,311.1L691.7,315.9L690.1,316.6L688.1,311.7ZM691.6,315.7L693.7,320.4L692,321.2L690,316.3ZM695.7,324.8L697.8,329.6L695.8,330.4L693.8,325.6ZM676.7,284L678.7,288.8L677.9,289.1L676.1,284.2ZM680.6,293.2L682.6,298L681.5,298.5L679.6,293.6ZM684.4,302.4L686.4,307.3L685.1,307.8L683.2,302.9ZM688.3,311.7L690.3,316.5L688.6,317.2L686.8,312.2ZM690.2,316.3L692.2,321.1L690.4,321.8L688.5,316.9ZM692.1,320.9L694.1,325.7L692.2,326.5L690.3,321.6ZM694,325.5L696,330.3L694,331.2L692.1,326.3ZM674.3,279.5L676.2,284.4L675.6,284.7L673.8,279.7ZM683.3,302.8L685.2,307.7L683.9,308.3L682.1,303.3ZM685.1,307.5L687,312.4L685.5,313L683.8,308ZM690.5,321.5L692.4,326.4L690.5,327.1L688.8,322.2ZM692.3,326.2L694.2,331.1L692.2,331.8L690.4,326.9ZM694.1,330.8L696,335.7L693.8,336.6L692.1,331.6ZM695.9,335.5L697.5,339.6L695.2,340.5L693.7,336.3ZM673.9,279.7L675.6,284.6L675,284.9L673.3,279.9ZM675.6,284.4L677.3,289.4L676.5,289.6L674.9,284.6ZM677.2,289.1L679,294.1L678,294.4L676.4,289.4ZM678.9,293.8L680.7,298.8L679.6,299.2L678,294.2ZM680.6,298.5L682.3,303.5L681.1,303.9L679.5,298.9ZM682.3,303.3L684,308.2L682.6,308.7L681,303.7ZM685.6,312.7L687.4,317.6L685.7,318.2L684.1,313.2ZM689,322.1L690.7,327L688.8,327.7L687.2,322.7ZM671.8,275.1L673.5,280.1L672.9,280.3L671.5,275.2ZM678.1,294.1L679.7,299.1L678.6,299.5L677.1,294.4ZM681.2,303.6L682.8,308.6L681.4,309L679.9,304ZM682.7,308.4L684.4,313.4L682.8,313.8L681.3,308.8ZM687.4,322.6L689,327.6L687.1,328.2L685.6,323.2Z"/>
<path fill="#ff8c10" d="M696.5,260.2L701.7,259.9L701.7,261L696.5,261.1ZM701.5,260L706.7,259.7L706.7,260.8L701.5,261ZM736.4,258.1L741.6,257.8L741.7,260L736.5,260.1ZM741.4,257.8L743.1,257.7L743.2,259.9L741.5,260ZM681.5,261.4L686.7,261.3L686.7,261.8L681.5,261.8ZM686.5,261.3L691.7,261.1L691.7,261.8L686.5,261.8ZM691.5,261.1L696.7,261L696.7,261.9L691.5,261.8ZM696.5,261L701.7,260.8L701.7,261.9L696.5,261.9ZM706.5,260.7L711.7,260.6L711.7,261.9L706.5,261.9ZM716.5,260.4L721.7,260.3L721.7,261.9L716.5,261.9ZM726.5,260.2L731.7,260L731.7,261.9L726.5,261.9ZM736.5,259.9L739.9,259.8L739.9,261.9L736.5,261.9ZM681.5,262.5L686.7,262.8L686.7,263.3L681.5,262.9ZM706.5,263.8L711.7,264L711.6,265.3L706.4,264.9ZM731.4,265L736.7,265.3L736.5,267.4L731.3,266.9ZM736.4,265.3L741.7,265.6L741.5,267.8L736.3,267.3ZM681.5,262.9L686.7,263.3L686.6,263.8L681.4,263.3ZM686.4,263.3L691.7,263.7L691.6,264.4L686.4,263.8ZM706.4,264.8L711.6,265.2L711.5,266.5L706.3,265.9ZM711.4,265.2L716.6,265.6L716.5,267L711.3,266.5ZM716.4,265.6L721.6,266L721.4,267.6L716.2,267ZM721.3,265.9L726.6,266.3L726.4,268.1L721.2,267.5ZM726.3,266.3L731.6,266.7L731.4,268.6L726.2,268.1ZM681.4,263.2L686.6,263.8L686.6,264.3L681.4,263.7ZM691.4,264.3L696.6,264.8L696.5,265.7L691.3,265ZM696.3,264.8L701.6,265.3L701.4,266.3L696.2,265.6ZM701.3,265.3L706.5,265.8L706.4,267L701.2,266.3ZM706.3,265.8L711.5,266.3L711.4,267.7L706.2,267ZM711.3,266.3L716.5,266.9L716.3,268.3L711.1,267.6ZM716.2,266.8L721.5,267.4L721.3,269L716.1,268.3ZM721.2,267.4L726.4,267.9L726.2,269.6L721,268.9ZM726.2,267.9L731.4,268.4L731.2,270.3L726,269.6ZM736.1,268.9L741.4,269.4L741.1,271.6L735.9,270.9ZM741.1,269.4L743.2,269.6L743,271.9L740.8,271.6ZM731,270L736.2,270.7L735.9,272.8L730.7,271.9ZM740.9,271.3L743,271.6L742.7,273.8L740.6,273.5ZM681.3,264L686.5,264.8L686.4,265.3L681.3,264.4ZM691.2,265.5L696.4,266.3L696.3,267.2L691.1,266.2ZM696.2,266.3L701.3,267.1L701.2,268.1L696,267.1ZM701.1,267.1L706.3,267.9L706.1,269L700.9,268.1ZM706,267.8L711.2,268.6L711,269.9L705.8,269ZM715.9,269.4L721.1,270.2L720.8,271.8L715.7,270.8ZM720.8,270.2L726,271L725.7,272.7L720.6,271.7ZM681.3,264.3L686.4,265.3L686.3,265.8L681.2,264.7ZM686.2,265.2L691.4,266.2L691.2,266.9L686.1,265.8ZM696,267L701.2,268L701,269L695.9,267.9ZM700.9,267.9L706.1,268.9L705.9,270L700.7,268.9ZM705.9,268.8L711,269.8L710.8,271.1L705.6,270ZM710.8,269.7L715.9,270.7L715.7,272.1L710.5,271ZM715.7,270.6L720.9,271.6L720.5,273.2L715.4,272.1ZM720.6,271.5L725.8,272.5L725.4,274.2L720.3,273.1ZM725.5,272.5L730.7,273.4L730.3,275.3L725.2,274.2ZM691,266.7L696.1,267.8L695.9,268.7L690.8,267.4ZM695.9,267.8L701,268.9L700.8,269.9L695.7,268.6ZM725.2,274L730.4,275L729.9,276.9L724.8,275.7ZM686,266.2L691.1,267.4L690.9,268.1L685.8,266.7ZM705.4,270.8L710.5,272.1L710.2,273.3L705.2,272ZM715.2,273.2L720.3,274.4L719.9,275.9L714.8,274.6ZM729.8,276.6L734.9,277.8L734.4,279.8L729.3,278.5ZM734.6,277.8L739.7,279L739.2,281.1L734.1,279.8ZM739.5,278.9L742.7,279.7L742.1,281.9L738.9,281.1ZM681,265.4L686.1,266.7L685.9,267.3L680.9,265.8ZM690.7,268L695.8,269.3L695.5,270.2L690.5,268.7ZM695.5,269.3L700.6,270.6L700.3,271.6L695.3,270.1ZM700.4,270.5L705.4,271.9L705.1,273L700.1,271.5ZM705.2,271.8L710.3,273.2L709.9,274.4L704.9,272.9ZM710,273.1L715.1,274.5L714.7,275.9L709.7,274.4ZM714.9,274.4L719.9,275.7L719.5,277.3L714.5,275.8ZM719.7,275.7L724.8,277L724.3,278.7L719.2,277.2ZM724.5,277L729.6,278.3L729.1,280.2L724,278.7ZM680.9,265.8L686,267.2L685.8,267.8L680.8,266.1ZM685.7,267.2L690.8,268.6L690.6,269.3L685.6,267.7ZM690.5,268.6L695.6,270.1L695.3,270.9L690.3,269.3ZM695.3,270L700.4,271.5L700.1,272.4L695.1,270.8ZM709.7,274.2L714.7,275.7L714.3,277.1L709.3,275.5ZM719.3,277L724.3,278.5L723.8,280.2L718.8,278.6ZM724.1,278.5L729.1,279.9L728.6,281.8L723.6,280.1ZM680.8,266.1L685.8,267.7L685.6,268.3L680.7,266.5ZM685.6,267.6L690.6,269.3L690.3,269.9L685.4,268.2ZM690.3,269.2L695.3,270.8L695.1,271.6L690.1,269.9ZM695.1,270.7L700.1,272.3L699.8,273.3L694.8,271.5ZM704.6,273.8L709.6,275.4L709.2,276.6L704.2,274.9ZM709.4,275.3L714.4,276.9L713.9,278.3L709,276.6ZM714.1,276.9L719.1,278.5L718.6,280L713.7,278.2ZM718.9,278.4L723.9,280L723.3,281.7L718.4,279.9ZM728.4,281.5L733.4,283.1L732.7,285L727.8,283.3ZM737.9,284.5L741,285.5L740.3,287.7L737.2,286.6ZM680.7,266.5L685.7,268.2L685.5,268.7L680.6,266.8ZM685.4,268.1L690.4,269.9L690.1,270.5L685.2,268.6ZM690.1,269.8L695.1,271.5L694.8,272.3L689.9,270.4ZM699.6,273.1L704.5,274.8L704.1,275.9L699.2,274ZM704.3,274.8L709.2,276.5L708.8,277.7L703.9,275.8ZM709,276.4L714,278.2L713.4,279.5L708.5,277.6ZM713.7,278.1L718.7,279.8L718.1,281.3L713.2,279.4ZM718.4,279.7L723.4,281.5L722.8,283.1L717.9,281.2ZM723.2,281.4L728.1,283.1L727.4,284.9L722.5,283ZM685.2,268.6L690.2,270.5L689.9,271.1L685,269.1ZM689.9,270.4L694.8,272.2L694.5,273L689.7,271ZM699.3,273.9L704.2,275.8L703.7,276.9L698.9,274.9ZM708.6,277.5L713.5,279.4L713,280.7L708.1,278.7ZM713.3,279.3L718.2,281.2L717.6,282.6L712.7,280.6ZM722.6,282.8L727.5,284.7L726.8,286.5L722,284.5ZM736.6,288.2L739.4,289.2L738.5,291.4L735.8,290.2ZM685.1,269L689.9,271L689.6,271.7L684.8,269.6ZM689.7,270.9L694.5,272.9L694.2,273.7L689.4,271.6ZM694.3,272.9L699.2,274.9L698.8,275.8L694,273.6ZM698.9,274.8L703.8,276.8L703.3,277.8L698.5,275.7ZM708.2,278.6L713,280.6L712.5,281.9L707.7,279.8ZM717.4,282.4L722.3,284.4L721.6,286L716.8,283.8ZM722,284.3L726.9,286.3L726.1,288L721.4,285.9ZM684.9,269.5L689.7,271.6L689.4,272.3L684.6,270ZM698.6,275.6L703.4,277.7L702.9,278.8L698.2,276.5ZM703.2,277.6L708,279.7L707.4,280.9L702.7,278.7ZM707.7,279.6L712.5,281.8L711.9,283.1L707.2,280.8ZM712.3,281.7L717.1,283.8L716.4,285.2L711.7,283ZM721.4,285.7L726.2,287.8L725.4,289.6L720.7,287.3ZM680.1,267.8L684.9,270.1L684.6,270.6L680,268.2ZM684.7,269.9L689.4,272.2L689.1,272.8L684.4,270.5ZM693.7,274.2L698.4,276.5L698,277.4L693.3,275ZM707.2,280.7L712,282.9L711.3,284.2L706.7,281.8ZM711.8,282.8L716.5,285.1L715.8,286.5L711.1,284.1ZM716.3,285L721,287.2L720.2,288.8L715.6,286.4ZM720.8,287.1L725.5,289.4L724.7,291.1L720,288.7ZM680,268.1L684.7,270.5L684.4,271L679.8,268.5ZM684.4,270.4L689.1,272.8L688.8,273.4L684.2,270.9ZM688.9,272.7L693.6,275L693.2,275.8L688.6,273.3ZM706.7,281.7L711.4,284.1L710.7,285.4L706.1,282.9ZM711.2,284L715.9,286.3L715.1,287.8L710.5,285.3ZM715.7,286.2L720.3,288.6L719.5,290.2L714.9,287.6ZM720.1,288.5L724.8,290.9L723.9,292.6L719.3,290ZM693,275.6L697.6,278.1L697.1,279L692.6,276.3ZM710.6,285.1L715.2,287.6L714.4,289L709.9,286.4ZM679.3,269.4L683.7,272.3L683.3,272.7L679,269.7ZM695,281.7L699.3,284.8L698.6,285.7L694.4,282.5ZM677.9,271.1L681.8,274.7L681.4,275.1L677.6,271.5ZM704,294.5L707.9,298L706.8,299.2L703,295.6ZM677.2,271.9L680.8,275.7L680.4,276.1L676.8,272.2ZM711.1,321.6L714.2,325.8L712.3,327.2L709.3,322.9ZM714,325.6L715,326.9L713,328.3L712.1,327ZM674.8,273.7L677.6,278.2L677.1,278.5L674.5,273.9ZM701,316.3L703.8,320.8L702,321.8L699.4,317.3ZM708.9,329.1L710,330.9L707.9,332.1L706.9,330.3ZM674.2,274.1L676.7,278.7L676.2,279L673.8,274.3ZM676.6,278.5L679.1,283.1L678.5,283.4L676.1,278.7ZM679,282.9L681.5,287.5L680.7,287.9L678.4,283.2ZM683.8,291.7L686.3,296.3L685.3,296.8L682.9,292.1ZM686.2,296L688.7,300.7L687.5,301.3L685.1,296.6ZM691,304.8L693.5,309.4L692,310.2L689.7,305.5ZM693.3,309.2L695.9,313.8L694.3,314.6L691.9,310ZM695.7,313.6L698.3,318.2L696.6,319.1L694.2,314.4ZM698.1,318L700.6,322.6L698.8,323.6L696.5,318.9ZM700.5,322.4L703,327L701.1,328L698.7,323.3ZM702.9,326.8L705.4,331.4L703.4,332.5L701,327.8ZM705.3,331.2L706.6,333.6L704.5,334.7L703.2,332.3ZM676.2,278.7L678.5,283.4L677.9,283.7L675.6,279ZM678.4,283.2L680.8,287.8L680,288.2L677.8,283.5ZM680.7,287.6L683.1,292.3L682.2,292.7L679.9,288ZM683,292.1L685.4,296.7L684.3,297.3L682.1,292.5ZM687.5,301L689.9,305.6L688.6,306.3L686.4,301.5ZM689.8,305.4L692.2,310.1L690.8,310.8L688.5,306.1ZM692.1,309.9L694.5,314.5L692.9,315.3L690.7,310.6ZM694.4,314.3L696.8,319L695.1,319.8L692.8,315.1ZM696.7,318.8L699,323.4L697.2,324.4L695,319.6ZM698.9,323.2L701.3,327.9L699.3,328.9L697.1,324.1ZM701.2,327.7L703.6,332.3L701.5,333.4L699.2,328.6ZM703.5,332.1L705.9,336.8L703.6,337.9L701.4,333.2ZM705.8,336.6L706.3,337.6L704,338.7L703.5,337.7ZM675.7,278.9L678,283.7L677.3,284L675.2,279.2ZM680,288L682.3,292.7L681.4,293.1L679.2,288.3ZM686.5,301.5L688.8,306.2L687.5,306.8L685.3,302ZM693,315L695.3,319.7L693.5,320.5L691.4,315.7ZM695.2,319.5L697.4,324.3L695.6,325.1L693.4,320.3ZM697.3,324L699.6,328.8L697.6,329.7L695.5,324.9ZM675.3,279.1L677.4,283.9L676.7,284.2L674.7,279.4ZM679.3,288.3L681.5,293.1L680.6,293.5L678.6,288.6ZM681.4,292.8L683.5,297.6L682.5,298.1L680.5,293.2ZM687.5,306.5L689.7,311.3L688.2,312L686.2,307.1ZM693.6,320.2L695.8,325L693.9,325.8L691.9,321ZM697.7,329.3L698.8,331.8L696.7,332.7L695.7,330.2ZM672.9,274.7L674.9,279.6L674.4,279.8L672.5,274.9ZM674.8,279.3L676.8,284.2L676.2,284.5L674.3,279.5ZM678.6,288.6L680.7,293.4L679.7,293.8L677.8,288.9ZM682.5,297.8L684.5,302.7L683.3,303.1L681.4,298.2ZM686.3,307L688.3,311.9L686.9,312.5L685,307.6ZM695.9,330.1L698,335L695.8,335.8L693.9,330.9ZM697.9,334.7L699.2,337.9L696.9,338.8L695.7,335.6ZM672.5,274.9L674.4,279.8L673.9,280L672.2,275ZM676.1,284.2L678,289.1L677.2,289.4L675.5,284.4ZM677.9,288.9L679.8,293.8L678.9,294.1L677.1,289.2ZM679.7,293.5L681.6,298.4L680.5,298.8L678.8,293.9ZM681.5,298.2L683.4,303.1L682.2,303.5L680.5,298.6ZM686.9,312.2L688.8,317.1L687.2,317.7L685.4,312.7ZM688.7,316.8L690.6,321.7L688.8,322.4L687.1,317.5Z"/>
<path fill="#ffa018" d="M731.5,260L736.7,259.9L736.7,261.9L731.5,261.9ZM731.3,266.7L736.5,267.1L736.4,269.2L731.1,268.6ZM736.3,267.1L741.5,267.5L741.3,269.7L736.1,269.1ZM741.3,267.5L742.6,267.6L742.4,269.8L741.1,269.7ZM731.2,268.4L736.4,268.9L736.1,271L730.9,270.3ZM686.3,264.7L691.5,265.6L691.3,266.3L686.2,265.3ZM711,268.6L716.2,269.4L715.9,270.9L710.7,269.9ZM725.8,270.9L731,271.7L730.7,273.6L725.5,272.7ZM730.7,271.7L735.9,272.5L735.6,274.5L730.4,273.6ZM735.7,272.5L740.9,273.3L740.5,275.5L735.3,274.5ZM740.6,273.2L741.9,273.4L741.5,275.6L740.2,275.4ZM730.4,273.4L735.6,274.3L735.2,276.3L730.1,275.2ZM735.4,274.3L740.5,275.2L740.1,277.4L735,276.3ZM740.3,275.2L742.2,275.5L741.8,277.7L739.9,277.3ZM681.2,264.7L686.3,265.8L686.2,266.3L681.1,265.1ZM686.1,265.7L691.2,266.8L691.1,267.5L686,266.3ZM700.8,268.8L705.9,269.9L705.6,271L700.5,269.8ZM705.7,269.8L710.8,270.9L710.5,272.2L705.4,271ZM710.6,270.9L715.7,272L715.4,273.4L710.3,272.1ZM715.4,271.9L720.6,273L720.2,274.6L715.1,273.3ZM720.3,272.9L725.5,274L725.1,275.7L720,274.5ZM730.1,275L735.3,276.1L734.8,278.1L729.7,276.8ZM735,276L740.2,277.1L739.7,279.3L734.6,278ZM739.9,277.1L741.7,277.4L741.2,279.6L739.4,279.2ZM685.9,266.7L690.9,268L690.7,268.7L685.7,267.2ZM729.3,278.3L734.4,279.6L733.9,281.6L728.8,280.1ZM734.2,279.5L739.3,280.9L738.7,283L733.6,281.5ZM739,280.8L739.9,281.1L739.3,283.2L738.4,282.9ZM700.1,271.4L705.2,272.9L704.8,274L699.8,272.4ZM704.9,272.8L709.9,274.3L709.6,275.5L704.6,273.9ZM714.5,275.6L719.5,277.1L719.1,278.7L714.1,277ZM733.7,281.3L738.7,282.8L738.1,284.9L733.1,283.2ZM733.2,283L738.2,284.6L737.4,286.7L732.5,284.9ZM694.9,271.4L699.8,273.2L699.5,274.1L694.6,272.2ZM727.9,283.1L732.8,284.8L732.1,286.7L727.2,284.8ZM732.6,284.7L737.5,286.5L736.8,288.5L731.9,286.6ZM737.3,286.4L739.6,287.2L738.8,289.3L736.5,288.4ZM727.3,284.6L732.2,286.5L731.4,288.4L726.6,286.4ZM732,286.4L736.9,288.3L736,290.3L731.2,288.3ZM680.4,267.1L685.3,269.1L685.1,269.7L680.3,267.5ZM703.6,276.7L708.4,278.7L707.9,279.9L703.1,277.7ZM712.8,280.5L717.7,282.5L717,284L712.2,281.8ZM726.7,286.2L731.5,288.2L730.7,290.1L725.9,287.9ZM731.3,288.1L736.1,290.1L735.3,292.1L730.5,290ZM735.9,290L739.2,291.3L738.3,293.5L735,292ZM680.3,267.5L685.1,269.6L684.9,270.1L680.1,267.8ZM689.4,271.5L694.2,273.7L693.9,274.4L689.1,272.2ZM694,273.5L698.8,275.7L698.4,276.6L693.7,274.3ZM716.9,283.7L721.7,285.8L720.9,287.4L716.2,285.1ZM730.6,289.8L735.4,291.9L734.5,293.9L729.7,291.6ZM735.2,291.8L740,293.9L739,296L734.2,293.8ZM739.7,293.8L744.5,295.9L743.5,298.2L738.7,295.9ZM744.3,295.8L744.6,296L743.6,298.3L743.3,298.1ZM689.2,272.1L693.9,274.3L693.5,275.1L688.9,272.7ZM698.2,276.4L703,278.6L702.4,279.7L697.8,277.3ZM702.7,278.5L707.5,280.8L706.9,282L702.2,279.6ZM725.3,289.3L730.1,291.5L729.1,293.3L724.5,291ZM729.8,291.4L734.6,293.6L733.6,295.6L728.9,293.2ZM734.3,293.5L735.5,294.1L734.5,296.1L733.4,295.5ZM693.4,274.9L698,277.3L697.6,278.2L693,275.7ZM697.8,277.2L702.5,279.6L702,280.6L697.4,278.1ZM702.3,279.4L707,281.8L706.4,283L701.7,280.5ZM724.6,290.8L729.3,293.1L728.3,294.9L723.7,292.4ZM729,293L733.7,295.4L732.7,297.3L728.1,294.8ZM733.5,295.3L738.2,297.7L737.1,299.7L732.5,297.2ZM738,297.5L742.6,299.9L741.5,302.1L736.9,299.6ZM742.4,299.8L746,301.6L744.8,304L741.3,302ZM679.8,268.5L684.4,271L684.2,271.5L679.6,268.8ZM684.2,270.8L688.8,273.3L688.5,274L683.9,271.3ZM688.6,273.2L693.2,275.7L692.8,276.5L688.3,273.8ZM697.4,278L702,280.5L701.5,281.5L696.9,278.9ZM701.8,280.3L706.4,282.8L705.8,284L701.2,281.4ZM706.2,282.7L710.8,285.2L710.1,286.5L705.6,283.9ZM715,287.5L719.6,290L718.8,291.5L714.2,288.9ZM719.4,289.9L724,292.4L723.1,294L718.5,291.4ZM723.8,292.2L728.4,294.7L727.4,296.5L722.9,293.9ZM728.2,294.6L732.8,297.1L731.7,299L727.2,296.4ZM732.6,297L737.2,299.5L736.1,301.5L731.5,298.9ZM679.6,268.8L684.2,271.4L683.9,271.9L679.4,269.1ZM692.6,276.3L697.2,278.9L696.7,279.7L692.2,277ZM697,278.7L701.5,281.4L700.9,282.4L696.5,279.6ZM718.6,291.2L723.2,293.8L722.2,295.5L717.8,292.7ZM679.4,269.1L683.9,271.8L683.6,272.3L679.2,269.4ZM683.7,271.7L688.2,274.4L687.8,275L683.4,272.2ZM700.8,282.1L705.3,284.9L704.6,286L700.2,283.1ZM717.9,292.5L722.3,295.3L721.3,296.9L716.9,294ZM722.1,295.1L726.6,297.9L725.5,299.6L721.1,296.8ZM683.5,272.1L687.9,275L687.5,275.6L683.1,272.6ZM696,280.3L700.5,283.1L699.8,284.1L695.5,281.1ZM708.6,288.4L713,291.3L712.2,292.6L707.8,289.6ZM717,293.8L721.4,296.7L720.4,298.3L716.1,295.3ZM721.2,296.6L725.6,299.4L724.5,301.1L720.2,298.1ZM733.8,304.7L734.9,305.4L733.5,307.4L732.5,306.7ZM679.1,269.7L683.4,272.7L683.1,273.1L678.8,270ZM683.2,272.5L687.5,275.5L687.1,276.1L682.9,273ZM695.6,281L699.9,284L699.2,284.9L695,281.8ZM707.9,289.5L712.3,292.4L711.3,293.8L707.1,290.7ZM716.2,295.1L720.5,298.1L719.4,299.7L715.2,296.6ZM678.8,270L683.1,273.1L682.8,273.5L678.6,270.3ZM682.9,272.9L687.1,276L686.7,276.6L682.6,273.4ZM699.1,284.7L703.3,287.7L702.6,288.8L698.4,285.6ZM703.1,287.6L707.4,290.7L706.5,291.8L702.4,288.6ZM715.3,296.4L719.5,299.5L718.4,301L714.2,297.8ZM719.3,299.3L723.6,302.4L722.4,304.1L718.2,300.8ZM727.4,305.2L731.7,308.3L730.3,310.2L726.1,307ZM678.6,270.3L682.8,273.5L682.4,273.9L678.4,270.6ZM694.5,282.5L698.7,285.6L698,286.6L693.9,283.2ZM702.5,288.5L706.6,291.7L705.7,292.9L701.6,289.5ZM706.4,291.6L710.6,294.8L709.6,296L705.5,292.7ZM714.4,297.6L718.5,300.8L717.4,302.3L713.3,299ZM726.3,306.7L730.5,309.9L729,311.8L724.9,308.5ZM678.2,270.9L682.2,274.3L681.8,274.7L677.9,271.2ZM693.4,283.8L697.4,287.2L696.6,288.1L692.7,284.6ZM708.6,296.8L712.6,300.2L711.5,301.5L707.6,298ZM681.6,274.5L685.5,278L685.1,278.5L681.3,274.9ZM689.1,281.2L693,284.7L692.3,285.4L688.5,281.8ZM703.1,295.5L706.9,299.1L705.8,300.2L702.1,296.5ZM677.4,271.7L681.1,275.4L680.7,275.8L677.1,272ZM681,275.2L684.7,278.9L684.2,279.4L680.6,275.6ZM705.8,299.9L709.5,303.6L708.2,304.8L704.6,301ZM712.8,307L716.6,310.7L715.1,312.1L711.5,308.3ZM716.4,310.5L720.1,314.2L718.5,315.7L714.9,311.9ZM723.5,317.6L727.2,321.3L725.4,323L721.8,319.2ZM680.6,275.6L684.2,279.4L683.7,279.8L680.2,275.9ZM704.7,300.9L708.4,304.7L707.1,305.9L703.6,302ZM711.6,308.1L715.3,311.9L713.7,313.3L710.2,309.4ZM715.1,311.8L718.7,315.6L717.1,317.1L713.6,313.2ZM718.5,315.4L720.8,317.7L719.1,319.3L716.9,316.9ZM676.6,272.4L680,276.4L679.6,276.8L676.3,272.7ZM679.9,276.2L683.3,280.2L682.7,280.7L679.4,276.6ZM683.1,280L686.5,284L685.9,284.6L682.6,280.5ZM709.1,310.4L712.6,314.4L711,315.7L707.7,311.6ZM712.4,314.2L715.8,318.2L714.1,319.6L710.8,315.5ZM715.7,318L719.1,322L717.3,323.5L714,319.4ZM722.2,325.6L724.9,328.7L722.8,330.4L720.2,327.2ZM691.3,292.7L694.5,296.9L693.4,297.6L690.4,293.4ZM709.6,316.5L712.8,320.6L711,321.9L708,317.7ZM675.7,273.1L678.8,277.4L678.4,277.7L675.4,273.4ZM678.7,277.2L681.8,281.4L681.2,281.8L678.2,277.5ZM681.6,281.2L684.7,285.4L684,285.9L681.1,281.6ZM684.6,285.2L687.7,289.5L686.9,290.1L683.9,285.7ZM693.4,297.4L696.5,301.6L695.3,302.4L692.4,298.1ZM699.3,305.4L702.4,309.7L701,310.7L698,306.4ZM705.2,313.5L708.3,317.8L706.6,318.9L703.7,314.6ZM708.2,317.6L711.2,321.8L709.4,323.1L706.5,318.7ZM701,310.4L704,314.7L702.4,315.7L699.5,311.3ZM675.1,273.5L678,277.9L677.5,278.2L674.8,273.7ZM680.6,281.9L683.5,286.3L682.7,286.8L680,282.3ZM683.3,286.1L686.2,290.5L685.3,291L682.6,286.6ZM686.1,290.3L688.9,294.7L687.9,295.3L685.2,290.8ZM688.8,294.5L691.7,298.9L690.6,299.6L687.8,295.1ZM707.9,323.8L710.8,328.2L708.8,329.4L706.1,325ZM677.5,278L680.2,282.5L679.6,282.8L677,278.3ZM687.9,295L690.7,299.5L689.6,300.2L686.9,295.6ZM690.6,299.3L693.3,303.7L692.1,304.5L689.4,299.9ZM698.4,312.1L701.2,316.5L699.5,317.5L696.9,312.9ZM703.7,320.6L706.4,325L704.5,326.2L701.9,321.6ZM706.3,324.8L709,329.3L707,330.5L704.4,326ZM674.5,273.9L677.2,278.5L676.7,278.7L674.2,274.1ZM692.1,304.2L694.7,308.7L693.3,309.5L690.8,304.9ZM702.1,321.5L704.7,326L702.8,327.1L700.3,322.5ZM704.6,325.8L707.2,330.4L705.2,331.5L702.7,326.9ZM673.5,274.4L675.8,279.2L675.3,279.4L673.2,274.6ZM677.9,283.4L680.1,288.2L679.4,288.5L677.2,283.7ZM682.2,292.5L684.5,297.2L683.4,297.7L681.3,292.9ZM684.4,297L686.6,301.7L685.4,302.3L683.3,297.5ZM688.7,306L690.9,310.7L689.5,311.4L687.4,306.6ZM690.8,310.5L693.1,315.2L691.5,316L689.4,311.2ZM699.5,328.5L701.7,333.3L699.6,334.3L697.5,329.5ZM701.6,333L702.8,335.6L700.6,336.6L699.5,334Z"/>
<path fill="#ffb828" d="M728.9,279.9L733.9,281.4L733.3,283.3L728.3,281.7ZM738.5,282.7L739.4,283L738.7,285.1L737.8,284.8ZM726,287.7L730.8,289.9L730,291.7L725.2,289.5ZM737,299.4L739.8,300.9L738.6,303L735.8,301.4ZM684,271.3L688.5,273.9L688.2,274.5L683.7,271.8ZM701.3,281.2L705.9,283.9L705.2,285L700.7,282.2ZM705.6,283.7L710.2,286.4L709.4,287.6L705,284.9ZM723,293.7L727.5,296.3L726.5,298.1L722,295.3ZM727.3,296.2L731.9,298.8L730.7,300.7L726.3,298ZM731.7,298.7L736.2,301.3L735,303.3L730.5,300.6ZM736,301.2L736.4,301.4L735.2,303.4L734.8,303.2ZM688,274.3L692.5,277L692,277.8L687.6,274.9ZM692.3,276.9L696.7,279.6L696.2,280.5L691.8,277.6ZM696.5,279.5L701,282.2L700.4,283.2L696,280.4ZM705.1,284.7L709.5,287.5L708.8,288.7L704.4,285.8ZM709.3,287.3L713.8,290.1L712.9,291.4L708.5,288.6ZM726.4,297.7L730.9,300.5L729.7,302.3L725.3,299.5ZM730.7,300.4L735.1,303.1L733.9,305.1L729.5,302.2ZM734.9,303L737.3,304.4L736,306.5L733.7,304.9ZM687.7,274.8L692.1,277.7L691.6,278.4L687.3,275.4ZM691.8,277.6L696.3,280.4L695.7,281.2L691.4,278.3ZM700.2,283L704.7,285.8L703.9,286.9L699.6,283.9ZM704.4,285.7L708.9,288.6L708,289.8L703.7,286.8ZM712.8,291.1L717.2,294L716.3,295.4L711.9,292.5ZM725.4,299.3L729.8,302.1L728.6,304L724.3,301ZM729.6,302L734,304.8L732.7,306.8L728.4,303.8ZM691.4,278.2L695.8,281.2L695.2,282L690.9,278.9ZM703.8,286.7L708.1,289.6L707.3,290.8L703.1,287.7ZM720.3,298L724.6,300.9L723.5,302.6L719.2,299.5ZM728.6,303.6L732.9,306.6L731.5,308.5L727.3,305.4ZM732.7,306.4L735.2,308.2L733.8,310.2L731.3,308.3ZM686.9,275.9L691.2,279L690.7,279.6L686.5,276.4ZM711.2,293.5L715.5,296.5L714.4,298L710.3,294.7ZM723.4,302.3L727.6,305.3L726.3,307.1L722.2,303.9ZM731.5,308.1L735.1,310.7L733.6,312.7L730.1,310ZM682.6,273.3L686.8,276.5L686.3,277.1L682.2,273.8ZM686.6,276.4L690.7,279.6L690.2,280.2L686.1,276.9ZM690.5,279.4L694.7,282.6L694.1,283.4L690,280.1ZM698.5,285.5L702.7,288.7L701.8,289.7L697.8,286.4ZM710.4,294.6L714.6,297.8L713.5,299.2L709.4,295.9ZM718.3,300.7L722.5,303.9L721.2,305.5L717.2,302.2ZM722.3,303.7L726.5,306.9L725.1,308.6L721,305.3ZM730.3,309.8L730.9,310.3L729.4,312.1L728.8,311.6ZM682.3,273.7L686.4,277L685.9,277.6L681.9,274.2ZM690.1,280L694.2,283.3L693.5,284.1L689.5,280.7ZM694,283.2L698,286.4L697.3,287.3L693.3,283.9ZM705.6,292.6L709.7,295.9L708.7,297.1L704.7,293.7ZM717.3,302L721.4,305.3L720.1,306.9L716.1,303.4ZM682,274.1L686,277.5L685.5,278.1L681.6,274.5ZM712.4,300L716.4,303.4L715.2,304.9L711.3,301.4ZM716.2,303.3L720.2,306.7L718.9,308.2L715,304.7ZM720,306.5L724,309.9L722.6,311.6L718.7,308.1ZM727.7,313L729.7,314.7L728.1,316.5L726.1,314.8ZM685.4,277.8L689.3,281.3L688.7,282L684.9,278.4ZM692.8,284.5L696.7,288L695.9,288.9L692.1,285.2ZM696.5,287.8L700.4,291.4L699.5,292.3L695.7,288.7ZM700.2,291.2L704.2,294.7L703.2,295.8L699.4,292.1ZM707.7,297.9L711.6,301.4L710.4,302.7L706.6,299ZM711.4,301.2L715.3,304.7L714,306.1L710.2,302.5ZM715.1,304.5L719,308L717.6,309.6L713.8,305.9ZM718.9,307.9L722.8,311.4L721.3,313L717.5,309.4ZM722.6,311.2L726.5,314.7L724.9,316.5L721.1,312.8ZM726.3,314.6L730.2,318.1L728.5,319.9L724.7,316.3ZM730,317.9L730.3,318.1L728.6,320L728.3,319.7ZM677.7,271.4L681.5,275L681.1,275.4L677.4,271.7ZM681.3,274.9L685.1,278.5L684.6,279L680.9,275.3ZM688.6,281.7L692.4,285.3L691.7,286.1L688,282.3ZM699.5,292L703.3,295.6L702.3,296.7L698.6,293ZM721.3,312.6L725.1,316.3L723.4,317.9L719.7,314.2ZM724.9,316.1L728.7,319.7L727,321.5L723.3,317.8ZM728.5,319.5L729.9,320.8L728.2,322.7L726.8,321.3ZM684.5,278.7L688.2,282.4L687.6,283.1L684,279.2ZM688,282.3L691.8,286L691,286.7L687.4,282.9ZM698.7,292.9L702.4,296.6L701.3,297.6L697.7,293.8ZM719.9,314L723.6,317.7L722,319.4L718.3,315.6ZM727,321.1L728.2,322.3L726.4,324.1L725.2,322.8ZM684.1,279.2L687.7,283L687,283.6L683.5,279.7ZM687.5,282.8L691.1,286.6L690.4,287.3L686.9,283.4ZM690.9,286.4L694.6,290.2L693.7,291L690.2,287.1ZM694.4,290L698,293.8L697.1,294.7L693.5,290.8ZM697.8,293.7L701.5,297.5L700.4,298.5L696.9,294.5ZM708.2,304.5L711.8,308.3L710.4,309.6L706.9,305.7ZM690.3,287L693.8,290.9L692.9,291.7L689.5,287.7ZM703.7,301.9L707.2,305.8L705.9,306.9L702.5,302.9ZM707.1,305.6L710.6,309.5L709.1,310.7L705.7,306.7ZM710.4,309.3L713.9,313.2L712.4,314.5L709,310.5ZM713.8,313L717.3,316.9L715.6,318.3L712.2,314.3ZM717.1,316.7L720.6,320.6L718.9,322.2L715.5,318.2ZM720.5,320.4L723.9,324.3L722.1,325.9L718.7,322ZM692.9,291.4L696.3,295.4L695.3,296.2L692,292.2ZM696.1,295.2L699.6,299.2L698.4,300.1L695.1,296ZM699.4,299L702.8,303L701.6,304L698.3,299.9ZM705.9,306.6L709.3,310.6L707.8,311.8L704.5,307.7ZM718.9,321.8L722.3,325.8L720.4,327.4L717.1,323.3ZM679.5,276.5L682.8,280.6L682.2,281.1L679,276.9ZM695.2,295.9L698.6,300L697.4,300.9L694.2,296.8ZM701.6,303.7L704.9,307.8L703.5,308.9L700.3,304.7ZM714.2,319.2L717.5,323.3L715.6,324.8L712.4,320.6ZM717.3,323.1L720.6,327.2L718.7,328.7L715.5,324.6ZM720.5,327L721.9,328.8L719.9,330.3L718.5,328.5ZM676,272.9L679.2,277.1L678.8,277.4L675.7,273.1ZM679.1,276.9L682.3,281L681.7,281.4L678.6,277.2ZM703.5,308.5L706.7,312.7L705.2,313.8L702.1,309.6ZM706.5,312.5L709.8,316.7L708.1,317.9L705,313.6ZM712.7,320.4L715.9,324.6L714,326L710.9,321.7ZM715.7,324.4L718.9,328.6L716.9,330L713.8,325.8ZM718.8,328.4L718.9,328.6L716.9,330L716.8,329.8ZM687.5,289.3L690.6,293.5L689.7,294.2L686.7,289.9ZM702.3,309.5L705.4,313.7L703.8,314.8L700.8,310.5ZM675.4,273.3L678.4,277.6L678,278L675.1,273.6ZM678.3,277.4L681.3,281.8L680.7,282.2L677.8,277.8ZM686.8,289.8L689.8,294.1L688.8,294.8L686,290.3ZM689.6,293.9L692.6,298.2L691.5,299L688.7,294.5ZM695.3,302.1L698.3,306.5L697,307.3L694.1,302.9ZM703.8,314.5L706.8,318.8L705.1,319.9L702.3,315.5ZM709.5,322.7L712.5,327L710.5,328.3L707.7,323.9ZM712.4,326.8L714.9,330.5L712.8,331.9L710.4,328.1ZM677.9,277.7L680.7,282.1L680.1,282.5L677.4,278ZM691.5,298.7L694.4,303.1L693.2,303.8L690.4,299.4ZM694.3,302.8L697.1,307.2L695.8,308.1L693,303.6ZM699.7,311.2L702.6,315.6L701,316.6L698.2,312.2ZM702.5,315.4L705.3,319.8L703.6,320.9L700.8,316.4ZM705.2,319.6L708,324L706.2,325.2L703.4,320.7ZM710.6,328L712.4,330.7L710.4,332L708.7,329.2ZM680.1,282.2L682.8,286.7L682.1,287.2L679.5,282.6ZM682.7,286.5L685.4,291L684.6,291.5L682,286.9ZM685.3,290.8L688.1,295.2L687.1,295.8L684.4,291.3ZM693.2,303.5L695.9,308L694.5,308.8L691.9,304.3ZM695.8,307.8L698.5,312.3L697,313.2L694.4,308.6ZM677,278.2L679.7,282.8L679,283.1L676.5,278.5ZM684.6,291.2L687.2,295.8L686.2,296.3L683.7,291.7ZM687.1,295.5L689.7,300.1L688.5,300.7L686,296.1ZM699.6,317.2L702.2,321.7L700.4,322.7L697.9,318.1ZM707.1,330.1L707.4,330.6L705.3,331.7L705.1,331.3Z"/>
<path fill="#ffc830" d="M688.3,273.8L692.9,276.4L692.4,277.1L687.9,274.4ZM710,286.2L714.5,288.8L713.7,290.2L709.2,287.5ZM714.3,288.7L718.9,291.3L718,292.8L713.5,290.1ZM713.6,289.9L718.1,292.7L717.1,294.2L712.7,291.3ZM687.3,275.4L691.6,278.3L691.1,279L686.9,275.9ZM699.7,283.8L704,286.8L703.3,287.9L699,284.8ZM712.1,292.3L716.4,295.3L715.4,296.7L711.1,293.6ZM724.4,300.8L728.8,303.7L727.5,305.5L723.3,302.5ZM691,278.8L695.2,281.9L694.6,282.7L690.5,279.5ZM707.2,290.5L711.4,293.6L710.5,294.9L706.3,291.7ZM678.4,270.6L682.5,273.9L682.1,274.3L678.1,270.9ZM709.5,295.7L713.6,299L712.5,300.4L708.5,296.9ZM721.2,305.1L725.3,308.4L723.9,310.1L719.9,306.7ZM725.1,308.3L729.2,311.6L727.7,313.4L723.7,310ZM729,311.4L730.9,313L729.4,314.8L727.5,313.2ZM685.8,277.4L689.8,280.8L689.2,281.4L685.3,277.9ZM689.6,280.6L693.6,284L692.9,284.8L689,281.2ZM697.2,287.1L701.2,290.5L700.3,291.5L696.4,287.9ZM701,290.3L705,293.7L704,294.8L700.1,291.3ZM704.8,293.6L708.8,297L707.8,298.2L703.9,294.7ZM723.9,309.8L727.9,313.2L726.3,314.9L722.4,311.4ZM684.9,278.3L688.8,281.9L688.1,282.5L684.4,278.8ZM692.2,285.2L696,288.8L695.2,289.6L691.5,285.9ZM695.8,288.6L699.7,292.2L698.7,293.1L695,289.4ZM706.7,298.9L710.5,302.5L709.3,303.8L705.6,300.1ZM710.4,302.3L714.2,305.9L712.9,307.3L709.1,303.6ZM714,305.8L717.8,309.4L716.4,310.9L712.7,307.1ZM717.6,309.2L721.4,312.8L719.9,314.4L716.2,310.7ZM691.6,285.8L695.3,289.5L694.5,290.3L690.9,286.5ZM695.1,289.3L698.8,293L697.9,294L694.3,290.1ZM702.2,296.4L705.9,300.1L704.8,301.2L701.2,297.4ZM709.3,303.4L713,307.2L711.6,308.5L708,304.7ZM701.3,297.3L704.9,301.1L703.7,302.2L700.2,298.3ZM676.9,272.2L680.4,276.1L680,276.5L676.6,272.5ZM680.2,275.9L683.8,279.8L683.2,280.3L679.8,276.3ZM683.6,279.6L687.1,283.5L686.5,284.1L683.1,280.1ZM693.6,290.7L697.2,294.6L696.2,295.5L692.8,291.5ZM700.4,298.2L703.9,302.1L702.7,303.1L699.3,299.1ZM686.4,283.8L689.8,287.8L689,288.5L685.7,284.4ZM689.6,287.6L693,291.6L692.1,292.3L688.9,288.3ZM702.6,302.8L706.1,306.8L704.7,307.9L701.4,303.8ZM676.3,272.7L679.6,276.7L679.2,277.1L676,272.9ZM682.6,280.4L685.9,284.5L685.3,285L682.1,280.9ZM685.8,284.3L689.1,288.4L688.3,289L685.1,284.8ZM692.1,292.1L695.4,296.1L694.4,297L691.2,292.8ZM707.9,311.5L711.2,315.5L709.6,316.8L706.4,312.6ZM711,315.3L714.3,319.4L712.6,320.8L709.4,316.6ZM682.1,280.8L685.3,285L684.7,285.5L681.6,281.2ZM685.2,284.8L688.4,288.9L687.6,289.5L684.5,285.3ZM688.2,288.7L691.4,292.9L690.5,293.6L687.4,289.3ZM694.3,296.7L697.5,300.8L696.4,301.7L693.3,297.4ZM697.4,300.6L700.6,304.8L699.3,305.7L696.2,301.5ZM700.4,304.6L703.7,308.7L702.2,309.8L699.2,305.5ZM690.5,293.3L693.6,297.6L692.5,298.3L689.5,294ZM696.4,301.4L699.5,305.6L698.1,306.6L695.2,302.2ZM681.1,281.6L684.1,285.9L683.4,286.4L680.5,282ZM684,285.7L686.9,290L686.1,290.6L683.3,286.1ZM692.5,298L695.5,302.3L694.3,303.2L691.4,298.7ZM706.7,318.6L709.7,322.9L707.8,324.1L705,319.7ZM697,307L699.9,311.4L698.4,312.4L695.6,307.9ZM679.5,282.6L682.2,287.1L681.4,287.5L678.9,282.9ZM682,286.9L684.7,291.4L683.8,291.9L681.3,287.3ZM694.6,308.5L697.2,313.1L695.7,313.9L693.2,309.3ZM697.1,312.8L699.7,317.4L698.1,318.3L695.6,313.7Z"/>
<path fill="#ffe040" d="M686.2,276.9L690.3,280.2L689.7,280.8L685.7,277.4ZM697.9,286.3L701.9,289.6L701.1,290.6L697.1,287.2ZM701.7,289.4L705.8,292.7L704.9,293.9L700.9,290.4ZM713.4,298.8L717.5,302.1L716.3,303.6L712.3,300.2ZM686.9,283.3L690.5,287.2L689.7,287.9L686.3,283.9ZM697,294.4L700.5,298.3L699.4,299.3L696,295.3ZM688.9,288.2L692.3,292.3L691.3,293L688.2,288.8ZM698.4,299.8L701.7,303.9L700.5,304.9L697.3,300.7ZM704.7,307.6L708,311.7L706.5,312.8L703.3,308.7ZM698.2,306.2L701.1,310.6L699.7,311.5L696.8,307.1ZM689.6,299.9L692.2,304.4L690.9,305.1L688.4,300.5Z"/>
</g>
<path fill="#000080" d="M700.5,196.5L706,195L707,203L703.5,209L699.5,205Z"/>
<path fill="#000080" d="M712.5,204.5L720,201.5L721.5,207L717,213L712,211Z"/>
<path fill="#000080" d="M719.5,212L724.5,210.5L727,219L723,222.5L719,217Z"/>
<path fill="#ff2000" d="M725,209.5L731,207L737,212L733,214L728,213Z"/>
<path fill="#ff2000" d="M733,212L738.5,213.5L736,215.5Z"/>
<path fill="#fff" d="M729.4,271.7h2.2v2.2h-2.2zM698.1,190h2.2v2.2h-2.2zM694.1,189h3.6v3.6h-3.6zM731.2,261.6h1.6v1.6h-1.6zM711.8,215.8h1.6v1.6h-1.6zM722.7,296.1h3.6v3.6h-3.6zM695.2,191.8h3v3h-3zM628.1,199.5h1.6v1.6h-1.6zM738.8,273.8h2.2v2.2h-2.2zM738.9,223.7h1.6v1.6h-1.6zM641.5,192.5h3v3h-3zM651.5,201.1h2.2v2.2h-2.2zM720,304.1h3v3h-3zM688,195.7h1.6v1.6h-1.6zM648.4,200.8h1.6v1.6h-1.6zM736.9,299.8h3v3h-3zM689.3,198.8h2.2v2.2h-2.2zM735.8,213.4h1.6v1.6h-1.6zM743.5,240.3h2.2v2.2h-2.2zM714.4,313.4h3v3h-3zM646.4,199.9h3v3h-3zM746.5,245h2.2v2.2h-2.2zM746.5,243.4h3v3h-3zM741.3,245.4h1.6v1.6h-1.6zM634.4,182.8h2.2v2.2h-2.2zM739.3,266.2h1.6v1.6h-1.6zM732.1,279.9h2.2v2.2h-2.2zM666,177.6h2.2v2.2h-2.2zM696.5,193.4h1.6v1.6h-1.6zM718.5,322.5h3v3h-3zM728.5,276.5h3.6v3.6h-3.6zM719.6,223.2h3.6v3.6h-3.6zM716.3,304.9h3.6v3.6h-3.6zM621.1,189.8h3.6v3.6h-3.6zM725.4,232.1h1.6v1.6h-1.6zM740.4,271.2h2.2v2.2h-2.2zM623.2,199.5h1.6v1.6h-1.6zM723.9,213h2.2v2.2h-2.2zM720.2,195.6h3.6v3.6h-3.6zM735.5,315.3h1.6v1.6h-1.6zM732.4,276.2h3v3h-3zM728.5,281.6h3v3h-3zM740.3,214.9h2.2v2.2h-2.2zM719.4,314.2h3v3h-3zM720.1,306.9h3v3h-3zM722.8,320h3.6v3.6h-3.6zM721.9,223.2h1.6v1.6h-1.6zM703.6,186.9h1.6v1.6h-1.6zM698.2,188.1h1.6v1.6h-1.6zM714.5,212.5h3.6v3.6h-3.6zM688.3,199.5h3v3h-3zM738.3,304.8h3v3h-3zM672.5,177.7h3v3h-3zM694.5,187.6h2.2v2.2h-2.2zM707.9,323.7h1.6v1.6h-1.6zM741.1,221.1h3v3h-3zM726,232.1h2.2v2.2h-2.2zM737.7,261.5h2.2v2.2h-2.2zM624.9,203.2h2.2v2.2h-2.2zM714.1,334.9h2.2v2.2h-2.2zM716.4,314.2h3.6v3.6h-3.6zM687,197.2h2.2v2.2h-2.2zM736.4,289.5h3v3h-3zM612.7,212.3h2.2v2.2h-2.2zM611.8,202.1h1.6v1.6h-1.6zM733.9,236.9h1.6v1.6h-1.6zM717.3,196.7h2.2v2.2h-2.2zM652.6,201.6h3v3h-3zM704.5,197.3h3.6v3.6h-3.6zM724.9,298.7h1.6v1.6h-1.6zM739.9,269.1h2.2v2.2h-2.2zM619,217.7h3v3h-3zM640.1,204.5h2.2v2.2h-2.2zM726.2,236h3.6v3.6h-3.6zM659.8,193.6h2.2v2.2h-2.2zM637.3,180.3h3v3h-3zM614,201.6h1.6v1.6h-1.6zM722.9,327.3h1.6v1.6h-1.6zM610.8,197.8h1.6v1.6h-1.6zM754.5,266h2.2v2.2h-2.2zM737.1,232h3v3h-3zM654.1,184h1.6v1.6h-1.6zM733.5,226.2h3v3h-3zM626.7,184.9h2.2v2.2h-2.2zM736.9,227.5h3v3h-3zM707.7,208.6h3v3h-3zM695.4,194.7h3v3h-3zM685,200.3h1.6v1.6h-1.6zM700.5,195.3h3v3h-3zM658.5,200.2h3.6v3.6h-3.6zM748.6,251.4h2.2v2.2h-2.2zM727.1,224.3h2.2v2.2h-2.2zM623.1,215.3h2.2v2.2h-2.2zM716.5,208.5h2.2v2.2h-2.2zM635.3,201.8h3v3h-3zM739.7,242.1h3v3h-3zM723.2,300.4h2.2v2.2h-2.2zM641.1,202.5h2.2v2.2h-2.2zM634.4,191.2h1.6v1.6h-1.6zM729.4,221.6h3v3h-3zM709.1,204h3.6v3.6h-3.6zM750.5,258.5h1.6v1.6h-1.6zM690.3,182.7h3.6v3.6h-3.6zM752.2,241.9h3v3h-3zM646.6,185.9h2.2v2.2h-2.2zM683.3,176.1h2.2v2.2h-2.2zM749.4,242.7h3v3h-3zM723.9,291.3h3.6v3.6h-3.6zM641,181.3h1.6v1.6h-1.6zM725.8,283.9h3.6v3.6h-3.6z"/>
<path fill="#f00800" d="M659,281.6h2.4v2.4h-2.4zM661.9,285.5h2.4v2.4h-2.4zM665,286.1h2.4v2.4h-2.4zM666.1,288.4h2.4v2.4h-2.4zM666.9,290.9h2.4v2.4h-2.4zM669.9,291.9h2.4v2.4h-2.4zM671.3,293.7h2.4v2.4h-2.4zM678,305.4h2.4v2.4h-2.4zM686.3,314.1h2.4v2.4h-2.4zM689.1,318h2.4v2.4h-2.4zM693.2,323.2h2.4v2.4h-2.4zM695.8,329.5h2.4v2.4h-2.4zM700.3,334.6h2.4v2.4h-2.4zM704.7,342.5h2.4v2.4h-2.4z"/>
<path fill="#000070" d="M656.7,282.9h3v3h-3zM658.1,284.9h2.2v2.2h-2.2zM661.2,285.6h2.6v2.6h-2.6zM661.3,288.6h2.6v2.6h-2.6zM662.6,290.7h2.6v2.6h-2.6zM664.9,292h3v3h-3zM665.8,294.3h3v3h-3zM668.5,295.2h2.2v2.2h-2.2zM668.2,298.1h2.6v2.6h-2.6zM670,299.6h3v3h-3zM672.4,300.7h2.2v2.2h-2.2zM672.4,303.5h3.4v3.4h-3.4zM674,305.1h2.6v2.6h-2.6zM676.5,306.1h3.4v3.4h-3.4zM677.8,308.1h3.4v3.4h-3.4zM678.3,310.8h2.6v2.6h-2.6zM679.8,312.7h3.4v3.4h-3.4zM682.5,313.5h2.6v2.6h-2.6zM683.9,315.5h3.4v3.4h-3.4zM685,317.6h3v3h-3zM687,318.9h2.2v2.2h-2.2zM687.1,321.5h3.4v3.4h-3.4zM687.8,323.7h2.6v2.6h-2.6zM688.8,325.7h3v3h-3zM691,326.9h3v3h-3zM691.8,329.1h3v3h-3zM693.5,330.7h3v3h-3zM695.6,331.9h2.2v2.2h-2.2zM696.6,334h2.6v2.6h-2.6zM696.7,336.7h3.4v3.4h-3.4zM698.2,338.4h3v3h-3zM700,339.8h3v3h-3zM702,341.1h2.2v2.2h-2.2zM702.7,343.4h2.2v2.2h-2.2zM704.3,345h3v3h-3z"/>
<path d="M660.1,258.7L610.5,237.5" stroke="#0838e8" stroke-width="1" stroke-dasharray="3 2 2 1.5 40"/>
<path d="M655.1,280L651.1,285.7" stroke="#f00800" stroke-width="1.6"/>
<clipPath id="cw"><path d="M503.5,273.4L509.6,272.5L510.1,279.5L508.7,288.3L510.5,296.2L515.8,305L513.1,308L507.9,305L503.5,298.8L501.7,291.8L503.5,281.3ZM524.5,303.2L532.4,302.7L535.1,308.5L535.9,312.9L528.9,317.3L525.2,319L528.9,314.6L530.7,309.4L527.2,306.7ZM503.5,327.8L508.7,326L517.5,329.5L521.9,333.9L524.5,340.1L519.3,343.6L517.5,339.2L514,335.7L508.7,331.3ZM527.2,337.4L533.3,337.4L539.4,348L535.1,349.7L530.7,348Z"/></clipPath><clipPath id="cc"><path d="M708,333.9L713.7,339.6L717,343L713.7,345.3L711.6,350L712,361.4L709.2,359L708.8,350L707.5,343ZM722.9,348.1L726.3,351.1L730.9,354.5L735.5,349.9L741.3,345.3L745.9,342.6L750.5,345.3L753.9,348.1L751.6,349.9L747,347.6L742.4,351.1L736.7,354.5L735.5,359.1L730.9,358L725.2,353.4Z"/></clipPath>
<path d="M503.5,273.4L509.6,272.5L510.1,279.5L508.7,288.3L510.5,296.2L515.8,305L513.1,308L507.9,305L503.5,298.8L501.7,291.8L503.5,281.3ZM524.5,303.2L532.4,302.7L535.1,308.5L535.9,312.9L528.9,317.3L525.2,319L528.9,314.6L530.7,309.4L527.2,306.7ZM503.5,327.8L508.7,326L517.5,329.5L521.9,333.9L524.5,340.1L519.3,343.6L517.5,339.2L514,335.7L508.7,331.3ZM527.2,337.4L533.3,337.4L539.4,348L535.1,349.7L530.7,348ZM708,333.9L713.7,339.6L717,343L713.7,345.3L711.6,350L712,361.4L709.2,359L708.8,350L707.5,343ZM722.9,348.1L726.3,351.1L730.9,354.5L735.5,349.9L741.3,345.3L745.9,342.6L750.5,345.3L753.9,348.1L751.6,349.9L747,347.6L742.4,351.1L736.7,354.5L735.5,359.1L730.9,358L725.2,353.4Z" fill="#000070"/>
<g clip-path="url(#cw)"><path d="M503.5,273.4L509.6,272.5L510.1,279.5L508.7,288.3L510.5,296.2L515.8,305L513.1,308L507.9,305L503.5,298.8L501.7,291.8L503.5,281.3ZM524.5,303.2L532.4,302.7L535.1,308.5L535.9,312.9L528.9,317.3L525.2,319L528.9,314.6L530.7,309.4L527.2,306.7ZM503.5,327.8L508.7,326L517.5,329.5L521.9,333.9L524.5,340.1L519.3,343.6L517.5,339.2L514,335.7L508.7,331.3ZM527.2,337.4L533.3,337.4L539.4,348L535.1,349.7L530.7,348Z" fill="#f00800" transform="translate(2.5,-0.9)"/></g>
<g clip-path="url(#cc)"><path d="M708,333.9L713.7,339.6L717,343L713.7,345.3L711.6,350L712,361.4L709.2,359L708.8,350L707.5,343ZM722.9,348.1L726.3,351.1L730.9,354.5L735.5,349.9L741.3,345.3L745.9,342.6L750.5,345.3L753.9,348.1L751.6,349.9L747,347.6L742.4,351.1L736.7,354.5L735.5,359.1L730.9,358L725.2,353.4Z" fill="#f00800" transform="translate(1.3,-1.7)"/></g>
<rect x="633" y="310.2" width="1.6" height="1.6" fill="#f00800"/>
<circle cx="667.5" cy="261.8" r="4.9" fill="#fff"/>
<path d="M480.5,179.2L490.8,179.2L492.5,177.5L493.3,174.2L495.8,173L500,175.5L505,178L509.2,181.7L513.3,180.3L521.7,177.5L530,173.7L538.3,168.8L548.3,162.5L548.7,155L551.7,154.2L552,149.7L554.5,147L552.5,144.7L549.2,145.8L547.5,143.3L545.8,141.7L549.2,139.7L550,136.7L552,134.7L575,133L575.5,145.8L580,146.3L584.2,145.3L584.7,139.2L583.3,135.8L586.7,133.3L589.5,131.3L590.8,134.2L595,135.8L599.2,135.8L604.2,138L607.5,139.2L611.7,137L618.3,137.5L620.8,138.7L625.8,143L630.8,143.3L635,140.8L640,141.7L645,137.5L650.8,136.3L656.7,132.5L660,135L664.2,131.7L660.8,129.2L668.3,125.8L672.5,125L677.5,122.5L675.8,125.8L679.2,128L682.5,124.2L684.2,116.7L691.7,116.7L693.3,120L697.5,119.7L696.7,122L700.8,123L702.5,131.7L704.7,133.3L704.2,138.3L700,138.7L698.8,136.7L696.2,137.5L699.2,145.8L705.8,144.2L705,140.8L707.5,140L711.7,145.3L715.8,143.3L713.3,137.5L715,136.7L716.7,140.8L726.3,135.8L723.3,129.2L715,133L709.2,129.2L715,125.8L708.7,109.7L720,104.5L729.2,123.3L734.2,122.5L734.7,126.7L728.3,129.2L730,132.5L740,127.5L735,116.7L737.5,115L740.8,120L745.8,116.7L743.3,112.5L741,114.5L742.5,110.8L733.2,102.5L739,96.3L753.5,107.5L759,101.9L757.5,99.8L752.5,102L741.8,90.5L742.2,85.8L745,81.5L750.8,79.5L757.5,81.3L772.5,85.3L773.7,75.5M520,75L514.2,81.7L511.7,85L512.5,95L515.3,97.5L518.7,105L522.5,110.5L529.2,111.3L534.2,108.3L537.5,109.2L542.5,105.8L544.2,100L548.3,97.5L550.8,90.8L555,89.7L553.3,84.2L554.2,80L552.8,75M507.5,86L509.3,84.8M669.2,113.7L670.8,116.7M767.5,75.3L768.7,79.2L771.7,76.7" fill="none" stroke="#000" stroke-width="1.55" stroke-linejoin="round"/>
</g>
<rect x="59" y="74.5" width="374.6" height="374.6" fill="none" stroke="#000" stroke-width="2.1"/>
<path d="M59,74.5v-14.3M59,449.1v14.3M59,74.5h-14.3M433.6,74.5h14.3M152.7,74.5v-14.3M152.7,449.1v14.3M59,168.2h-14.3M433.6,168.2h14.3M246.3,74.5v-14.3M246.3,449.1v14.3M59,261.8h-14.3M433.6,261.8h14.3M340,74.5v-14.3M340,449.1v14.3M59,355.5h-14.3M433.6,355.5h14.3M433.6,74.5v-14.3M433.6,449.1v14.3M59,449.1h-14.3M433.6,449.1h14.3" stroke="#000" stroke-width="2.1" fill="none"/>
<path d="M70.7,74.5v-7.3M70.7,449.1v7.3M59,86.2h-7.3M433.6,86.2h7.3M82.4,74.5v-7.3M82.4,449.1v7.3M59,97.9h-7.3M433.6,97.9h7.3M94.1,74.5v-7.3M94.1,449.1v7.3M59,109.6h-7.3M433.6,109.6h7.3M105.8,74.5v-7.3M105.8,449.1v7.3M59,121.3h-7.3M433.6,121.3h7.3M117.5,74.5v-7.3M117.5,449.1v7.3M59,133h-7.3M433.6,133h7.3M129.2,74.5v-7.3M129.2,449.1v7.3M59,144.7h-7.3M433.6,144.7h7.3M140.9,74.5v-7.3M140.9,449.1v7.3M59,156.4h-7.3M433.6,156.4h7.3M164.4,74.5v-7.3M164.4,449.1v7.3M59,179.9h-7.3M433.6,179.9h7.3M176.1,74.5v-7.3M176.1,449.1v7.3M59,191.6h-7.3M433.6,191.6h7.3M187.8,74.5v-7.3M187.8,449.1v7.3M59,203.3h-7.3M433.6,203.3h7.3M199.5,74.5v-7.3M199.5,449.1v7.3M59,215h-7.3M433.6,215h7.3M211.2,74.5v-7.3M211.2,449.1v7.3M59,226.7h-7.3M433.6,226.7h7.3M222.9,74.5v-7.3M222.9,449.1v7.3M59,238.4h-7.3M433.6,238.4h7.3M234.6,74.5v-7.3M234.6,449.1v7.3M59,250.1h-7.3M433.6,250.1h7.3M258,74.5v-7.3M258,449.1v7.3M59,273.5h-7.3M433.6,273.5h7.3M269.7,74.5v-7.3M269.7,449.1v7.3M59,285.2h-7.3M433.6,285.2h7.3M281.4,74.5v-7.3M281.4,449.1v7.3M59,296.9h-7.3M433.6,296.9h7.3M293.1,74.5v-7.3M293.1,449.1v7.3M59,308.6h-7.3M433.6,308.6h7.3M304.8,74.5v-7.3M304.8,449.1v7.3M59,320.3h-7.3M433.6,320.3h7.3M316.5,74.5v-7.3M316.5,449.1v7.3M59,332h-7.3M433.6,332h7.3M328.2,74.5v-7.3M328.2,449.1v7.3M59,343.7h-7.3M433.6,343.7h7.3M351.7,74.5v-7.3M351.7,449.1v7.3M59,367.2h-7.3M433.6,367.2h7.3M363.4,74.5v-7.3M363.4,449.1v7.3M59,378.9h-7.3M433.6,378.9h7.3M375.1,74.5v-7.3M375.1,449.1v7.3M59,390.6h-7.3M433.6,390.6h7.3M386.8,74.5v-7.3M386.8,449.1v7.3M59,402.3h-7.3M433.6,402.3h7.3M398.5,74.5v-7.3M398.5,449.1v7.3M59,414h-7.3M433.6,414h7.3M410.2,74.5v-7.3M410.2,449.1v7.3M59,425.7h-7.3M433.6,425.7h7.3M421.9,74.5v-7.3M421.9,449.1v7.3M59,437.4h-7.3M433.6,437.4h7.3" stroke="#000" stroke-width="1.3" fill="none"/>
<rect x="480.2" y="74.5" width="374.6" height="374.6" fill="none" stroke="#000" stroke-width="2.1"/>
<path d="M480.2,74.5v-14.3M480.2,449.1v14.3M480.2,74.5h-14.3M854.8,74.5h14.3M573.9,74.5v-14.3M573.9,449.1v14.3M480.2,168.2h-14.3M854.8,168.2h14.3M667.5,74.5v-14.3M667.5,449.1v14.3M480.2,261.8h-14.3M854.8,261.8h14.3M761.2,74.5v-14.3M761.2,449.1v14.3M480.2,355.5h-14.3M854.8,355.5h14.3M854.8,74.5v-14.3M854.8,449.1v14.3M480.2,449.1h-14.3M854.8,449.1h14.3" stroke="#000" stroke-width="2.1" fill="none"/>
<path d="M491.9,74.5v-7.3M491.9,449.1v7.3M480.2,86.2h-7.3M854.8,86.2h7.3M503.6,74.5v-7.3M503.6,449.1v7.3M480.2,97.9h-7.3M854.8,97.9h7.3M515.3,74.5v-7.3M515.3,449.1v7.3M480.2,109.6h-7.3M854.8,109.6h7.3M527,74.5v-7.3M527,449.1v7.3M480.2,121.3h-7.3M854.8,121.3h7.3M538.7,74.5v-7.3M538.7,449.1v7.3M480.2,133h-7.3M854.8,133h7.3M550.4,74.5v-7.3M550.4,449.1v7.3M480.2,144.7h-7.3M854.8,144.7h7.3M562.1,74.5v-7.3M562.1,449.1v7.3M480.2,156.4h-7.3M854.8,156.4h7.3M585.6,74.5v-7.3M585.6,449.1v7.3M480.2,179.9h-7.3M854.8,179.9h7.3M597.3,74.5v-7.3M597.3,449.1v7.3M480.2,191.6h-7.3M854.8,191.6h7.3M609,74.5v-7.3M609,449.1v7.3M480.2,203.3h-7.3M854.8,203.3h7.3M620.7,74.5v-7.3M620.7,449.1v7.3M480.2,215h-7.3M854.8,215h7.3M632.4,74.5v-7.3M632.4,449.1v7.3M480.2,226.7h-7.3M854.8,226.7h7.3M644.1,74.5v-7.3M644.1,449.1v7.3M480.2,238.4h-7.3M854.8,238.4h7.3M655.8,74.5v-7.3M655.8,449.1v7.3M480.2,250.1h-7.3M854.8,250.1h7.3M679.2,74.5v-7.3M679.2,449.1v7.3M480.2,273.5h-7.3M854.8,273.5h7.3M690.9,74.5v-7.3M690.9,449.1v7.3M480.2,285.2h-7.3M854.8,285.2h7.3M702.6,74.5v-7.3M702.6,449.1v7.3M480.2,296.9h-7.3M854.8,296.9h7.3M714.3,74.5v-7.3M714.3,449.1v7.3M480.2,308.6h-7.3M854.8,308.6h7.3M726,74.5v-7.3M726,449.1v7.3M480.2,320.3h-7.3M854.8,320.3h7.3M737.7,74.5v-7.3M737.7,449.1v7.3M480.2,332h-7.3M854.8,332h7.3M749.4,74.5v-7.3M749.4,449.1v7.3M480.2,343.7h-7.3M854.8,343.7h7.3M772.9,74.5v-7.3M772.9,449.1v7.3M480.2,367.2h-7.3M854.8,367.2h7.3M784.6,74.5v-7.3M784.6,449.1v7.3M480.2,378.9h-7.3M854.8,378.9h7.3M796.3,74.5v-7.3M796.3,449.1v7.3M480.2,390.6h-7.3M854.8,390.6h7.3M808,74.5v-7.3M808,449.1v7.3M480.2,402.3h-7.3M854.8,402.3h7.3M819.7,74.5v-7.3M819.7,449.1v7.3M480.2,414h-7.3M854.8,414h7.3M831.4,74.5v-7.3M831.4,449.1v7.3M480.2,425.7h-7.3M854.8,425.7h7.3M843.1,74.5v-7.3M843.1,449.1v7.3M480.2,437.4h-7.3M854.8,437.4h7.3" stroke="#000" stroke-width="1.3" fill="none"/>
<rect x="58.9" y="509.3" width="9.2" height="9.4" fill="#000000"/><rect x="68" y="509.3" width="9.2" height="9.4" fill="#070707"/><rect x="77.1" y="509.3" width="9.2" height="9.4" fill="#0e0e0e"/><rect x="86.2" y="509.3" width="9.2" height="9.4" fill="#161616"/><rect x="95.3" y="509.3" width="9.2" height="9.4" fill="#1d1d1d"/><rect x="104.4" y="509.3" width="9.2" height="9.4" fill="#242424"/><rect x="113.5" y="509.3" width="9.2" height="9.4" fill="#2b2b2b"/><rect x="122.6" y="509.3" width="9.2" height="9.4" fill="#323232"/><rect x="131.7" y="509.3" width="9.2" height="9.4" fill="#393939"/><rect x="140.8" y="509.3" width="9.2" height="9.4" fill="#414141"/><rect x="149.9" y="509.3" width="9.2" height="9.4" fill="#484848"/><rect x="159" y="509.3" width="9.2" height="9.4" fill="#4f4f4f"/><rect x="168.1" y="509.3" width="9.2" height="9.4" fill="#565656"/><rect x="177.2" y="509.3" width="9.2" height="9.4" fill="#5d5d5d"/><rect x="186.3" y="509.3" width="9.2" height="9.4" fill="#646464"/><rect x="195.4" y="509.3" width="9.2" height="9.4" fill="#6c6c6c"/><rect x="204.5" y="509.3" width="9.2" height="9.4" fill="#737373"/><rect x="213.6" y="509.3" width="9.2" height="9.4" fill="#7a7a7a"/><rect x="222.7" y="509.3" width="9.2" height="9.4" fill="#818181"/><rect x="231.8" y="509.3" width="9.2" height="9.4" fill="#888888"/><rect x="240.9" y="509.3" width="9.2" height="9.4" fill="#909090"/><rect x="250" y="509.3" width="9.2" height="9.4" fill="#979797"/><rect x="259.1" y="509.3" width="9.2" height="9.4" fill="#9e9e9e"/><rect x="268.2" y="509.3" width="9.2" height="9.4" fill="#a5a5a5"/><rect x="277.3" y="509.3" width="9.2" height="9.4" fill="#acacac"/><rect x="286.4" y="509.3" width="9.2" height="9.4" fill="#b3b3b3"/><rect x="295.5" y="509.3" width="9.2" height="9.4" fill="#bbbbbb"/><rect x="304.6" y="509.3" width="9.2" height="9.4" fill="#c2c2c2"/><rect x="313.7" y="509.3" width="9.2" height="9.4" fill="#c9c9c9"/><rect x="322.8" y="509.3" width="9.2" height="9.4" fill="#d0d0d0"/><rect x="331.9" y="509.3" width="9.2" height="9.4" fill="#d7d7d7"/><rect x="341" y="509.3" width="9.2" height="9.4" fill="#dedede"/><rect x="350.1" y="509.3" width="9.2" height="9.4" fill="#e6e6e6"/><rect x="359.2" y="509.3" width="9.2" height="9.4" fill="#ededed"/><rect x="368.3" y="509.3" width="9.2" height="9.4" fill="#f4f4f4"/><rect x="377.4" y="509.3" width="9.2" height="9.4" fill="#fbfbfb"/>
<path d="M386.5,509.3L395.8,514L386.5,518.7Z" fill="#ffff00"/><path d="M58.9,509.3L386.5,509.3L395.8,514L386.5,518.7L58.9,518.7Z" fill="none" stroke="#000" stroke-width="2" stroke-linejoin="miter"/>
<path d="M58.9,509.3V518.7M68,509.3V518.7M77.1,509.3V518.7M86.2,509.3V518.7M95.3,509.3V518.7M104.4,509.3V518.7M113.5,509.3V518.7M122.6,509.3V518.7M131.7,509.3V518.7M140.8,509.3V518.7M149.9,509.3V518.7M159,509.3V518.7M168.1,509.3V518.7M177.2,509.3V518.7M186.3,509.3V518.7M195.4,509.3V518.7M204.5,509.3V518.7M213.6,509.3V518.7M222.7,509.3V518.7M231.8,509.3V518.7M240.9,509.3V518.7M250,509.3V518.7M259.1,509.3V518.7M268.2,509.3V518.7M277.3,509.3V518.7M286.4,509.3V518.7M295.5,509.3V518.7M304.6,509.3V518.7M313.7,509.3V518.7M322.8,509.3V518.7M331.9,509.3V518.7M341,509.3V518.7M350.1,509.3V518.7M359.2,509.3V518.7M368.3,509.3V518.7M377.4,509.3V518.7M386.5,509.3V518.7" stroke="#000" stroke-width="1.7" fill="none"/>
<path d="M58.9,518.7V533.7M104.4,518.7V533.7M149.9,518.7V533.7M195.4,518.7V533.7M240.9,518.7V533.7M286.4,518.7V533.7M331.9,518.7V533.7M377.4,518.7V533.7" stroke="#000" stroke-width="2.1" fill="none"/>
<path d="M67,519.5L68,526.8L69,519.5ZM76,519.5L77.1,526.8L78.1,519.5ZM85.1,519.5L86.2,526.8L87.2,519.5ZM94.2,519.5L95.3,526.8L96.3,519.5ZM112.5,519.5L113.5,526.8L114.5,519.5ZM121.5,519.5L122.6,526.8L123.6,519.5ZM130.6,519.5L131.7,526.8L132.8,519.5ZM139.7,519.5L140.8,526.8L141.8,519.5ZM157.9,519.5L159,526.8L160.1,519.5ZM167,519.5L168.1,526.8L169.2,519.5ZM176.1,519.5L177.2,526.8L178.2,519.5ZM185.2,519.5L186.3,526.8L187.3,519.5ZM203.4,519.5L204.5,526.8L205.6,519.5ZM212.5,519.5L213.6,526.8L214.7,519.5ZM221.6,519.5L222.7,526.8L223.8,519.5ZM230.8,519.5L231.8,526.8L232.9,519.5ZM248.9,519.5L250,526.8L251.1,519.5ZM258,519.5L259.1,526.8L260.1,519.5ZM267.1,519.5L268.2,526.8L269.2,519.5ZM276.2,519.5L277.3,526.8L278.3,519.5ZM294.4,519.5L295.5,526.8L296.6,519.5ZM303.5,519.5L304.6,526.8L305.6,519.5ZM312.6,519.5L313.7,526.8L314.8,519.5ZM321.7,519.5L322.8,526.8L323.8,519.5ZM339.9,519.5L341,526.8L342,519.5ZM349,519.5L350.1,526.8L351.1,519.5ZM358.1,519.5L359.2,526.8L360.2,519.5ZM367.2,519.5L368.3,526.8L369.3,519.5ZM385.4,519.5L386.5,526.8L387.5,519.5Z" fill="#000" stroke="#000" stroke-width=".4"/>
<rect x="480.4" y="509.3" width="8.7" height="9.4" fill="#ccffff"/><rect x="489" y="509.3" width="8.7" height="9.4" fill="#b0ffff"/><rect x="497.6" y="509.3" width="8.7" height="9.4" fill="#98ffff"/><rect x="506.2" y="509.3" width="8.7" height="9.4" fill="#80ffff"/><rect x="514.8" y="509.3" width="8.7" height="9.4" fill="#70f8ff"/><rect x="523.5" y="509.3" width="8.7" height="9.4" fill="#50d8ff"/><rect x="532.1" y="509.3" width="8.7" height="9.4" fill="#38c0ff"/><rect x="540.7" y="509.3" width="8.7" height="9.4" fill="#28a8f8"/><rect x="549.3" y="509.3" width="8.7" height="9.4" fill="#1890f8"/><rect x="557.9" y="509.3" width="8.7" height="9.4" fill="#1070f0"/><rect x="566.5" y="509.3" width="8.7" height="9.4" fill="#0858f0"/><rect x="575.1" y="509.3" width="8.7" height="9.4" fill="#0438f0"/><rect x="583.7" y="509.3" width="8.7" height="9.4" fill="#0010ff"/><rect x="592.3" y="509.3" width="8.7" height="9.4" fill="#0000f0"/><rect x="600.9" y="509.3" width="8.7" height="9.4" fill="#0000d0"/><rect x="609.6" y="509.3" width="8.7" height="9.4" fill="#0000b0"/><rect x="618.2" y="509.3" width="8.7" height="9.4" fill="#000098"/><rect x="626.8" y="509.3" width="8.7" height="9.4" fill="#000080"/><rect x="635.4" y="509.3" width="8.7" height="9.4" fill="#000060"/><rect x="644" y="509.3" width="8.7" height="9.4" fill="#f00800"/><rect x="652.6" y="509.3" width="8.7" height="9.4" fill="#ff2000"/><rect x="661.2" y="509.3" width="8.7" height="9.4" fill="#ff3800"/><rect x="669.8" y="509.3" width="8.7" height="9.4" fill="#ff5000"/><rect x="678.4" y="509.3" width="8.7" height="9.4" fill="#ff6808"/><rect x="687.1" y="509.3" width="8.7" height="9.4" fill="#ff7808"/><rect x="695.7" y="509.3" width="8.7" height="9.4" fill="#ff8c10"/><rect x="704.3" y="509.3" width="8.7" height="9.4" fill="#ffa018"/><rect x="712.9" y="509.3" width="8.7" height="9.4" fill="#ffb828"/><rect x="721.5" y="509.3" width="8.7" height="9.4" fill="#ffc830"/><rect x="730.1" y="509.3" width="8.7" height="9.4" fill="#ffe040"/><rect x="738.7" y="509.3" width="8.7" height="9.4" fill="#fff850"/><rect x="747.3" y="509.3" width="8.7" height="9.4" fill="#ffff60"/><rect x="755.9" y="509.3" width="8.7" height="9.4" fill="#ffff70"/><rect x="764.5" y="509.3" width="8.7" height="9.4" fill="#ffff88"/><rect x="773.2" y="509.3" width="8.7" height="9.4" fill="#ffffa0"/><rect x="781.8" y="509.3" width="8.7" height="9.4" fill="#ffffb8"/><rect x="790.4" y="509.3" width="8.7" height="9.4" fill="#ffffd0"/><rect x="799" y="509.3" width="8.7" height="9.4" fill="#ffffe0"/>
<path d="M480.4,509.3L471.1,514L480.4,518.7Z" fill="#e0ffff"/><path d="M807.6,509.3L816.9,514L807.6,518.7Z" fill="#fffff0"/><path d="M480.4,509.3L807.6,509.3L816.9,514L807.6,518.7L480.4,518.7L471.1,514Z" fill="none" stroke="#000" stroke-width="2" stroke-linejoin="miter"/>
<path d="M480.4,509.3V518.7M489,509.3V518.7M497.6,509.3V518.7M506.2,509.3V518.7M514.8,509.3V518.7M523.5,509.3V518.7M532.1,509.3V518.7M540.7,509.3V518.7M549.3,509.3V518.7M557.9,509.3V518.7M566.5,509.3V518.7M575.1,509.3V518.7M583.7,509.3V518.7M592.3,509.3V518.7M600.9,509.3V518.7M609.6,509.3V518.7M618.2,509.3V518.7M626.8,509.3V518.7M635.4,509.3V518.7M644,509.3V518.7M652.6,509.3V518.7M661.2,509.3V518.7M669.8,509.3V518.7M678.4,509.3V518.7M687.1,509.3V518.7M695.7,509.3V518.7M704.3,509.3V518.7M712.9,509.3V518.7M721.5,509.3V518.7M730.1,509.3V518.7M738.7,509.3V518.7M747.3,509.3V518.7M755.9,509.3V518.7M764.5,509.3V518.7M773.2,509.3V518.7M781.8,509.3V518.7M790.4,509.3V518.7M799,509.3V518.7M807.6,509.3V518.7" stroke="#000" stroke-width="1.7" fill="none"/>
<path d="M506.2,518.7V533.7M575.1,518.7V533.7M644,518.7V533.7M712.9,518.7V533.7M781.8,518.7V533.7" stroke="#000" stroke-width="2.1" fill="none"/>
<path d="M479.3,519.5L480.4,526.8L481.4,519.5ZM488,519.5L489,526.8L490.1,519.5ZM496.6,519.5L497.6,526.8L498.7,519.5ZM513.8,519.5L514.8,526.8L515.9,519.5ZM522.4,519.5L523.5,526.8L524.5,519.5ZM531,519.5L532.1,526.8L533.1,519.5ZM539.6,519.5L540.7,526.8L541.7,519.5ZM548.2,519.5L549.3,526.8L550.3,519.5ZM556.8,519.5L557.9,526.8L558.9,519.5ZM565.5,519.5L566.5,526.8L567.6,519.5ZM582.7,519.5L583.7,526.8L584.8,519.5ZM591.3,519.5L592.3,526.8L593.4,519.5ZM599.9,519.5L600.9,526.8L602,519.5ZM608.5,519.5L609.6,526.8L610.6,519.5ZM617.1,519.5L618.2,526.8L619.2,519.5ZM625.7,519.5L626.8,526.8L627.8,519.5ZM634.3,519.5L635.4,526.8L636.4,519.5ZM651.6,519.5L652.6,526.8L653.7,519.5ZM660.2,519.5L661.2,526.8L662.3,519.5ZM668.8,519.5L669.8,526.8L670.9,519.5ZM677.4,519.5L678.4,526.8L679.5,519.5ZM686,519.5L687.1,526.8L688.1,519.5ZM694.6,519.5L695.7,526.8L696.7,519.5ZM703.2,519.5L704.3,526.8L705.3,519.5ZM720.4,519.5L721.5,526.8L722.5,519.5ZM729.1,519.5L730.1,526.8L731.2,519.5ZM737.7,519.5L738.7,526.8L739.8,519.5ZM746.3,519.5L747.3,526.8L748.4,519.5ZM754.9,519.5L755.9,526.8L757,519.5ZM763.5,519.5L764.5,526.8L765.6,519.5ZM772.1,519.5L773.2,526.8L774.2,519.5ZM789.3,519.5L790.4,526.8L791.4,519.5ZM797.9,519.5L799,526.8L800,519.5ZM806.6,519.5L807.6,526.8L808.6,519.5Z" fill="#000" stroke="#000" stroke-width=".4"/>
<text class="ti" x="60" y="24.4">Fukuoka, 20190124 [11:36, el=0.0]</text>
<text class="s1" x="59.4" y="58">SNR [dB]</text>
<text class="s2" x="481.5" y="58">Doppler Velocity [m/s]</text>
<text class="tk" x="31.4" y="85.7" text-anchor="end">8</text><text class="tk" x="31.4" y="179.3" text-anchor="end">4</text><text class="tk" x="31.4" y="273" text-anchor="end">0</text><text class="tk" x="31.4" y="366.7" text-anchor="end">−4</text><text class="tk" x="31.4" y="460.3" text-anchor="end">−8</text>
<text class="tk" x="59" y="500.8" text-anchor="middle">−8</text><text class="tk" x="152.7" y="500.8" text-anchor="middle">−4</text><text class="tk" x="246.3" y="500.8" text-anchor="middle">0</text><text class="tk" x="340" y="500.8" text-anchor="middle">4</text><text class="tk" x="433.6" y="500.8" text-anchor="middle">8</text>
<text class="tk" x="480.2" y="500.8" text-anchor="middle">−8</text><text class="tk" x="573.9" y="500.8" text-anchor="middle">−4</text><text class="tk" x="667.5" y="500.8" text-anchor="middle">0</text><text class="tk" x="761.2" y="500.8" text-anchor="middle">4</text><text class="tk" x="854.8" y="500.8" text-anchor="middle">8</text>
<text class="tk" x="59.1" y="571.2" text-anchor="middle">0</text><text class="tk" x="104.6" y="571.2" text-anchor="middle">2.5</text><text class="tk" x="150.1" y="571.2" text-anchor="middle">5</text><text class="tk" x="195.6" y="571.2" text-anchor="middle">7.5</text><text class="tk" x="241.1" y="571.2" text-anchor="middle">10</text><text class="tk" x="286.6" y="571.2" text-anchor="middle">12.5</text><text class="tk" x="332.1" y="571.2" text-anchor="middle">15</text><text class="tk" x="377.6" y="571.2" text-anchor="middle">17.5</text>
<text class="tk" x="506.4" y="571.2" text-anchor="middle">−8</text><text class="tk" x="575.3" y="571.2" text-anchor="middle">−4</text><text class="tk" x="644.2" y="571.2" text-anchor="middle">0</text><text class="tk" x="713.1" y="571.2" text-anchor="middle">4</text><text class="tk" x="782" y="571.2" text-anchor="middle">8</text>
</svg>
</body></html>
